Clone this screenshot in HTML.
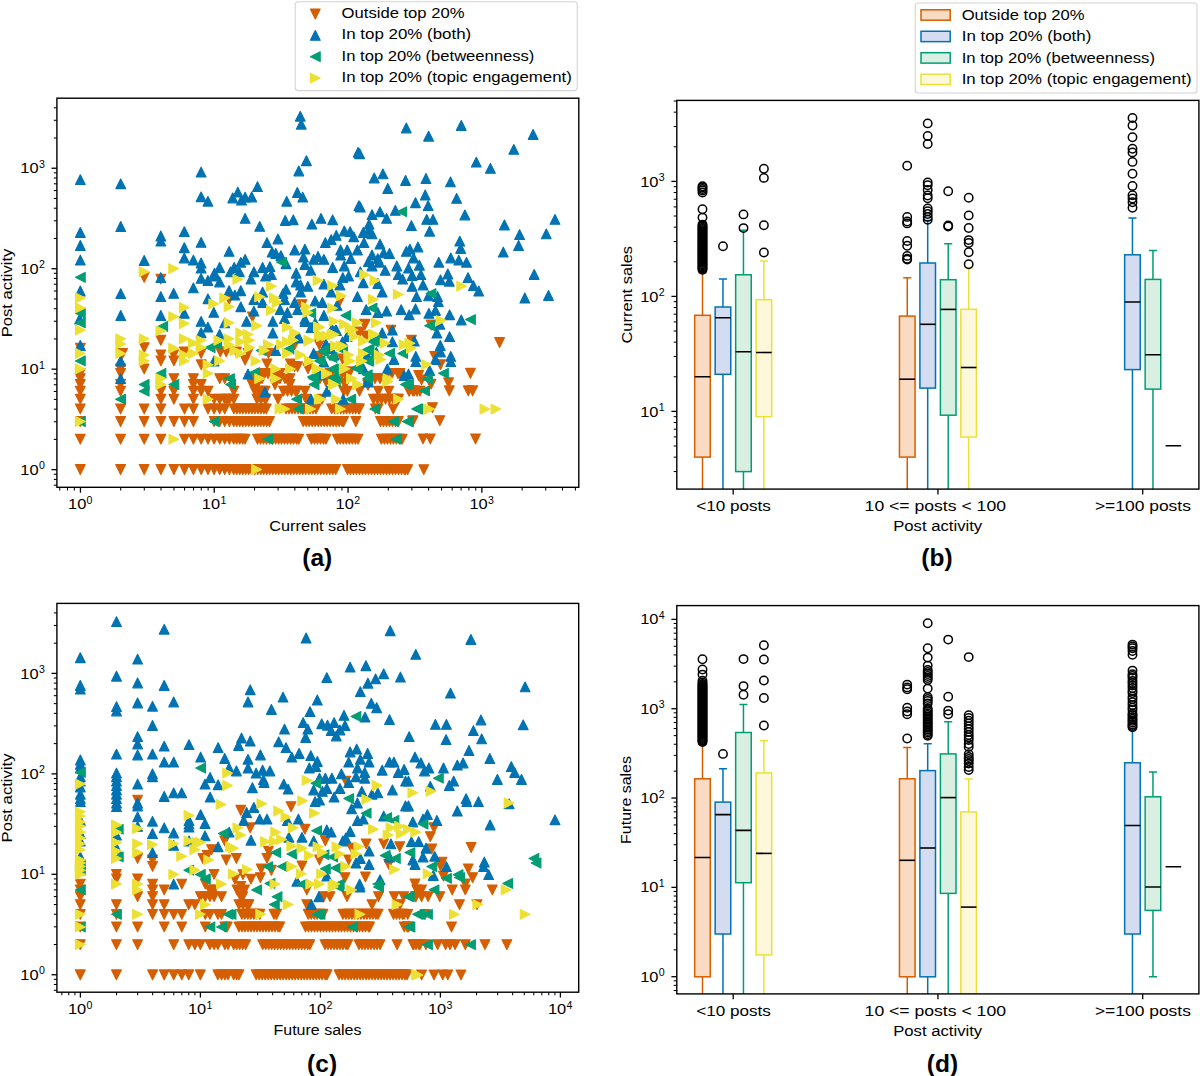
<!DOCTYPE html>
<html><head><meta charset="utf-8"><style>
html,body{margin:0;padding:0;background:#fff;width:1200px;height:1076px;overflow:hidden}
svg{display:block}
.mo{fill:#d55e00;stroke:#d55e00} .mb{fill:#0173b2;stroke:#0173b2} .mg{fill:#029e73;stroke:#029e73} .my{fill:#ece133;stroke:#ece133}
.mo,.mb,.mg,.my{stroke-width:1.15px;stroke-linejoin:round}
.oc{fill:none;stroke:#000;stroke-width:1.5px}
</style></head><body>
<svg width="1200" height="1076" viewBox="0 0 1200 1076">
<rect width="1200" height="1076" fill="#fff"/>
<svg x="56.9" y="98.2" width="521.9" height="389.1" overflow="hidden"><g transform="translate(-56.9,-98.2)">
<path class="mo" d="M75.5 343.4 85.2 343.4 80.3 353.2Z"/>
<path class="mo" d="M117.8 348.5 127.5 348.5 122.6 358.3Z"/>
<path class="mo" d="M139.3 272.4 149.1 272.4 144.2 282.2Z"/>
<path class="mo" d="M139.3 342.7 149.1 342.7 144.2 352.5Z"/>
<path class="mo" d="M156.0 274.2 165.7 274.2 160.8 283.9Z"/>
<path class="mo" d="M156.0 335.4 165.7 335.4 160.8 345.2Z"/>
<path class="mo" d="M156.0 350.0 165.7 350.0 160.8 359.8Z"/>
<path class="mo" d="M168.8 350.0 178.5 350.0 173.7 359.8Z"/>
<path class="mo" d="M179.4 347.1 189.2 347.1 184.3 356.8Z"/>
<path class="mo" d="M196.2 348.5 206.0 348.5 201.1 358.3Z"/>
<path class="mo" d="M215.5 347.1 225.2 347.1 220.3 356.8Z"/>
<path class="mo" d="M221.3 347.1 231.0 347.1 226.2 356.8Z"/>
<path class="mo" d="M224.2 294.6 234.0 294.6 229.1 304.3Z"/>
<path class="mo" d="M297.1 299.7 306.9 299.7 302.0 309.4Z"/>
<path class="mo" d="M335.0 296.0 344.8 296.0 339.9 305.8Z"/>
<path class="mo" d="M247.5 312.1 257.3 312.1 252.4 321.8Z"/>
<path class="mo" d="M359.8 319.4 369.6 319.4 364.7 329.1Z"/>
<path class="mo" d="M386.1 325.2 395.8 325.2 391.0 335.0Z"/>
<path class="mo" d="M354.0 328.1 363.8 328.1 358.9 337.9Z"/>
<path class="mo" d="M361.3 331.0 371.0 331.0 366.2 340.8Z"/>
<path class="mo" d="M289.8 339.8 299.6 339.8 294.7 349.5Z"/>
<path class="mo" d="M314.6 338.3 324.4 338.3 319.5 348.1Z"/>
<path class="mo" d="M231.5 347.1 241.3 347.1 236.4 356.8Z"/>
<path class="mo" d="M243.2 348.5 252.9 348.5 248.0 358.3Z"/>
<path class="mo" d="M263.6 348.5 273.3 348.5 268.5 358.3Z"/>
<path class="mo" d="M314.6 351.5 324.4 351.5 319.5 361.2Z"/>
<path class="mo" d="M426.2 320.1 435.9 320.1 431.1 329.9Z"/>
<path class="mo" d="M494.7 337.6 504.5 337.6 499.6 347.4Z"/>
<path class="mo" d="M406.5 335.4 416.3 335.4 411.4 345.2Z"/>
<path class="mo" d="M429.8 351.5 439.6 351.5 434.7 361.2Z"/>
<path class="mo" d="M75.4 464.6 85.2 464.6 80.3 474.4Z"/>
<path class="mo" d="M115.7 464.6 125.5 464.6 120.6 474.4Z"/>
<path class="mo" d="M139.3 464.6 149.0 464.6 144.2 474.4Z"/>
<path class="mo" d="M156.0 464.6 165.8 464.6 160.9 474.4Z"/>
<path class="mo" d="M169.0 464.6 178.7 464.6 173.9 474.4Z"/>
<path class="mo" d="M179.6 464.6 189.3 464.6 184.5 474.4Z"/>
<path class="mo" d="M188.5 464.6 198.3 464.6 193.4 474.4Z"/>
<path class="mo" d="M196.3 464.6 206.1 464.6 201.2 474.4Z"/>
<path class="mo" d="M203.2 464.6 212.9 464.6 208.0 474.4Z"/>
<path class="mo" d="M209.3 464.6 219.0 464.6 214.1 474.4Z"/>
<path class="mo" d="M214.8 464.6 224.6 464.6 219.7 474.4Z"/>
<path class="mo" d="M219.9 464.6 229.6 464.6 224.7 474.4Z"/>
<path class="mo" d="M224.5 464.6 234.3 464.6 229.4 474.4Z"/>
<path class="mo" d="M75.4 434.3 85.2 434.3 80.3 444.1Z"/>
<path class="mo" d="M115.7 434.3 125.5 434.3 120.6 444.1Z"/>
<path class="mo" d="M139.3 434.3 149.0 434.3 144.2 444.1Z"/>
<path class="mo" d="M156.0 434.3 165.8 434.3 160.9 444.1Z"/>
<path class="mo" d="M179.6 434.3 189.3 434.3 184.5 444.1Z"/>
<path class="mo" d="M188.5 434.3 198.3 434.3 193.4 444.1Z"/>
<path class="mo" d="M196.3 434.3 206.1 434.3 201.2 444.1Z"/>
<path class="mo" d="M203.2 434.3 212.9 434.3 208.0 444.1Z"/>
<path class="mo" d="M209.3 434.3 219.0 434.3 214.1 444.1Z"/>
<path class="mo" d="M214.8 434.3 224.6 434.3 219.7 444.1Z"/>
<path class="mo" d="M219.9 434.3 229.6 434.3 224.7 444.1Z"/>
<path class="mo" d="M224.5 434.3 234.3 434.3 229.4 444.1Z"/>
<path class="mo" d="M75.4 416.6 85.2 416.6 80.3 426.4Z"/>
<path class="mo" d="M115.7 416.6 125.5 416.6 120.6 426.4Z"/>
<path class="mo" d="M139.3 416.6 149.0 416.6 144.2 426.4Z"/>
<path class="mo" d="M156.0 416.6 165.8 416.6 160.9 426.4Z"/>
<path class="mo" d="M169.0 416.6 178.7 416.6 173.9 426.4Z"/>
<path class="mo" d="M179.6 416.6 189.3 416.6 184.5 426.4Z"/>
<path class="mo" d="M188.5 416.6 198.3 416.6 193.4 426.4Z"/>
<path class="mo" d="M209.3 416.6 219.0 416.6 214.1 426.4Z"/>
<path class="mo" d="M214.8 416.6 224.6 416.6 219.7 426.4Z"/>
<path class="mo" d="M219.9 416.6 229.6 416.6 224.7 426.4Z"/>
<path class="mo" d="M224.5 416.6 234.3 416.6 229.4 426.4Z"/>
<path class="mo" d="M75.4 404.1 85.2 404.1 80.3 413.8Z"/>
<path class="mo" d="M115.7 404.1 125.5 404.1 120.6 413.8Z"/>
<path class="mo" d="M139.3 404.1 149.0 404.1 144.2 413.8Z"/>
<path class="mo" d="M156.0 404.1 165.8 404.1 160.9 413.8Z"/>
<path class="mo" d="M179.6 404.1 189.3 404.1 184.5 413.8Z"/>
<path class="mo" d="M188.5 404.1 198.3 404.1 193.4 413.8Z"/>
<path class="mo" d="M203.2 404.1 212.9 404.1 208.0 413.8Z"/>
<path class="mo" d="M209.3 404.1 219.0 404.1 214.1 413.8Z"/>
<path class="mo" d="M214.8 404.1 224.6 404.1 219.7 413.8Z"/>
<path class="mo" d="M219.9 404.1 229.6 404.1 224.7 413.8Z"/>
<path class="mo" d="M75.4 394.3 85.2 394.3 80.3 404.1Z"/>
<path class="mo" d="M156.0 394.3 165.8 394.3 160.9 404.1Z"/>
<path class="mo" d="M169.0 394.3 178.7 394.3 173.9 404.1Z"/>
<path class="mo" d="M188.5 394.3 198.3 394.3 193.4 404.1Z"/>
<path class="mo" d="M209.3 394.3 219.0 394.3 214.1 404.1Z"/>
<path class="mo" d="M214.8 394.3 224.6 394.3 219.7 404.1Z"/>
<path class="mo" d="M219.9 394.3 229.6 394.3 224.7 404.1Z"/>
<path class="mo" d="M224.5 394.3 234.3 394.3 229.4 404.1Z"/>
<path class="mo" d="M75.4 386.3 85.2 386.3 80.3 396.1Z"/>
<path class="mo" d="M115.7 386.3 125.5 386.3 120.6 396.1Z"/>
<path class="mo" d="M156.0 386.3 165.8 386.3 160.9 396.1Z"/>
<path class="mo" d="M169.0 386.3 178.7 386.3 173.9 396.1Z"/>
<path class="mo" d="M188.5 386.3 198.3 386.3 193.4 396.1Z"/>
<path class="mo" d="M196.3 386.3 206.1 386.3 201.2 396.1Z"/>
<path class="mo" d="M203.2 386.3 212.9 386.3 208.0 396.1Z"/>
<path class="mo" d="M75.4 379.6 85.2 379.6 80.3 389.4Z"/>
<path class="mo" d="M115.7 379.6 125.5 379.6 120.6 389.4Z"/>
<path class="mo" d="M196.3 379.6 206.1 379.6 201.2 389.4Z"/>
<path class="mo" d="M188.5 379.6 198.3 379.6 193.4 389.4Z"/>
<path class="mo" d="M75.4 373.8 85.2 373.8 80.3 383.5Z"/>
<path class="mo" d="M169.0 373.8 178.7 373.8 173.9 383.5Z"/>
<path class="mo" d="M188.5 373.8 198.3 373.8 193.4 383.5Z"/>
<path class="mo" d="M214.8 373.8 224.6 373.8 219.7 383.5Z"/>
<path class="mo" d="M219.9 373.8 229.6 373.8 224.7 383.5Z"/>
<path class="mo" d="M75.4 368.6 85.2 368.6 80.3 378.4Z"/>
<path class="mo" d="M115.7 368.6 125.5 368.6 120.6 378.4Z"/>
<path class="mo" d="M115.7 364.0 125.5 364.0 120.6 373.8Z"/>
<path class="mo" d="M139.3 364.0 149.0 364.0 144.2 373.8Z"/>
<path class="mo" d="M196.3 359.9 206.1 359.9 201.2 369.6Z"/>
<path class="mo" d="M156.0 356.1 165.8 356.1 160.9 365.8Z"/>
<path class="mo" d="M169.0 356.1 178.7 356.1 173.9 365.8Z"/>
<path class="mo" d="M228.8 464.6 238.6 464.6 233.7 474.4Z"/>
<path class="mo" d="M231.8 464.6 241.6 464.6 236.7 474.4Z"/>
<path class="mo" d="M234.8 464.6 244.6 464.6 239.7 474.4Z"/>
<path class="mo" d="M237.8 464.6 247.6 464.6 242.7 474.4Z"/>
<path class="mo" d="M240.8 464.6 250.6 464.6 245.7 474.4Z"/>
<path class="mo" d="M243.8 464.6 253.6 464.6 248.7 474.4Z"/>
<path class="mo" d="M246.8 464.6 256.6 464.6 251.7 474.4Z"/>
<path class="mo" d="M249.8 464.6 259.6 464.6 254.7 474.4Z"/>
<path class="mo" d="M252.8 464.6 262.6 464.6 257.7 474.4Z"/>
<path class="mo" d="M255.8 464.6 265.6 464.6 260.7 474.4Z"/>
<path class="mo" d="M258.8 464.6 268.6 464.6 263.7 474.4Z"/>
<path class="mo" d="M261.8 464.6 271.6 464.6 266.7 474.4Z"/>
<path class="mo" d="M264.8 464.6 274.6 464.6 269.7 474.4Z"/>
<path class="mo" d="M267.8 464.6 277.6 464.6 272.7 474.4Z"/>
<path class="mo" d="M270.8 464.6 280.6 464.6 275.7 474.4Z"/>
<path class="mo" d="M273.8 464.6 283.6 464.6 278.7 474.4Z"/>
<path class="mo" d="M276.8 464.6 286.6 464.6 281.7 474.4Z"/>
<path class="mo" d="M279.8 464.6 289.6 464.6 284.7 474.4Z"/>
<path class="mo" d="M282.8 464.6 292.6 464.6 287.7 474.4Z"/>
<path class="mo" d="M285.8 464.6 295.6 464.6 290.7 474.4Z"/>
<path class="mo" d="M288.8 464.6 298.6 464.6 293.7 474.4Z"/>
<path class="mo" d="M291.8 464.6 301.6 464.6 296.7 474.4Z"/>
<path class="mo" d="M294.8 464.6 304.6 464.6 299.7 474.4Z"/>
<path class="mo" d="M297.8 464.6 307.6 464.6 302.7 474.4Z"/>
<path class="mo" d="M300.8 464.6 310.6 464.6 305.7 474.4Z"/>
<path class="mo" d="M303.8 464.6 313.6 464.6 308.7 474.4Z"/>
<path class="mo" d="M306.8 464.6 316.6 464.6 311.7 474.4Z"/>
<path class="mo" d="M309.8 464.6 319.6 464.6 314.7 474.4Z"/>
<path class="mo" d="M312.8 464.6 322.6 464.6 317.7 474.4Z"/>
<path class="mo" d="M315.8 464.6 325.6 464.6 320.7 474.4Z"/>
<path class="mo" d="M318.8 464.6 328.6 464.6 323.7 474.4Z"/>
<path class="mo" d="M321.8 464.6 331.6 464.6 326.7 474.4Z"/>
<path class="mo" d="M324.8 464.6 334.6 464.6 329.7 474.4Z"/>
<path class="mo" d="M327.8 464.6 337.6 464.6 332.7 474.4Z"/>
<path class="mo" d="M330.8 464.6 340.6 464.6 335.7 474.4Z"/>
<path class="mo" d="M342.6 464.6 352.4 464.6 347.5 474.4Z"/>
<path class="mo" d="M345.6 464.6 355.4 464.6 350.5 474.4Z"/>
<path class="mo" d="M348.6 464.6 358.4 464.6 353.5 474.4Z"/>
<path class="mo" d="M351.6 464.6 361.4 464.6 356.5 474.4Z"/>
<path class="mo" d="M354.6 464.6 364.4 464.6 359.5 474.4Z"/>
<path class="mo" d="M357.6 464.6 367.4 464.6 362.5 474.4Z"/>
<path class="mo" d="M360.6 464.6 370.4 464.6 365.5 474.4Z"/>
<path class="mo" d="M363.6 464.6 373.4 464.6 368.5 474.4Z"/>
<path class="mo" d="M366.6 464.6 376.4 464.6 371.5 474.4Z"/>
<path class="mo" d="M369.6 464.6 379.4 464.6 374.5 474.4Z"/>
<path class="mo" d="M372.6 464.6 382.4 464.6 377.5 474.4Z"/>
<path class="mo" d="M375.6 464.6 385.4 464.6 380.5 474.4Z"/>
<path class="mo" d="M378.6 464.6 388.4 464.6 383.5 474.4Z"/>
<path class="mo" d="M381.6 464.6 391.4 464.6 386.5 474.4Z"/>
<path class="mo" d="M384.6 464.6 394.4 464.6 389.5 474.4Z"/>
<path class="mo" d="M387.6 464.6 397.4 464.6 392.5 474.4Z"/>
<path class="mo" d="M390.6 464.6 400.4 464.6 395.5 474.4Z"/>
<path class="mo" d="M393.6 464.6 403.4 464.6 398.5 474.4Z"/>
<path class="mo" d="M396.6 464.6 406.4 464.6 401.5 474.4Z"/>
<path class="mo" d="M399.6 464.6 409.4 464.6 404.5 474.4Z"/>
<path class="mo" d="M400.5 464.6 410.3 464.6 405.4 474.4Z"/>
<path class="mo" d="M228.8 434.3 238.6 434.3 233.7 444.1Z"/>
<path class="mo" d="M231.8 434.3 241.6 434.3 236.7 444.1Z"/>
<path class="mo" d="M234.8 434.3 244.6 434.3 239.7 444.1Z"/>
<path class="mo" d="M237.8 434.3 247.6 434.3 242.7 444.1Z"/>
<path class="mo" d="M240.1 434.3 249.9 434.3 245.0 444.1Z"/>
<path class="mo" d="M252.7 434.3 262.5 434.3 257.6 444.1Z"/>
<path class="mo" d="M255.7 434.3 265.5 434.3 260.6 444.1Z"/>
<path class="mo" d="M258.7 434.3 268.5 434.3 263.6 444.1Z"/>
<path class="mo" d="M261.7 434.3 271.5 434.3 266.6 444.1Z"/>
<path class="mo" d="M264.7 434.3 274.5 434.3 269.6 444.1Z"/>
<path class="mo" d="M267.7 434.3 277.5 434.3 272.6 444.1Z"/>
<path class="mo" d="M270.7 434.3 280.5 434.3 275.6 444.1Z"/>
<path class="mo" d="M273.7 434.3 283.5 434.3 278.6 444.1Z"/>
<path class="mo" d="M276.7 434.3 286.5 434.3 281.6 444.1Z"/>
<path class="mo" d="M279.7 434.3 289.5 434.3 284.6 444.1Z"/>
<path class="mo" d="M282.7 434.3 292.5 434.3 287.6 444.1Z"/>
<path class="mo" d="M285.7 434.3 295.5 434.3 290.6 444.1Z"/>
<path class="mo" d="M288.7 434.3 298.5 434.3 293.6 444.1Z"/>
<path class="mo" d="M291.7 434.3 301.5 434.3 296.6 444.1Z"/>
<path class="mo" d="M293.8 434.3 303.6 434.3 298.7 444.1Z"/>
<path class="mo" d="M306.6 434.3 316.4 434.3 311.5 444.1Z"/>
<path class="mo" d="M309.6 434.3 319.4 434.3 314.5 444.1Z"/>
<path class="mo" d="M312.6 434.3 322.4 434.3 317.5 444.1Z"/>
<path class="mo" d="M315.6 434.3 325.4 434.3 320.5 444.1Z"/>
<path class="mo" d="M318.6 434.3 328.4 434.3 323.5 444.1Z"/>
<path class="mo" d="M321.1 434.3 330.9 434.3 326.0 444.1Z"/>
<path class="mo" d="M332.4 434.3 342.2 434.3 337.3 444.1Z"/>
<path class="mo" d="M335.4 434.3 345.2 434.3 340.3 444.1Z"/>
<path class="mo" d="M338.4 434.3 348.2 434.3 343.3 444.1Z"/>
<path class="mo" d="M341.4 434.3 351.2 434.3 346.3 444.1Z"/>
<path class="mo" d="M344.4 434.3 354.2 434.3 349.3 444.1Z"/>
<path class="mo" d="M347.4 434.3 357.2 434.3 352.3 444.1Z"/>
<path class="mo" d="M350.4 434.3 360.2 434.3 355.3 444.1Z"/>
<path class="mo" d="M353.1 434.3 362.9 434.3 358.0 444.1Z"/>
<path class="mo" d="M376.5 434.3 386.3 434.3 381.4 444.1Z"/>
<path class="mo" d="M379.5 434.3 389.3 434.3 384.4 444.1Z"/>
<path class="mo" d="M382.5 434.3 392.3 434.3 387.4 444.1Z"/>
<path class="mo" d="M385.5 434.3 395.3 434.3 390.4 444.1Z"/>
<path class="mo" d="M388.5 434.3 398.3 434.3 393.4 444.1Z"/>
<path class="mo" d="M391.5 434.3 401.3 434.3 396.4 444.1Z"/>
<path class="mo" d="M394.5 434.3 404.3 434.3 399.4 444.1Z"/>
<path class="mo" d="M397.3 434.3 407.1 434.3 402.2 444.1Z"/>
<path class="mo" d="M228.8 416.6 238.6 416.6 233.7 426.4Z"/>
<path class="mo" d="M231.8 416.6 241.6 416.6 236.7 426.4Z"/>
<path class="mo" d="M234.8 416.6 244.6 416.6 239.7 426.4Z"/>
<path class="mo" d="M237.8 416.6 247.6 416.6 242.7 426.4Z"/>
<path class="mo" d="M240.8 416.6 250.6 416.6 245.7 426.4Z"/>
<path class="mo" d="M243.8 416.6 253.6 416.6 248.7 426.4Z"/>
<path class="mo" d="M246.8 416.6 256.6 416.6 251.7 426.4Z"/>
<path class="mo" d="M249.8 416.6 259.6 416.6 254.7 426.4Z"/>
<path class="mo" d="M252.8 416.6 262.6 416.6 257.7 426.4Z"/>
<path class="mo" d="M255.8 416.6 265.6 416.6 260.7 426.4Z"/>
<path class="mo" d="M258.8 416.6 268.6 416.6 263.7 426.4Z"/>
<path class="mo" d="M261.8 416.6 271.6 416.6 266.7 426.4Z"/>
<path class="mo" d="M264.6 416.6 274.4 416.6 269.5 426.4Z"/>
<path class="mo" d="M298.3 416.6 308.1 416.6 303.2 426.4Z"/>
<path class="mo" d="M301.3 416.6 311.1 416.6 306.2 426.4Z"/>
<path class="mo" d="M304.3 416.6 314.1 416.6 309.2 426.4Z"/>
<path class="mo" d="M307.3 416.6 317.1 416.6 312.2 426.4Z"/>
<path class="mo" d="M310.3 416.6 320.1 416.6 315.2 426.4Z"/>
<path class="mo" d="M313.3 416.6 323.1 416.6 318.2 426.4Z"/>
<path class="mo" d="M316.3 416.6 326.1 416.6 321.2 426.4Z"/>
<path class="mo" d="M319.3 416.6 329.1 416.6 324.2 426.4Z"/>
<path class="mo" d="M322.3 416.6 332.1 416.6 327.2 426.4Z"/>
<path class="mo" d="M325.3 416.6 335.1 416.6 330.2 426.4Z"/>
<path class="mo" d="M328.3 416.6 338.1 416.6 333.2 426.4Z"/>
<path class="mo" d="M331.3 416.6 341.1 416.6 336.2 426.4Z"/>
<path class="mo" d="M334.3 416.6 344.1 416.6 339.2 426.4Z"/>
<path class="mo" d="M337.3 416.6 347.1 416.6 342.2 426.4Z"/>
<path class="mo" d="M338.7 416.6 348.5 416.6 343.6 426.4Z"/>
<path class="mo" d="M350.9 416.6 360.7 416.6 355.8 426.4Z"/>
<path class="mo" d="M375.6 416.6 385.4 416.6 380.5 426.4Z"/>
<path class="mo" d="M378.6 416.6 388.4 416.6 383.5 426.4Z"/>
<path class="mo" d="M381.6 416.6 391.4 416.6 386.5 426.4Z"/>
<path class="mo" d="M384.6 416.6 394.4 416.6 389.5 426.4Z"/>
<path class="mo" d="M387.6 416.6 397.4 416.6 392.5 426.4Z"/>
<path class="mo" d="M390.6 416.6 400.4 416.6 395.5 426.4Z"/>
<path class="mo" d="M393.5 416.6 403.3 416.6 398.4 426.4Z"/>
<path class="mo" d="M407.8 416.6 417.6 416.6 412.7 426.4Z"/>
<path class="mo" d="M229.0 404.0 238.8 404.0 233.9 413.8Z"/>
<path class="mo" d="M232.0 404.0 241.8 404.0 236.9 413.8Z"/>
<path class="mo" d="M235.0 404.0 244.8 404.0 239.9 413.8Z"/>
<path class="mo" d="M238.0 404.0 247.8 404.0 242.9 413.8Z"/>
<path class="mo" d="M241.0 404.0 250.8 404.0 245.9 413.8Z"/>
<path class="mo" d="M244.0 404.0 253.8 404.0 248.9 413.8Z"/>
<path class="mo" d="M247.0 404.0 256.8 404.0 251.9 413.8Z"/>
<path class="mo" d="M250.0 404.0 259.8 404.0 254.9 413.8Z"/>
<path class="mo" d="M253.0 404.0 262.8 404.0 257.9 413.8Z"/>
<path class="mo" d="M256.0 404.0 265.8 404.0 260.9 413.8Z"/>
<path class="mo" d="M259.0 404.0 268.8 404.0 263.9 413.8Z"/>
<path class="mo" d="M261.4 404.0 271.2 404.0 266.3 413.8Z"/>
<path class="mo" d="M281.1 404.0 290.9 404.0 286.0 413.8Z"/>
<path class="mo" d="M284.1 404.0 293.9 404.0 289.0 413.8Z"/>
<path class="mo" d="M287.1 404.0 296.9 404.0 292.0 413.8Z"/>
<path class="mo" d="M290.1 404.0 299.9 404.0 295.0 413.8Z"/>
<path class="mo" d="M293.1 404.0 302.9 404.0 298.0 413.8Z"/>
<path class="mo" d="M296.1 404.0 305.9 404.0 301.0 413.8Z"/>
<path class="mo" d="M299.1 404.0 308.9 404.0 304.0 413.8Z"/>
<path class="mo" d="M302.1 404.0 311.9 404.0 307.0 413.8Z"/>
<path class="mo" d="M305.1 404.0 314.9 404.0 310.0 413.8Z"/>
<path class="mo" d="M308.1 404.0 317.9 404.0 313.0 413.8Z"/>
<path class="mo" d="M311.1 404.0 320.9 404.0 316.0 413.8Z"/>
<path class="mo" d="M326.8 404.0 336.6 404.0 331.7 413.8Z"/>
<path class="mo" d="M329.8 404.0 339.6 404.0 334.7 413.8Z"/>
<path class="mo" d="M332.8 404.0 342.6 404.0 337.7 413.8Z"/>
<path class="mo" d="M335.8 404.0 345.6 404.0 340.7 413.8Z"/>
<path class="mo" d="M338.8 404.0 348.6 404.0 343.7 413.8Z"/>
<path class="mo" d="M341.8 404.0 351.6 404.0 346.7 413.8Z"/>
<path class="mo" d="M344.8 404.0 354.6 404.0 349.7 413.8Z"/>
<path class="mo" d="M347.8 404.0 357.6 404.0 352.7 413.8Z"/>
<path class="mo" d="M350.8 404.0 360.6 404.0 355.7 413.8Z"/>
<path class="mo" d="M353.8 404.0 363.6 404.0 358.7 413.8Z"/>
<path class="mo" d="M354.5 404.0 364.3 404.0 359.4 413.8Z"/>
<path class="mo" d="M370.5 404.0 380.3 404.0 375.4 413.8Z"/>
<path class="mo" d="M373.1 404.0 382.9 404.0 378.0 413.8Z"/>
<path class="mo" d="M388.3 404.0 398.1 404.0 393.2 413.8Z"/>
<path class="mo" d="M222.0 394.3 231.8 394.3 226.9 404.1Z"/>
<path class="mo" d="M228.9 394.3 238.7 394.3 233.8 404.1Z"/>
<path class="mo" d="M252.1 394.3 261.9 394.3 257.0 404.1Z"/>
<path class="mo" d="M256.1 394.3 265.9 394.3 261.0 404.1Z"/>
<path class="mo" d="M260.1 394.3 269.9 394.3 265.0 404.1Z"/>
<path class="mo" d="M261.1 394.3 270.9 394.3 266.0 404.1Z"/>
<path class="mo" d="M273.1 394.3 282.9 394.3 278.0 404.1Z"/>
<path class="mo" d="M301.1 394.3 310.9 394.3 306.0 404.1Z"/>
<path class="mo" d="M317.1 394.3 326.9 394.3 322.0 404.1Z"/>
<path class="mo" d="M368.6 394.3 378.4 394.3 373.5 404.1Z"/>
<path class="mo" d="M372.6 394.3 382.4 394.3 377.5 404.1Z"/>
<path class="mo" d="M376.6 394.3 386.4 394.3 381.5 404.1Z"/>
<path class="mo" d="M380.6 394.3 390.4 394.3 385.5 404.1Z"/>
<path class="mo" d="M384.6 394.3 394.4 394.3 389.5 404.1Z"/>
<path class="mo" d="M388.6 394.3 398.4 394.3 393.5 404.1Z"/>
<path class="mo" d="M392.6 394.3 402.4 394.3 397.5 404.1Z"/>
<path class="mo" d="M393.5 394.3 403.3 394.3 398.4 404.1Z"/>
<path class="mo" d="M228.9 386.3 238.7 386.3 233.8 396.1Z"/>
<path class="mo" d="M250.1 386.3 259.9 386.3 255.0 396.1Z"/>
<path class="mo" d="M254.1 386.3 263.9 386.3 259.0 396.1Z"/>
<path class="mo" d="M258.1 386.3 267.9 386.3 263.0 396.1Z"/>
<path class="mo" d="M260.1 386.3 269.9 386.3 265.0 396.1Z"/>
<path class="mo" d="M278.6 386.3 288.4 386.3 283.5 396.1Z"/>
<path class="mo" d="M282.6 386.3 292.4 386.3 287.5 396.1Z"/>
<path class="mo" d="M286.6 386.3 296.4 386.3 291.5 396.1Z"/>
<path class="mo" d="M290.6 386.3 300.4 386.3 295.5 396.1Z"/>
<path class="mo" d="M292.1 386.3 301.9 386.3 297.0 396.1Z"/>
<path class="mo" d="M300.1 386.3 309.9 386.3 305.0 396.1Z"/>
<path class="mo" d="M338.9 386.3 348.7 386.3 343.8 396.1Z"/>
<path class="mo" d="M342.4 386.3 352.2 386.3 347.3 396.1Z"/>
<path class="mo" d="M354.6 386.3 364.4 386.3 359.5 396.1Z"/>
<path class="mo" d="M373.4 386.3 383.2 386.3 378.3 396.1Z"/>
<path class="mo" d="M383.9 386.3 393.7 386.3 388.8 396.1Z"/>
<path class="mo" d="M404.1 386.3 413.9 386.3 409.0 396.1Z"/>
<path class="mo" d="M408.1 386.3 417.9 386.3 413.0 396.1Z"/>
<path class="mo" d="M412.1 386.3 421.9 386.3 417.0 396.1Z"/>
<path class="mo" d="M415.1 386.3 424.9 386.3 420.0 396.1Z"/>
<path class="mo" d="M247.1 379.6 256.9 379.6 252.0 389.4Z"/>
<path class="mo" d="M251.1 379.6 260.9 379.6 256.0 389.4Z"/>
<path class="mo" d="M252.1 379.6 261.9 379.6 257.0 389.4Z"/>
<path class="mo" d="M270.1 379.6 279.9 379.6 275.0 389.4Z"/>
<path class="mo" d="M285.1 379.6 294.9 379.6 290.0 389.4Z"/>
<path class="mo" d="M340.1 379.6 349.9 379.6 345.0 389.4Z"/>
<path class="mo" d="M363.0 379.6 372.8 379.6 367.9 389.4Z"/>
<path class="mo" d="M245.1 373.7 254.9 373.7 250.0 383.5Z"/>
<path class="mo" d="M250.1 373.7 259.9 373.7 255.0 383.5Z"/>
<path class="mo" d="M255.1 373.7 264.9 373.7 260.0 383.5Z"/>
<path class="mo" d="M257.1 373.7 266.9 373.7 262.0 383.5Z"/>
<path class="mo" d="M270.1 373.7 279.9 373.7 275.0 383.5Z"/>
<path class="mo" d="M275.1 373.7 284.9 373.7 280.0 383.5Z"/>
<path class="mo" d="M280.1 373.7 289.9 373.7 285.0 383.5Z"/>
<path class="mo" d="M285.1 373.7 294.9 373.7 290.0 383.5Z"/>
<path class="mo" d="M315.1 373.7 324.9 373.7 320.0 383.5Z"/>
<path class="mo" d="M320.1 373.7 329.9 373.7 325.0 383.5Z"/>
<path class="mo" d="M325.1 373.7 334.9 373.7 330.0 383.5Z"/>
<path class="mo" d="M365.1 373.7 374.9 373.7 370.0 383.5Z"/>
<path class="mo" d="M370.1 373.7 379.9 373.7 375.0 383.5Z"/>
<path class="mo" d="M375.1 373.7 384.9 373.7 380.0 383.5Z"/>
<path class="mo" d="M380.1 373.7 389.9 373.7 385.0 383.5Z"/>
<path class="mo" d="M257.1 368.6 266.9 368.6 262.0 378.4Z"/>
<path class="mo" d="M263.1 368.6 272.9 368.6 268.0 378.4Z"/>
<path class="mo" d="M269.1 368.6 278.9 368.6 274.0 378.4Z"/>
<path class="mo" d="M275.1 368.6 284.9 368.6 280.0 378.4Z"/>
<path class="mo" d="M325.1 368.6 334.9 368.6 330.0 378.4Z"/>
<path class="mo" d="M331.1 368.6 340.9 368.6 336.0 378.4Z"/>
<path class="mo" d="M337.1 368.6 346.9 368.6 342.0 378.4Z"/>
<path class="mo" d="M340.1 368.6 349.9 368.6 345.0 378.4Z"/>
<path class="mo" d="M387.1 368.6 396.9 368.6 392.0 378.4Z"/>
<path class="mo" d="M393.1 368.6 402.9 368.6 398.0 378.4Z"/>
<path class="mo" d="M395.1 368.6 404.9 368.6 400.0 378.4Z"/>
<path class="mo" d="M240.3 355.3 250.0 355.3 245.1 365.1Z"/>
<path class="mo" d="M285.5 359.0 295.2 359.0 290.3 368.7Z"/>
<path class="mo" d="M292.8 361.9 302.5 361.9 297.6 371.6Z"/>
<path class="mo" d="M262.1 359.0 271.9 359.0 267.0 368.7Z"/>
<path class="mo" d="M435.7 359.7 445.4 359.7 440.5 369.4Z"/>
<path class="mo" d="M465.6 368.4 475.3 368.4 470.4 378.2Z"/>
<path class="mo" d="M413.8 370.6 423.5 370.6 418.7 380.4Z"/>
<path class="mo" d="M416.7 375.0 426.5 375.0 421.6 384.8Z"/>
<path class="mo" d="M426.2 379.4 435.9 379.4 431.1 389.1Z"/>
<path class="mo" d="M443.7 377.9 453.4 377.9 448.6 387.7Z"/>
<path class="mo" d="M404.3 385.9 414.1 385.9 409.2 395.7Z"/>
<path class="mo" d="M409.4 385.9 419.2 385.9 414.3 395.7Z"/>
<path class="mo" d="M444.4 385.9 454.2 385.9 449.3 395.7Z"/>
<path class="mo" d="M463.4 385.9 473.1 385.9 468.3 395.7Z"/>
<path class="mo" d="M467.8 385.9 477.5 385.9 472.6 395.7Z"/>
<path class="mo" d="M427.6 402.7 437.4 402.7 432.5 412.5Z"/>
<path class="mo" d="M408.0 415.8 417.7 415.8 412.8 425.6Z"/>
<path class="mo" d="M434.9 415.8 444.7 415.8 439.8 425.6Z"/>
<path class="mo" d="M418.2 434.1 427.9 434.1 423.0 443.8Z"/>
<path class="mo" d="M425.5 434.1 435.2 434.1 430.3 443.8Z"/>
<path class="mo" d="M470.7 434.1 480.4 434.1 475.5 443.8Z"/>
<path class="mo" d="M402.9 464.7 412.6 464.7 407.7 474.4Z"/>
<path class="mo" d="M418.9 464.7 428.6 464.7 423.8 474.4Z"/>
<path class="mo" d="M314.4 339.9 324.1 339.9 319.3 349.6Z"/>
<path class="mo" d="M337.6 354.1 347.4 354.1 342.5 363.9Z"/>
<path class="mo" d="M360.1 319.6 369.9 319.6 365.0 329.4Z"/>
<path class="mo" d="M354.9 327.1 364.6 327.1 359.8 336.9Z"/>
<path class="mo" d="M360.9 331.6 370.6 331.6 365.8 341.4Z"/>
<path class="mo" d="M289.6 361.6 299.4 361.6 294.5 371.4Z"/>
<path class="mo" d="M303.1 363.9 312.9 363.9 308.0 373.6Z"/>
<path class="mo" d="M345.1 366.9 354.9 366.9 350.0 376.6Z"/>
<path class="mo" d="M321.1 376.6 330.9 376.6 326.0 386.4Z"/>
<path class="mo" d="M340.6 378.1 350.4 378.1 345.5 387.9Z"/>
<path class="mo" d="M363.1 380.4 372.9 380.4 368.0 390.1Z"/>
<path class="mb" d="M75.5 184.5 85.2 184.5 80.3 174.8Z"/>
<path class="mb" d="M115.9 188.6 125.6 188.6 120.7 178.9Z"/>
<path class="mb" d="M196.2 177.0 206.0 177.0 201.1 167.2Z"/>
<path class="mb" d="M196.2 201.6 206.0 201.6 201.1 191.9Z"/>
<path class="mb" d="M203.1 206.1 212.8 206.1 207.9 196.4Z"/>
<path class="mb" d="M115.9 231.4 125.6 231.4 120.7 221.6Z"/>
<path class="mb" d="M295.4 121.1 305.1 121.1 300.3 111.4Z"/>
<path class="mb" d="M296.4 129.1 306.1 129.1 301.3 119.4Z"/>
<path class="mb" d="M353.3 157.1 363.0 157.1 358.1 147.4Z"/>
<path class="mb" d="M354.7 158.6 364.5 158.6 359.6 148.8Z"/>
<path class="mb" d="M301.5 165.6 311.3 165.6 306.4 155.8Z"/>
<path class="mb" d="M293.9 175.8 303.7 175.8 298.8 166.0Z"/>
<path class="mb" d="M369.3 182.8 379.1 182.8 374.2 173.0Z"/>
<path class="mb" d="M378.1 178.7 387.8 178.7 382.9 169.0Z"/>
<path class="mb" d="M382.9 193.3 392.6 193.3 387.8 183.5Z"/>
<path class="mb" d="M401.4 132.8 411.1 132.8 406.3 123.0Z"/>
<path class="mb" d="M400.7 185.3 410.4 185.3 405.5 175.5Z"/>
<path class="mb" d="M252.6 191.5 262.4 191.5 257.5 181.8Z"/>
<path class="mb" d="M233.0 196.9 242.7 196.9 237.8 187.2Z"/>
<path class="mb" d="M227.9 202.8 237.6 202.8 232.7 193.0Z"/>
<path class="mb" d="M240.3 202.0 250.0 202.0 245.1 192.3Z"/>
<path class="mb" d="M236.6 205.0 246.4 205.0 241.5 195.2Z"/>
<path class="mb" d="M246.8 201.8 256.6 201.8 251.7 192.0Z"/>
<path class="mb" d="M292.5 197.4 302.2 197.4 297.3 187.6Z"/>
<path class="mb" d="M297.9 202.0 307.6 202.0 302.7 192.3Z"/>
<path class="mb" d="M281.8 206.1 291.6 206.1 286.7 196.4Z"/>
<path class="mb" d="M354.0 210.5 363.8 210.5 358.9 200.8Z"/>
<path class="mb" d="M355.5 212.0 365.2 212.0 360.3 202.2Z"/>
<path class="mb" d="M240.3 223.2 250.0 223.2 245.1 213.4Z"/>
<path class="mb" d="M280.4 225.4 290.1 225.4 285.2 215.6Z"/>
<path class="mb" d="M288.4 224.6 298.1 224.6 293.3 214.9Z"/>
<path class="mb" d="M316.1 223.2 325.8 223.2 321.0 213.4Z"/>
<path class="mb" d="M327.8 224.6 337.5 224.6 332.6 214.9Z"/>
<path class="mb" d="M367.1 219.5 376.9 219.5 372.0 209.8Z"/>
<path class="mb" d="M375.1 216.6 384.9 216.6 380.0 206.9Z"/>
<path class="mb" d="M381.7 223.2 391.5 223.2 386.6 213.4Z"/>
<path class="mb" d="M390.5 215.2 400.2 215.2 395.3 205.4Z"/>
<path class="mb" d="M307.0 229.0 316.8 229.0 311.9 219.3Z"/>
<path class="mb" d="M364.2 229.0 374.0 229.0 369.1 219.3Z"/>
<path class="mb" d="M254.8 231.2 264.6 231.2 259.7 221.5Z"/>
<path class="mb" d="M423.7 141.1 433.5 141.1 428.6 131.3Z"/>
<path class="mb" d="M456.4 130.3 466.1 130.3 461.3 120.5Z"/>
<path class="mb" d="M528.3 139.3 538.0 139.3 533.1 129.6Z"/>
<path class="mb" d="M508.9 154.2 518.6 154.2 513.8 144.5Z"/>
<path class="mb" d="M471.4 167.0 481.1 167.0 476.3 157.3Z"/>
<path class="mb" d="M485.5 173.2 495.3 173.2 490.4 163.4Z"/>
<path class="mb" d="M421.1 183.4 430.8 183.4 426.0 173.6Z"/>
<path class="mb" d="M445.6 186.7 455.3 186.7 450.5 177.0Z"/>
<path class="mb" d="M420.4 199.9 430.1 199.9 425.2 190.1Z"/>
<path class="mb" d="M410.6 207.6 420.3 207.6 415.5 197.8Z"/>
<path class="mb" d="M423.3 210.5 433.0 210.5 428.1 200.8Z"/>
<path class="mb" d="M451.7 203.2 461.5 203.2 456.6 193.5Z"/>
<path class="mb" d="M460.0 219.8 469.8 219.8 464.9 210.1Z"/>
<path class="mb" d="M421.8 224.2 431.6 224.2 426.7 214.5Z"/>
<path class="mb" d="M428.1 224.2 437.8 224.2 433.0 214.5Z"/>
<path class="mb" d="M550.1 224.2 559.9 224.2 555.0 214.5Z"/>
<path class="mb" d="M499.5 229.8 509.3 229.8 504.4 220.0Z"/>
<path class="mb" d="M406.5 230.5 416.3 230.5 411.4 220.7Z"/>
<path class="mb" d="M75.5 237.3 85.2 237.3 80.3 227.5Z"/>
<path class="mb" d="M75.5 250.4 85.2 250.4 80.3 240.6Z"/>
<path class="mb" d="M75.5 265.0 85.2 265.0 80.3 255.2Z"/>
<path class="mb" d="M75.5 295.9 85.2 295.9 80.3 286.1Z"/>
<path class="mb" d="M74.7 324.0 84.5 324.0 79.6 314.3Z"/>
<path class="mb" d="M75.5 350.3 85.2 350.3 80.3 340.5Z"/>
<path class="mb" d="M115.9 298.5 125.6 298.5 120.7 288.8Z"/>
<path class="mb" d="M115.9 320.4 125.6 320.4 120.7 310.6Z"/>
<path class="mb" d="M139.3 265.3 149.1 265.3 144.2 255.5Z"/>
<path class="mb" d="M156.0 240.9 165.7 240.9 160.8 231.1Z"/>
<path class="mb" d="M156.0 246.0 165.7 246.0 160.8 236.3Z"/>
<path class="mb" d="M156.0 282.5 165.7 282.5 160.8 272.7Z"/>
<path class="mb" d="M156.0 301.4 165.7 301.4 160.8 291.7Z"/>
<path class="mb" d="M156.0 320.4 165.7 320.4 160.8 310.6Z"/>
<path class="mb" d="M168.8 298.2 178.5 298.2 173.7 288.5Z"/>
<path class="mb" d="M179.4 236.5 189.2 236.5 184.3 226.8Z"/>
<path class="mb" d="M179.4 252.6 189.2 252.6 184.3 242.8Z"/>
<path class="mb" d="M179.4 262.8 189.2 262.8 184.3 253.0Z"/>
<path class="mb" d="M179.4 318.2 189.2 318.2 184.3 308.4Z"/>
<path class="mb" d="M188.5 265.0 198.2 265.0 193.4 255.2Z"/>
<path class="mb" d="M188.5 292.7 198.2 292.7 193.4 282.9Z"/>
<path class="mb" d="M196.2 247.2 206.0 247.2 201.1 237.4Z"/>
<path class="mb" d="M196.2 267.9 206.0 267.9 201.1 258.1Z"/>
<path class="mb" d="M196.2 273.0 206.0 273.0 201.1 263.2Z"/>
<path class="mb" d="M196.2 283.2 206.0 283.2 201.1 273.4Z"/>
<path class="mb" d="M196.2 326.2 206.0 326.2 201.1 316.5Z"/>
<path class="mb" d="M196.2 337.6 206.0 337.6 201.1 327.8Z"/>
<path class="mb" d="M203.1 303.6 212.8 303.6 207.9 293.9Z"/>
<path class="mb" d="M203.1 285.4 212.8 285.4 207.9 275.6Z"/>
<path class="mb" d="M203.1 332.0 212.8 332.0 207.9 322.3Z"/>
<path class="mb" d="M209.6 278.1 219.4 278.1 214.5 268.3Z"/>
<path class="mb" d="M209.6 281.0 219.4 281.0 214.5 271.3Z"/>
<path class="mb" d="M214.7 272.3 224.5 272.3 219.6 262.5Z"/>
<path class="mb" d="M214.7 286.8 224.5 286.8 219.6 277.1Z"/>
<path class="mb" d="M208.9 317.2 218.6 317.2 213.8 307.4Z"/>
<path class="mb" d="M214.7 339.3 224.5 339.3 219.6 329.6Z"/>
<path class="mb" d="M224.2 256.2 234.0 256.2 229.1 246.5Z"/>
<path class="mb" d="M225.7 276.6 235.4 276.6 230.5 266.9Z"/>
<path class="mb" d="M224.2 295.6 234.0 295.6 229.1 285.8Z"/>
<path class="mb" d="M219.8 327.7 229.6 327.7 224.7 317.9Z"/>
<path class="mb" d="M339.4 235.8 349.2 235.8 344.3 226.0Z"/>
<path class="mb" d="M345.3 236.5 355.0 236.5 350.1 226.8Z"/>
<path class="mb" d="M348.9 241.6 358.6 241.6 353.8 231.9Z"/>
<path class="mb" d="M358.4 237.3 368.1 237.3 363.3 227.5Z"/>
<path class="mb" d="M367.1 238.7 376.9 238.7 372.0 229.0Z"/>
<path class="mb" d="M364.2 234.3 374.0 234.3 369.1 224.6Z"/>
<path class="mb" d="M273.1 243.8 282.8 243.8 277.9 234.1Z"/>
<path class="mb" d="M262.1 247.5 271.9 247.5 267.0 237.7Z"/>
<path class="mb" d="M320.5 247.5 330.2 247.5 325.3 237.7Z"/>
<path class="mb" d="M326.3 244.5 336.0 244.5 331.2 234.8Z"/>
<path class="mb" d="M331.4 240.2 341.1 240.2 336.3 230.4Z"/>
<path class="mb" d="M359.1 247.5 368.9 247.5 364.0 237.7Z"/>
<path class="mb" d="M375.1 248.9 384.9 248.9 380.0 239.2Z"/>
<path class="mb" d="M289.8 254.8 299.6 254.8 294.7 245.0Z"/>
<path class="mb" d="M300.0 254.0 309.8 254.0 304.9 244.3Z"/>
<path class="mb" d="M267.2 256.9 277.0 256.9 272.1 247.2Z"/>
<path class="mb" d="M270.9 258.4 280.6 258.4 275.8 248.6Z"/>
<path class="mb" d="M276.0 260.6 285.7 260.6 280.9 250.8Z"/>
<path class="mb" d="M335.8 254.8 345.5 254.8 340.6 245.0Z"/>
<path class="mb" d="M342.3 254.8 352.1 254.8 347.2 245.0Z"/>
<path class="mb" d="M352.5 254.8 362.3 254.8 357.4 245.0Z"/>
<path class="mb" d="M367.1 259.9 376.9 259.9 372.0 250.1Z"/>
<path class="mb" d="M373.0 263.5 382.7 263.5 377.8 253.8Z"/>
<path class="mb" d="M378.8 257.7 388.5 257.7 383.7 247.9Z"/>
<path class="mb" d="M384.6 258.4 394.4 258.4 389.5 248.6Z"/>
<path class="mb" d="M401.4 256.2 411.1 256.2 406.3 246.5Z"/>
<path class="mb" d="M240.3 264.2 250.0 264.2 245.1 254.5Z"/>
<path class="mb" d="M235.9 267.1 245.6 267.1 240.8 257.4Z"/>
<path class="mb" d="M298.6 262.0 308.3 262.0 303.5 252.3Z"/>
<path class="mb" d="M313.2 261.3 322.9 261.3 318.0 251.6Z"/>
<path class="mb" d="M308.8 264.2 318.5 264.2 313.7 254.5Z"/>
<path class="mb" d="M319.0 264.2 328.8 264.2 323.9 254.5Z"/>
<path class="mb" d="M335.8 259.9 345.5 259.9 340.6 250.1Z"/>
<path class="mb" d="M346.0 263.5 355.7 263.5 350.9 253.8Z"/>
<path class="mb" d="M281.1 268.6 290.8 268.6 286.0 258.9Z"/>
<path class="mb" d="M300.0 269.3 309.8 269.3 304.9 259.6Z"/>
<path class="mb" d="M327.8 272.3 337.5 272.3 332.6 262.5Z"/>
<path class="mb" d="M339.4 270.8 349.2 270.8 344.3 261.0Z"/>
<path class="mb" d="M363.5 266.4 373.2 266.4 368.4 256.7Z"/>
<path class="mb" d="M367.1 270.8 376.9 270.8 372.0 261.0Z"/>
<path class="mb" d="M374.4 267.1 384.2 267.1 379.3 257.4Z"/>
<path class="mb" d="M380.3 275.2 390.0 275.2 385.1 265.4Z"/>
<path class="mb" d="M391.9 270.8 401.7 270.8 396.8 261.0Z"/>
<path class="mb" d="M229.3 272.3 239.1 272.3 234.2 262.5Z"/>
<path class="mb" d="M234.4 276.6 244.2 276.6 239.3 266.9Z"/>
<path class="mb" d="M249.0 276.6 258.8 276.6 253.9 266.9Z"/>
<path class="mb" d="M257.8 272.3 267.5 272.3 262.6 262.5Z"/>
<path class="mb" d="M265.0 271.5 274.8 271.5 269.9 261.8Z"/>
<path class="mb" d="M260.7 281.0 270.4 281.0 265.5 271.3Z"/>
<path class="mb" d="M266.5 279.5 276.3 279.5 271.4 269.8Z"/>
<path class="mb" d="M291.3 278.1 301.0 278.1 296.2 268.3Z"/>
<path class="mb" d="M305.9 275.2 315.6 275.2 310.8 265.4Z"/>
<path class="mb" d="M343.8 281.0 353.5 281.0 348.7 271.3Z"/>
<path class="mb" d="M338.0 282.5 347.7 282.5 342.8 272.7Z"/>
<path class="mb" d="M355.5 276.6 365.2 276.6 360.3 266.9Z"/>
<path class="mb" d="M393.4 279.5 403.1 279.5 398.3 269.8Z"/>
<path class="mb" d="M397.8 283.9 407.5 283.9 402.6 274.2Z"/>
<path class="mb" d="M246.1 283.9 255.8 283.9 251.0 274.2Z"/>
<path class="mb" d="M291.3 286.8 301.0 286.8 296.2 277.1Z"/>
<path class="mb" d="M295.7 289.8 305.4 289.8 300.5 280.0Z"/>
<path class="mb" d="M303.0 291.2 312.7 291.2 307.8 281.5Z"/>
<path class="mb" d="M319.0 289.0 328.8 289.0 323.9 279.3Z"/>
<path class="mb" d="M335.0 289.8 344.8 289.8 339.9 280.0Z"/>
<path class="mb" d="M358.4 287.6 368.1 287.6 363.3 277.8Z"/>
<path class="mb" d="M373.0 288.3 382.7 288.3 377.8 278.5Z"/>
<path class="mb" d="M235.9 295.6 245.6 295.6 240.8 285.8Z"/>
<path class="mb" d="M230.0 300.0 239.8 300.0 234.9 290.2Z"/>
<path class="mb" d="M257.8 297.0 267.5 297.0 262.6 287.3Z"/>
<path class="mb" d="M281.1 294.1 290.8 294.1 286.0 284.4Z"/>
<path class="mb" d="M278.2 298.5 287.9 298.5 283.0 288.8Z"/>
<path class="mb" d="M295.7 297.0 305.4 297.0 300.5 287.3Z"/>
<path class="mb" d="M326.3 297.0 336.0 297.0 331.2 287.3Z"/>
<path class="mb" d="M352.5 301.4 362.3 301.4 357.4 291.7Z"/>
<path class="mb" d="M377.3 297.0 387.1 297.0 382.2 287.3Z"/>
<path class="mb" d="M249.0 304.3 258.8 304.3 253.9 294.6Z"/>
<path class="mb" d="M257.8 307.3 267.5 307.3 262.6 297.5Z"/>
<path class="mb" d="M279.6 304.3 289.4 304.3 284.5 294.6Z"/>
<path class="mb" d="M289.8 307.3 299.6 307.3 294.7 297.5Z"/>
<path class="mb" d="M310.3 305.8 320.0 305.8 315.1 296.0Z"/>
<path class="mb" d="M317.5 307.3 327.3 307.3 322.4 297.5Z"/>
<path class="mb" d="M332.1 310.2 341.9 310.2 337.0 300.4Z"/>
<path class="mb" d="M235.9 311.6 245.6 311.6 240.8 301.9Z"/>
<path class="mb" d="M249.0 316.0 258.8 316.0 253.9 306.3Z"/>
<path class="mb" d="M275.3 314.5 285.0 314.5 280.1 304.8Z"/>
<path class="mb" d="M282.5 317.5 292.3 317.5 287.4 307.7Z"/>
<path class="mb" d="M292.8 314.5 302.5 314.5 297.6 304.8Z"/>
<path class="mb" d="M319.0 320.4 328.8 320.4 323.9 310.6Z"/>
<path class="mb" d="M361.3 314.5 371.0 314.5 366.2 304.8Z"/>
<path class="mb" d="M373.0 317.5 382.7 317.5 377.8 307.7Z"/>
<path class="mb" d="M381.7 316.0 391.5 316.0 386.6 306.3Z"/>
<path class="mb" d="M396.3 314.5 406.0 314.5 401.2 304.8Z"/>
<path class="mb" d="M241.7 326.2 251.5 326.2 246.6 316.5Z"/>
<path class="mb" d="M268.0 326.2 277.7 326.2 272.8 316.5Z"/>
<path class="mb" d="M279.6 323.3 289.4 323.3 284.5 313.5Z"/>
<path class="mb" d="M300.0 324.0 309.8 324.0 304.9 314.3Z"/>
<path class="mb" d="M310.3 327.7 320.0 327.7 315.1 317.9Z"/>
<path class="mb" d="M387.5 335.0 397.3 335.0 392.4 325.2Z"/>
<path class="mb" d="M268.0 337.9 277.7 337.9 272.8 328.1Z"/>
<path class="mb" d="M292.8 342.3 302.5 342.3 297.6 332.5Z"/>
<path class="mb" d="M330.7 335.0 340.4 335.0 335.5 325.2Z"/>
<path class="mb" d="M377.3 337.9 387.1 337.9 382.2 328.1Z"/>
<path class="mb" d="M387.5 346.6 397.3 346.6 392.4 336.9Z"/>
<path class="mb" d="M270.9 355.4 280.6 355.4 275.8 345.6Z"/>
<path class="mb" d="M308.8 358.3 318.5 358.3 313.7 348.5Z"/>
<path class="mb" d="M329.2 359.8 339.0 359.8 334.1 350.0Z"/>
<path class="mb" d="M424.7 236.1 434.5 236.1 429.6 226.3Z"/>
<path class="mb" d="M514.7 239.4 524.5 239.4 519.6 229.7Z"/>
<path class="mb" d="M541.4 238.7 551.1 238.7 546.3 229.0Z"/>
<path class="mb" d="M454.9 246.0 464.7 246.0 459.8 236.3Z"/>
<path class="mb" d="M455.8 253.3 465.5 253.3 460.7 243.5Z"/>
<path class="mb" d="M413.1 251.8 422.8 251.8 417.9 242.1Z"/>
<path class="mb" d="M405.0 254.0 414.8 254.0 409.9 244.3Z"/>
<path class="mb" d="M513.7 250.4 523.4 250.4 518.6 240.6Z"/>
<path class="mb" d="M498.4 256.9 508.1 256.9 503.3 247.2Z"/>
<path class="mb" d="M408.7 262.8 418.4 262.8 413.6 253.0Z"/>
<path class="mb" d="M445.9 262.8 455.6 262.8 450.8 253.0Z"/>
<path class="mb" d="M433.9 267.1 443.7 267.1 438.8 257.4Z"/>
<path class="mb" d="M453.9 265.0 463.6 265.0 458.8 255.2Z"/>
<path class="mb" d="M461.6 267.1 471.4 267.1 466.5 257.4Z"/>
<path class="mb" d="M414.5 270.1 424.3 270.1 419.4 260.3Z"/>
<path class="mb" d="M403.6 273.0 413.3 273.0 408.5 263.2Z"/>
<path class="mb" d="M407.2 280.3 417.0 280.3 412.1 270.5Z"/>
<path class="mb" d="M416.0 279.5 425.7 279.5 420.9 269.8Z"/>
<path class="mb" d="M443.0 278.8 452.7 278.8 447.8 269.1Z"/>
<path class="mb" d="M435.7 284.6 445.4 284.6 440.5 274.9Z"/>
<path class="mb" d="M444.4 286.1 454.2 286.1 449.3 276.4Z"/>
<path class="mb" d="M463.1 282.5 472.8 282.5 468.0 272.7Z"/>
<path class="mb" d="M468.5 290.5 478.2 290.5 473.4 280.7Z"/>
<path class="mb" d="M473.9 295.9 483.6 295.9 478.8 286.1Z"/>
<path class="mb" d="M529.3 279.3 539.0 279.3 534.2 269.5Z"/>
<path class="mb" d="M407.2 291.2 417.0 291.2 412.1 281.5Z"/>
<path class="mb" d="M418.2 289.8 427.9 289.8 423.0 280.0Z"/>
<path class="mb" d="M432.8 301.4 442.5 301.4 437.6 291.7Z"/>
<path class="mb" d="M411.6 301.4 421.4 301.4 416.5 291.7Z"/>
<path class="mb" d="M423.7 300.7 433.5 300.7 428.6 290.9Z"/>
<path class="mb" d="M433.5 306.5 443.2 306.5 438.4 296.8Z"/>
<path class="mb" d="M520.0 302.9 529.7 302.9 524.8 293.1Z"/>
<path class="mb" d="M543.6 300.3 553.3 300.3 548.5 290.5Z"/>
<path class="mb" d="M410.6 313.8 420.3 313.8 415.5 304.1Z"/>
<path class="mb" d="M404.3 319.6 414.1 319.6 409.2 309.9Z"/>
<path class="mb" d="M424.0 318.2 433.8 318.2 428.9 308.4Z"/>
<path class="mb" d="M430.6 315.3 440.3 315.3 435.4 305.5Z"/>
<path class="mb" d="M444.7 319.6 454.5 319.6 449.6 309.9Z"/>
<path class="mb" d="M456.4 324.8 466.1 324.8 461.3 315.0Z"/>
<path class="mb" d="M434.9 329.1 444.7 329.1 439.8 319.4Z"/>
<path class="mb" d="M432.0 337.9 441.8 337.9 436.9 328.1Z"/>
<path class="mb" d="M444.7 341.5 454.5 341.5 449.6 331.8Z"/>
<path class="mb" d="M409.4 345.9 419.2 345.9 414.3 336.1Z"/>
<path class="mb" d="M435.4 350.3 445.1 350.3 440.3 340.5Z"/>
<path class="mb" d="M435.7 356.8 445.4 356.8 440.5 347.1Z"/>
<path class="mb" d="M445.9 361.2 455.6 361.2 450.8 351.5Z"/>
<path class="mb" d="M410.9 361.2 420.6 361.2 415.8 351.5Z"/>
<path class="mb" d="M115.7 383.5 125.5 383.5 120.6 373.8Z"/>
<path class="mb" d="M115.7 365.8 125.5 365.8 120.6 356.1Z"/>
<path class="mb" d="M209.3 365.8 219.0 365.8 214.1 356.1Z"/>
<path class="mb" d="M260.1 396.9 269.9 396.9 265.0 387.1Z"/>
<path class="mb" d="M306.1 404.1 315.9 404.1 311.0 394.3Z"/>
<path class="mb" d="M338.3 404.1 348.1 404.1 343.2 394.3Z"/>
<path class="mb" d="M322.1 396.1 331.9 396.1 327.0 386.3Z"/>
<path class="mb" d="M363.0 386.9 372.8 386.9 367.9 377.1Z"/>
<path class="mb" d="M243.2 378.9 252.9 378.9 248.0 369.2Z"/>
<path class="mb" d="M399.2 380.4 409.0 380.4 404.1 370.6Z"/>
<path class="mb" d="M382.4 373.8 392.2 373.8 387.3 364.1Z"/>
<path class="mb" d="M389.0 364.3 398.8 364.3 393.9 354.6Z"/>
<path class="mb" d="M410.9 366.5 420.6 366.5 415.8 356.8Z"/>
<path class="mb" d="M430.6 364.3 440.3 364.3 435.4 354.6Z"/>
<path class="mb" d="M445.9 366.5 455.6 366.5 450.8 356.8Z"/>
<path class="mb" d="M424.7 375.3 434.5 375.3 429.6 365.5Z"/>
<path class="mb" d="M403.6 378.9 413.3 378.9 408.5 369.2Z"/>
<path class="mb" d="M300.1 326.4 309.9 326.4 305.0 316.6Z"/>
<path class="mb" d="M306.1 332.4 315.9 332.4 311.0 322.6Z"/>
<path class="mb" d="M294.1 342.9 303.9 342.9 299.0 333.1Z"/>
<path class="mb" d="M327.1 333.9 336.9 333.9 332.0 324.1Z"/>
<path class="mb" d="M331.6 335.4 341.4 335.4 336.5 325.6Z"/>
<path class="mb" d="M321.1 348.9 330.9 348.9 326.0 339.1Z"/>
<path class="mb" d="M324.9 353.4 334.6 353.4 329.8 343.6Z"/>
<path class="mb" d="M342.1 341.4 351.9 341.4 347.0 331.6Z"/>
<path class="mb" d="M337.6 346.6 347.4 346.6 342.5 336.9Z"/>
<path class="mb" d="M371.4 357.1 381.1 357.1 376.3 347.4Z"/>
<path class="mb" d="M362.4 360.1 372.1 360.1 367.3 350.4Z"/>
<path class="mb" d="M318.9 366.9 328.6 366.9 323.8 357.1Z"/>
<path class="mb" d="M358.6 373.6 368.4 373.6 363.5 363.9Z"/>
<path class="mb" d="M315.1 379.6 324.9 379.6 320.0 369.9Z"/>
<path class="mb" d="M363.1 384.9 372.9 384.9 368.0 375.1Z"/>
<path class="mg" d="M406.6 206.9 406.6 216.6 396.9 211.8Z"/>
<path class="mg" d="M85.2 272.4 85.2 282.2 75.5 277.3Z"/>
<path class="mg" d="M85.2 308.4 85.2 318.2 75.5 313.3Z"/>
<path class="mg" d="M85.2 317.9 85.2 327.7 75.5 322.8Z"/>
<path class="mg" d="M167.6 321.6 167.6 331.3 157.9 326.4Z"/>
<path class="mg" d="M215.0 342.7 215.0 352.5 205.3 347.6Z"/>
<path class="mg" d="M221.6 339.8 221.6 349.5 211.8 344.7Z"/>
<path class="mg" d="M286.5 257.4 286.5 267.1 276.7 262.3Z"/>
<path class="mg" d="M315.6 308.4 315.6 318.2 305.9 313.3Z"/>
<path class="mg" d="M350.6 310.6 350.6 320.4 340.9 315.5Z"/>
<path class="mg" d="M376.9 303.3 376.9 313.1 367.1 308.2Z"/>
<path class="mg" d="M293.8 344.2 293.8 353.9 284.0 349.0Z"/>
<path class="mg" d="M328.8 345.6 328.8 355.4 319.0 350.5Z"/>
<path class="mg" d="M374.0 344.2 374.0 353.9 364.2 349.0Z"/>
<path class="mg" d="M379.8 335.4 379.8 345.2 370.0 340.3Z"/>
<path class="mg" d="M266.0 345.6 266.0 355.4 256.3 350.5Z"/>
<path class="mg" d="M394.4 348.5 394.4 358.3 384.6 353.4Z"/>
<path class="mg" d="M407.5 348.5 407.5 358.3 397.8 353.4Z"/>
<path class="mg" d="M435.9 288.8 435.9 298.5 426.2 293.6Z"/>
<path class="mg" d="M475.3 314.7 475.3 324.5 465.6 319.6Z"/>
<path class="mg" d="M434.5 320.8 434.5 330.6 424.7 325.7Z"/>
<path class="mg" d="M85.2 416.6 85.2 426.4 75.4 421.5Z"/>
<path class="mg" d="M219.0 416.6 219.0 426.4 209.3 421.5Z"/>
<path class="mg" d="M125.5 394.3 125.5 404.1 115.7 399.2Z"/>
<path class="mg" d="M149.0 386.3 149.0 396.1 139.3 391.2Z"/>
<path class="mg" d="M149.0 379.6 149.0 389.4 139.3 384.5Z"/>
<path class="mg" d="M178.7 379.6 178.7 389.4 169.0 384.5Z"/>
<path class="mg" d="M234.3 373.8 234.3 383.5 224.5 378.6Z"/>
<path class="mg" d="M165.8 368.6 165.8 378.4 156.0 373.5Z"/>
<path class="mg" d="M85.2 356.1 85.2 365.8 75.4 360.9Z"/>
<path class="mg" d="M303.3 404.0 303.3 413.8 293.5 408.9Z"/>
<path class="mg" d="M379.7 404.0 379.7 413.8 369.9 408.9Z"/>
<path class="mg" d="M421.6 404.0 421.6 413.8 411.8 408.9Z"/>
<path class="mg" d="M301.5 394.3 301.5 404.1 291.7 399.2Z"/>
<path class="mg" d="M355.6 394.3 355.6 404.1 345.8 399.2Z"/>
<path class="mg" d="M235.5 379.6 235.5 389.4 225.7 384.5Z"/>
<path class="mg" d="M318.9 379.6 318.9 389.4 309.1 384.5Z"/>
<path class="mg" d="M340.2 376.6 340.2 386.4 330.4 381.5Z"/>
<path class="mg" d="M410.4 379.6 410.4 389.4 400.6 384.5Z"/>
<path class="mg" d="M401.1 434.3 401.1 444.1 391.3 439.2Z"/>
<path class="mg" d="M398.3 416.6 398.3 426.4 388.5 421.5Z"/>
<path class="mg" d="M412.3 416.6 412.3 426.4 402.5 421.5Z"/>
<path class="mg" d="M318.5 373.7 318.5 383.4 308.8 378.6Z"/>
<path class="mg" d="M339.0 373.7 339.0 383.4 329.2 378.6Z"/>
<path class="mg" d="M372.5 373.7 372.5 383.4 362.8 378.6Z"/>
<path class="mg" d="M259.5 367.7 259.5 377.5 249.7 372.6Z"/>
<path class="mg" d="M337.5 364.1 337.5 373.8 327.8 368.9Z"/>
<path class="mg" d="M362.3 364.1 362.3 373.8 352.5 368.9Z"/>
<path class="mg" d="M324.4 356.0 324.4 365.8 314.6 360.9Z"/>
<path class="mg" d="M372.5 356.0 372.5 365.8 362.8 360.9Z"/>
<path class="mg" d="M448.3 368.4 448.3 378.2 438.6 373.3Z"/>
<path class="mg" d="M432.3 374.3 432.3 384.0 422.5 379.1Z"/>
<path class="mg" d="M413.3 379.4 413.3 389.1 403.6 384.3Z"/>
<path class="mg" d="M429.4 385.9 429.4 395.7 419.6 390.8Z"/>
<path class="mg" d="M422.8 404.2 422.8 413.9 413.1 409.0Z"/>
<path class="mg" d="M413.3 416.6 413.3 426.3 403.6 421.4Z"/>
<path class="mg" d="M272.7 434.3 272.7 444.1 262.9 439.2Z"/>
<path class="mg" d="M327.9 346.6 327.9 356.4 318.1 351.5Z"/>
<path class="mg" d="M336.9 352.6 336.9 362.4 327.1 357.5Z"/>
<path class="mg" d="M324.9 355.6 324.9 365.4 315.1 360.5Z"/>
<path class="mg" d="M339.9 363.9 339.9 373.6 330.1 368.8Z"/>
<path class="mg" d="M347.4 345.1 347.4 354.9 337.6 350.0Z"/>
<path class="mg" d="M378.1 336.9 378.1 346.6 368.4 341.8Z"/>
<path class="mg" d="M372.1 345.1 372.1 354.9 362.4 350.0Z"/>
<path class="mg" d="M373.6 356.4 373.6 366.1 363.9 361.3Z"/>
<path class="mg" d="M360.9 363.1 360.9 372.9 351.1 368.0Z"/>
<path class="mg" d="M372.1 369.9 372.1 379.6 362.4 374.8Z"/>
<path class="mg" d="M317.4 372.1 317.4 381.9 307.6 377.0Z"/>
<path class="mg" d="M338.4 372.9 338.4 382.6 328.6 377.8Z"/>
<path class="my" d="M75.5 293.1 75.5 302.9 85.2 298.0Z"/>
<path class="my" d="M75.5 303.0 75.5 312.8 85.2 307.9Z"/>
<path class="my" d="M75.5 325.2 75.5 335.0 85.2 330.1Z"/>
<path class="my" d="M75.5 348.5 75.5 358.3 85.2 353.4Z"/>
<path class="my" d="M115.9 334.0 115.9 343.7 125.6 338.8Z"/>
<path class="my" d="M115.9 339.1 115.9 348.8 125.6 343.9Z"/>
<path class="my" d="M115.9 348.5 115.9 358.3 125.6 353.4Z"/>
<path class="my" d="M139.3 266.9 139.3 276.6 149.1 271.8Z"/>
<path class="my" d="M139.3 334.0 139.3 343.7 149.1 338.8Z"/>
<path class="my" d="M139.3 350.0 139.3 359.8 149.1 354.9Z"/>
<path class="my" d="M156.0 325.9 156.0 335.7 165.7 330.8Z"/>
<path class="my" d="M168.8 263.7 168.8 273.4 178.5 268.5Z"/>
<path class="my" d="M168.8 311.8 168.8 321.5 178.5 316.7Z"/>
<path class="my" d="M168.8 343.4 168.8 353.2 178.5 348.3Z"/>
<path class="my" d="M179.4 302.6 179.4 312.4 189.2 307.5Z"/>
<path class="my" d="M179.4 318.6 179.4 328.4 189.2 323.5Z"/>
<path class="my" d="M179.4 334.0 179.4 343.7 189.2 338.8Z"/>
<path class="my" d="M179.4 350.0 179.4 359.8 189.2 354.9Z"/>
<path class="my" d="M188.5 338.3 188.5 348.1 198.2 343.2Z"/>
<path class="my" d="M188.5 348.5 188.5 358.3 198.2 353.4Z"/>
<path class="my" d="M196.2 335.4 196.2 345.2 206.0 340.3Z"/>
<path class="my" d="M196.2 342.7 196.2 352.5 206.0 347.6Z"/>
<path class="my" d="M208.9 299.0 208.9 308.7 218.6 303.8Z"/>
<path class="my" d="M214.0 335.4 214.0 345.2 223.8 340.3Z"/>
<path class="my" d="M219.8 293.1 219.8 302.9 229.6 298.0Z"/>
<path class="my" d="M224.2 301.9 224.2 311.6 234.0 306.8Z"/>
<path class="my" d="M224.2 317.9 224.2 327.7 234.0 322.8Z"/>
<path class="my" d="M224.2 334.0 224.2 343.7 234.0 338.8Z"/>
<path class="my" d="M224.2 339.8 224.2 349.5 234.0 344.7Z"/>
<path class="my" d="M233.0 274.5 233.0 284.2 242.7 279.3Z"/>
<path class="my" d="M313.2 275.6 313.2 285.4 322.9 280.5Z"/>
<path class="my" d="M327.8 280.7 327.8 290.5 337.5 285.6Z"/>
<path class="my" d="M359.8 269.8 359.8 279.5 369.6 274.7Z"/>
<path class="my" d="M370.0 275.6 370.0 285.4 379.8 280.5Z"/>
<path class="my" d="M266.5 281.5 266.5 291.2 276.3 286.3Z"/>
<path class="my" d="M336.5 290.9 336.5 300.7 346.3 295.8Z"/>
<path class="my" d="M368.6 294.6 368.6 304.3 378.3 299.5Z"/>
<path class="my" d="M393.4 289.5 393.4 299.2 403.1 294.4Z"/>
<path class="my" d="M254.8 292.0 254.8 301.7 264.6 296.8Z"/>
<path class="my" d="M269.4 293.1 269.4 302.9 279.2 298.0Z"/>
<path class="my" d="M272.3 297.5 272.3 307.3 282.1 302.4Z"/>
<path class="my" d="M301.5 301.9 301.5 311.6 311.3 306.8Z"/>
<path class="my" d="M327.8 303.3 327.8 313.1 337.5 308.2Z"/>
<path class="my" d="M266.5 305.5 266.5 315.3 276.3 310.4Z"/>
<path class="my" d="M303.0 307.7 303.0 317.5 312.7 312.6Z"/>
<path class="my" d="M251.9 320.8 251.9 330.6 261.7 325.7Z"/>
<path class="my" d="M314.6 322.3 314.6 332.0 324.4 327.2Z"/>
<path class="my" d="M329.2 316.5 329.2 326.2 339.0 321.3Z"/>
<path class="my" d="M339.4 319.4 339.4 329.1 349.2 324.3Z"/>
<path class="my" d="M352.5 317.9 352.5 327.7 362.3 322.8Z"/>
<path class="my" d="M371.5 317.9 371.5 327.7 381.3 322.8Z"/>
<path class="my" d="M235.9 328.1 235.9 337.9 245.6 333.0Z"/>
<path class="my" d="M243.2 329.6 243.2 339.3 252.9 334.5Z"/>
<path class="my" d="M282.5 322.3 282.5 332.0 292.3 327.2Z"/>
<path class="my" d="M289.8 328.1 289.8 337.9 299.6 333.0Z"/>
<path class="my" d="M304.4 335.4 304.4 345.2 314.2 340.3Z"/>
<path class="my" d="M314.6 329.6 314.6 339.3 324.4 334.5Z"/>
<path class="my" d="M321.9 331.0 321.9 340.8 331.7 335.9Z"/>
<path class="my" d="M329.2 329.6 329.2 339.3 339.0 334.5Z"/>
<path class="my" d="M348.2 325.2 348.2 335.0 357.9 330.1Z"/>
<path class="my" d="M358.4 335.4 358.4 345.2 368.1 340.3Z"/>
<path class="my" d="M368.6 329.6 368.6 339.3 378.3 334.5Z"/>
<path class="my" d="M235.9 336.9 235.9 346.6 245.6 341.8Z"/>
<path class="my" d="M244.6 335.4 244.6 345.2 254.4 340.3Z"/>
<path class="my" d="M230.0 345.6 230.0 355.4 239.8 350.5Z"/>
<path class="my" d="M244.6 342.7 244.6 352.5 254.4 347.6Z"/>
<path class="my" d="M263.6 339.8 263.6 349.5 273.3 344.7Z"/>
<path class="my" d="M276.7 339.8 276.7 349.5 286.5 344.7Z"/>
<path class="my" d="M282.5 336.9 282.5 346.6 292.3 341.8Z"/>
<path class="my" d="M288.4 335.4 288.4 345.2 298.1 340.3Z"/>
<path class="my" d="M330.7 341.3 330.7 351.0 340.4 346.1Z"/>
<path class="my" d="M338.0 341.3 338.0 351.0 347.7 346.1Z"/>
<path class="my" d="M380.3 338.3 380.3 348.1 390.0 343.2Z"/>
<path class="my" d="M399.2 339.8 399.2 349.5 409.0 344.7Z"/>
<path class="my" d="M235.9 348.5 235.9 358.3 245.6 353.4Z"/>
<path class="my" d="M259.2 345.6 259.2 355.4 269.0 350.5Z"/>
<path class="my" d="M282.5 348.5 282.5 358.3 292.3 353.4Z"/>
<path class="my" d="M295.7 350.0 295.7 359.8 305.4 354.9Z"/>
<path class="my" d="M343.8 350.0 343.8 359.8 353.5 354.9Z"/>
<path class="my" d="M358.4 348.5 358.4 358.3 368.1 353.4Z"/>
<path class="my" d="M374.4 350.0 374.4 359.8 384.2 354.9Z"/>
<path class="my" d="M456.8 281.2 456.8 290.9 466.6 286.0Z"/>
<path class="my" d="M436.4 315.7 436.4 325.5 446.1 320.6Z"/>
<path class="my" d="M405.0 338.3 405.0 348.1 414.8 343.2Z"/>
<path class="my" d="M406.5 343.4 406.5 353.2 416.3 348.3Z"/>
<path class="my" d="M169.0 434.3 169.0 444.1 178.7 439.2Z"/>
<path class="my" d="M75.4 416.6 75.4 426.4 85.2 421.5Z"/>
<path class="my" d="M203.2 394.3 203.2 404.1 212.9 399.2Z"/>
<path class="my" d="M156.0 379.6 156.0 389.4 165.8 384.5Z"/>
<path class="my" d="M156.0 373.8 156.0 383.5 165.8 378.6Z"/>
<path class="my" d="M203.2 368.6 203.2 378.4 212.9 373.5Z"/>
<path class="my" d="M75.4 364.0 75.4 373.8 85.2 368.9Z"/>
<path class="my" d="M203.2 359.9 203.2 369.6 212.9 364.7Z"/>
<path class="my" d="M139.3 356.1 139.3 365.8 149.0 360.9Z"/>
<path class="my" d="M179.6 356.1 179.6 365.8 189.3 360.9Z"/>
<path class="my" d="M214.8 356.1 214.8 365.8 224.6 360.9Z"/>
<path class="my" d="M275.1 404.0 275.1 413.8 284.9 408.9Z"/>
<path class="my" d="M279.6 404.0 279.6 413.8 289.4 408.9Z"/>
<path class="my" d="M335.5 404.0 335.5 413.8 345.3 408.9Z"/>
<path class="my" d="M305.6 404.0 305.6 413.8 315.4 408.9Z"/>
<path class="my" d="M314.4 394.3 314.4 404.1 324.2 399.2Z"/>
<path class="my" d="M331.4 394.3 331.4 404.1 341.2 399.2Z"/>
<path class="my" d="M316.1 394.3 316.1 404.1 325.9 399.2Z"/>
<path class="my" d="M393.6 394.3 393.6 404.1 403.4 399.2Z"/>
<path class="my" d="M329.1 379.6 329.1 389.4 338.9 384.5Z"/>
<path class="my" d="M353.1 379.6 353.1 389.4 362.9 384.5Z"/>
<path class="my" d="M382.9 376.6 382.9 386.4 392.7 381.5Z"/>
<path class="my" d="M254.8 373.7 254.8 383.4 264.6 378.6Z"/>
<path class="my" d="M270.9 373.7 270.9 383.4 280.6 378.6Z"/>
<path class="my" d="M346.7 373.7 346.7 383.4 356.5 378.6Z"/>
<path class="my" d="M383.2 373.7 383.2 383.4 392.9 378.6Z"/>
<path class="my" d="M270.9 364.1 270.9 373.8 280.6 368.9Z"/>
<path class="my" d="M285.5 364.1 285.5 373.8 295.2 368.9Z"/>
<path class="my" d="M313.2 364.1 313.2 373.8 322.9 368.9Z"/>
<path class="my" d="M321.9 368.4 321.9 378.2 331.7 373.3Z"/>
<path class="my" d="M339.4 364.1 339.4 373.8 349.2 368.9Z"/>
<path class="my" d="M251.2 356.3 251.2 366.1 260.9 361.2Z"/>
<path class="my" d="M304.4 356.0 304.4 365.8 314.2 360.9Z"/>
<path class="my" d="M345.3 356.0 345.3 365.8 355.0 360.9Z"/>
<path class="my" d="M356.9 356.0 356.9 365.8 366.7 360.9Z"/>
<path class="my" d="M375.9 354.6 375.9 364.3 385.6 359.5Z"/>
<path class="my" d="M421.8 359.7 421.8 369.4 431.6 364.6Z"/>
<path class="my" d="M424.7 404.2 424.7 413.9 434.5 409.0Z"/>
<path class="my" d="M480.1 404.2 480.1 413.9 489.9 409.0Z"/>
<path class="my" d="M491.1 404.2 491.1 413.9 500.8 409.0Z"/>
<path class="my" d="M251.7 464.6 251.7 474.4 261.5 469.5Z"/>
<path class="my" d="M313.6 321.9 313.6 331.6 323.4 326.8Z"/>
<path class="my" d="M327.1 330.1 327.1 339.9 336.9 335.0Z"/>
<path class="my" d="M316.6 331.6 316.6 341.4 326.4 336.5Z"/>
<path class="my" d="M303.9 336.1 303.9 345.9 313.6 341.0Z"/>
<path class="my" d="M336.1 341.4 336.1 351.1 345.9 346.3Z"/>
<path class="my" d="M345.1 323.4 345.1 333.1 354.9 328.3Z"/>
<path class="my" d="M349.6 331.6 349.6 341.4 359.4 336.5Z"/>
<path class="my" d="M358.6 336.1 358.6 345.9 368.4 341.0Z"/>
<path class="my" d="M369.1 329.4 369.1 339.1 378.9 334.3Z"/>
<path class="my" d="M304.6 356.4 304.6 366.1 314.4 361.3Z"/>
<path class="my" d="M344.4 356.4 344.4 366.1 354.1 361.3Z"/>
<path class="my" d="M356.4 356.4 356.4 366.1 366.1 361.3Z"/>
<path class="my" d="M312.1 363.9 312.1 373.6 321.9 368.8Z"/>
<path class="my" d="M321.9 369.1 321.9 378.9 331.6 374.0Z"/>
<path class="my" d="M339.9 363.9 339.9 373.6 349.6 368.8Z"/>
<path class="my" d="M346.6 373.6 346.6 383.4 356.4 378.5Z"/>
<path class="my" d="M352.6 379.6 352.6 389.4 362.4 384.5Z"/>
<path class="my" d="M328.6 379.6 328.6 389.4 338.4 384.5Z"/>
</g></svg>
<svg x="56.9" y="603.4" width="521.8000000000001" height="388.80000000000007" overflow="hidden"><g transform="translate(-56.9,-603.4)">
<path class="mo" d="M132.8 795.2 142.5 795.2 137.6 805.0Z"/>
<path class="mo" d="M132.8 853.5 142.5 853.5 137.6 863.3Z"/>
<path class="mo" d="M147.6 855.0 157.4 855.0 152.5 864.8Z"/>
<path class="mo" d="M219.8 836.0 229.6 836.0 224.7 845.8Z"/>
<path class="mo" d="M206.7 844.8 216.5 844.8 211.6 854.5Z"/>
<path class="mo" d="M202.3 850.6 212.1 850.6 207.2 860.4Z"/>
<path class="mo" d="M198.0 853.5 207.7 853.5 202.8 863.3Z"/>
<path class="mo" d="M221.3 855.0 231.0 855.0 226.2 864.8Z"/>
<path class="mo" d="M340.9 776.3 350.6 776.3 345.8 786.0Z"/>
<path class="mo" d="M286.2 801.8 295.9 801.8 291.1 811.5Z"/>
<path class="mo" d="M235.9 805.4 245.6 805.4 240.8 815.2Z"/>
<path class="mo" d="M245.4 822.9 255.1 822.9 250.2 832.7Z"/>
<path class="mo" d="M300.0 824.4 309.8 824.4 304.9 834.1Z"/>
<path class="mo" d="M320.5 836.0 330.2 836.0 325.3 845.8Z"/>
<path class="mo" d="M361.3 839.0 371.0 839.0 366.2 848.7Z"/>
<path class="mo" d="M378.8 839.0 388.5 839.0 383.7 848.7Z"/>
<path class="mo" d="M394.8 841.9 404.6 841.9 399.7 851.6Z"/>
<path class="mo" d="M263.6 846.3 273.3 846.3 268.5 856.0Z"/>
<path class="mo" d="M231.5 853.5 241.3 853.5 236.4 863.3Z"/>
<path class="mo" d="M262.1 853.5 271.9 853.5 267.0 863.3Z"/>
<path class="mo" d="M346.7 843.3 356.5 843.3 351.6 853.1Z"/>
<path class="mo" d="M314.6 855.0 324.4 855.0 319.5 864.8Z"/>
<path class="mo" d="M343.8 855.0 353.5 855.0 348.7 864.8Z"/>
<path class="mo" d="M429.1 822.9 438.9 822.9 434.0 832.7Z"/>
<path class="mo" d="M425.5 831.7 435.2 831.7 430.3 841.4Z"/>
<path class="mo" d="M466.3 842.6 476.0 842.6 471.2 852.4Z"/>
<path class="mo" d="M426.9 844.1 436.7 844.1 431.8 853.8Z"/>
<path class="mo" d="M437.1 857.2 446.9 857.2 442.0 866.9Z"/>
<path class="mo" d="M75.4 969.9 85.2 969.9 80.3 979.7Z"/>
<path class="mo" d="M111.6 969.9 121.3 969.9 116.4 979.7Z"/>
<path class="mo" d="M147.7 969.9 157.5 969.9 152.6 979.7Z"/>
<path class="mo" d="M159.4 969.9 169.1 969.9 164.2 979.7Z"/>
<path class="mo" d="M168.9 969.9 178.6 969.9 173.7 979.7Z"/>
<path class="mo" d="M176.9 969.9 186.6 969.9 181.8 979.7Z"/>
<path class="mo" d="M183.9 969.9 193.6 969.9 188.7 979.7Z"/>
<path class="mo" d="M195.5 969.9 205.2 969.9 200.4 979.7Z"/>
<path class="mo" d="M213.0 969.9 222.8 969.9 217.9 979.7Z"/>
<path class="mo" d="M216.6 969.9 226.4 969.9 221.5 979.7Z"/>
<path class="mo" d="M220.0 969.9 229.8 969.9 224.9 979.7Z"/>
<path class="mo" d="M223.2 969.9 232.9 969.9 228.0 979.7Z"/>
<path class="mo" d="M75.4 939.7 85.2 939.7 80.3 949.4Z"/>
<path class="mo" d="M111.6 939.7 121.3 939.7 116.4 949.4Z"/>
<path class="mo" d="M132.7 939.7 142.5 939.7 137.6 949.4Z"/>
<path class="mo" d="M168.9 939.7 178.6 939.7 173.7 949.4Z"/>
<path class="mo" d="M183.9 939.7 193.6 939.7 188.7 949.4Z"/>
<path class="mo" d="M190.0 939.7 199.8 939.7 194.9 949.4Z"/>
<path class="mo" d="M195.5 939.7 205.2 939.7 200.4 949.4Z"/>
<path class="mo" d="M205.0 939.7 214.8 939.7 209.9 949.4Z"/>
<path class="mo" d="M209.2 939.7 218.9 939.7 214.1 949.4Z"/>
<path class="mo" d="M213.0 939.7 222.8 939.7 217.9 949.4Z"/>
<path class="mo" d="M220.0 939.7 229.8 939.7 224.9 949.4Z"/>
<path class="mo" d="M223.2 939.7 232.9 939.7 228.0 949.4Z"/>
<path class="mo" d="M75.4 922.0 85.2 922.0 80.3 931.8Z"/>
<path class="mo" d="M111.6 922.0 121.3 922.0 116.4 931.8Z"/>
<path class="mo" d="M132.7 922.0 142.5 922.0 137.6 931.8Z"/>
<path class="mo" d="M159.4 922.0 169.1 922.0 164.2 931.8Z"/>
<path class="mo" d="M176.9 922.0 186.6 922.0 181.8 931.8Z"/>
<path class="mo" d="M200.5 922.0 210.2 922.0 205.3 931.8Z"/>
<path class="mo" d="M220.0 922.0 229.8 922.0 224.9 931.8Z"/>
<path class="mo" d="M75.4 909.5 85.2 909.5 80.3 919.2Z"/>
<path class="mo" d="M111.6 909.5 121.3 909.5 116.4 919.2Z"/>
<path class="mo" d="M147.7 909.5 157.5 909.5 152.6 919.2Z"/>
<path class="mo" d="M159.4 909.5 169.1 909.5 164.2 919.2Z"/>
<path class="mo" d="M168.9 909.5 178.6 909.5 173.7 919.2Z"/>
<path class="mo" d="M176.9 909.5 186.6 909.5 181.8 919.2Z"/>
<path class="mo" d="M200.5 909.5 210.2 909.5 205.3 919.2Z"/>
<path class="mo" d="M205.0 909.5 214.8 909.5 209.9 919.2Z"/>
<path class="mo" d="M213.0 909.5 222.8 909.5 217.9 919.2Z"/>
<path class="mo" d="M216.6 909.5 226.4 909.5 221.5 919.2Z"/>
<path class="mo" d="M75.4 899.7 85.2 899.7 80.3 909.5Z"/>
<path class="mo" d="M111.6 899.7 121.3 899.7 116.4 909.5Z"/>
<path class="mo" d="M147.7 899.7 157.5 899.7 152.6 909.5Z"/>
<path class="mo" d="M159.4 899.7 169.1 899.7 164.2 909.5Z"/>
<path class="mo" d="M183.9 899.7 193.6 899.7 188.7 909.5Z"/>
<path class="mo" d="M190.0 899.7 199.8 899.7 194.9 909.5Z"/>
<path class="mo" d="M75.4 891.8 85.2 891.8 80.3 901.5Z"/>
<path class="mo" d="M132.7 891.8 142.5 891.8 137.6 901.5Z"/>
<path class="mo" d="M147.7 891.8 157.5 891.8 152.6 901.5Z"/>
<path class="mo" d="M195.5 891.8 205.2 891.8 200.4 901.5Z"/>
<path class="mo" d="M200.5 891.8 210.2 891.8 205.3 901.5Z"/>
<path class="mo" d="M205.0 891.8 214.8 891.8 209.9 901.5Z"/>
<path class="mo" d="M209.2 891.8 218.9 891.8 214.1 901.5Z"/>
<path class="mo" d="M216.6 891.8 226.4 891.8 221.5 901.5Z"/>
<path class="mo" d="M75.4 885.1 85.2 885.1 80.3 894.8Z"/>
<path class="mo" d="M147.7 885.1 157.5 885.1 152.6 894.8Z"/>
<path class="mo" d="M159.4 885.1 169.1 885.1 164.2 894.8Z"/>
<path class="mo" d="M205.0 885.1 214.8 885.1 209.9 894.8Z"/>
<path class="mo" d="M209.2 885.1 218.9 885.1 214.1 894.8Z"/>
<path class="mo" d="M75.4 879.2 85.2 879.2 80.3 889.0Z"/>
<path class="mo" d="M147.7 879.2 157.5 879.2 152.6 889.0Z"/>
<path class="mo" d="M176.9 879.2 186.6 879.2 181.8 889.0Z"/>
<path class="mo" d="M200.5 879.2 210.2 879.2 205.3 889.0Z"/>
<path class="mo" d="M111.6 874.1 121.3 874.1 116.4 883.8Z"/>
<path class="mo" d="M132.7 874.1 142.5 874.1 137.6 883.8Z"/>
<path class="mo" d="M111.6 869.5 121.3 869.5 116.4 879.2Z"/>
<path class="mo" d="M209.2 869.5 218.9 869.5 214.1 879.2Z"/>
<path class="mo" d="M147.7 861.5 157.5 861.5 152.6 871.3Z"/>
<path class="mo" d="M228.8 969.9 238.6 969.9 233.7 979.7Z"/>
<path class="mo" d="M231.8 969.9 241.6 969.9 236.7 979.7Z"/>
<path class="mo" d="M234.0 969.9 243.8 969.9 238.9 979.7Z"/>
<path class="mo" d="M251.3 969.9 261.1 969.9 256.2 979.7Z"/>
<path class="mo" d="M254.3 969.9 264.1 969.9 259.2 979.7Z"/>
<path class="mo" d="M257.3 969.9 267.1 969.9 262.2 979.7Z"/>
<path class="mo" d="M260.3 969.9 270.1 969.9 265.2 979.7Z"/>
<path class="mo" d="M263.3 969.9 273.1 969.9 268.2 979.7Z"/>
<path class="mo" d="M266.3 969.9 276.1 969.9 271.2 979.7Z"/>
<path class="mo" d="M269.3 969.9 279.1 969.9 274.2 979.7Z"/>
<path class="mo" d="M272.3 969.9 282.1 969.9 277.2 979.7Z"/>
<path class="mo" d="M275.3 969.9 285.1 969.9 280.2 979.7Z"/>
<path class="mo" d="M278.3 969.9 288.1 969.9 283.2 979.7Z"/>
<path class="mo" d="M281.3 969.9 291.1 969.9 286.2 979.7Z"/>
<path class="mo" d="M284.3 969.9 294.1 969.9 289.2 979.7Z"/>
<path class="mo" d="M287.3 969.9 297.1 969.9 292.2 979.7Z"/>
<path class="mo" d="M290.3 969.9 300.1 969.9 295.2 979.7Z"/>
<path class="mo" d="M293.3 969.9 303.1 969.9 298.2 979.7Z"/>
<path class="mo" d="M296.3 969.9 306.1 969.9 301.2 979.7Z"/>
<path class="mo" d="M299.3 969.9 309.1 969.9 304.2 979.7Z"/>
<path class="mo" d="M302.3 969.9 312.1 969.9 307.2 979.7Z"/>
<path class="mo" d="M305.3 969.9 315.1 969.9 310.2 979.7Z"/>
<path class="mo" d="M308.3 969.9 318.1 969.9 313.2 979.7Z"/>
<path class="mo" d="M311.3 969.9 321.1 969.9 316.2 979.7Z"/>
<path class="mo" d="M314.3 969.9 324.1 969.9 319.2 979.7Z"/>
<path class="mo" d="M317.3 969.9 327.1 969.9 322.2 979.7Z"/>
<path class="mo" d="M320.3 969.9 330.1 969.9 325.2 979.7Z"/>
<path class="mo" d="M322.1 969.9 331.9 969.9 327.0 979.7Z"/>
<path class="mo" d="M334.2 969.9 344.0 969.9 339.1 979.7Z"/>
<path class="mo" d="M337.2 969.9 347.0 969.9 342.1 979.7Z"/>
<path class="mo" d="M340.2 969.9 350.0 969.9 345.1 979.7Z"/>
<path class="mo" d="M343.2 969.9 353.0 969.9 348.1 979.7Z"/>
<path class="mo" d="M346.2 969.9 356.0 969.9 351.1 979.7Z"/>
<path class="mo" d="M349.2 969.9 359.0 969.9 354.1 979.7Z"/>
<path class="mo" d="M352.2 969.9 362.0 969.9 357.1 979.7Z"/>
<path class="mo" d="M355.2 969.9 365.0 969.9 360.1 979.7Z"/>
<path class="mo" d="M358.2 969.9 368.0 969.9 363.1 979.7Z"/>
<path class="mo" d="M361.2 969.9 371.0 969.9 366.1 979.7Z"/>
<path class="mo" d="M364.2 969.9 374.0 969.9 369.1 979.7Z"/>
<path class="mo" d="M367.2 969.9 377.0 969.9 372.1 979.7Z"/>
<path class="mo" d="M370.2 969.9 380.0 969.9 375.1 979.7Z"/>
<path class="mo" d="M373.2 969.9 383.0 969.9 378.1 979.7Z"/>
<path class="mo" d="M376.2 969.9 386.0 969.9 381.1 979.7Z"/>
<path class="mo" d="M379.2 969.9 389.0 969.9 384.1 979.7Z"/>
<path class="mo" d="M382.2 969.9 392.0 969.9 387.1 979.7Z"/>
<path class="mo" d="M385.2 969.9 395.0 969.9 390.1 979.7Z"/>
<path class="mo" d="M388.2 969.9 398.0 969.9 393.1 979.7Z"/>
<path class="mo" d="M391.2 969.9 401.0 969.9 396.1 979.7Z"/>
<path class="mo" d="M394.2 969.9 404.0 969.9 399.1 979.7Z"/>
<path class="mo" d="M397.2 969.9 407.0 969.9 402.1 979.7Z"/>
<path class="mo" d="M400.1 969.9 409.9 969.9 405.0 979.7Z"/>
<path class="mo" d="M228.8 939.7 238.6 939.7 233.7 949.5Z"/>
<path class="mo" d="M231.8 939.7 241.6 939.7 236.7 949.5Z"/>
<path class="mo" d="M234.8 939.7 244.6 939.7 239.7 949.5Z"/>
<path class="mo" d="M237.8 939.7 247.6 939.7 242.7 949.5Z"/>
<path class="mo" d="M240.8 939.7 250.6 939.7 245.7 949.5Z"/>
<path class="mo" d="M257.8 939.7 267.6 939.7 262.7 949.5Z"/>
<path class="mo" d="M260.8 939.7 270.6 939.7 265.7 949.5Z"/>
<path class="mo" d="M263.8 939.7 273.6 939.7 268.7 949.5Z"/>
<path class="mo" d="M266.8 939.7 276.6 939.7 271.7 949.5Z"/>
<path class="mo" d="M269.8 939.7 279.6 939.7 274.7 949.5Z"/>
<path class="mo" d="M272.8 939.7 282.6 939.7 277.7 949.5Z"/>
<path class="mo" d="M275.8 939.7 285.6 939.7 280.7 949.5Z"/>
<path class="mo" d="M278.8 939.7 288.6 939.7 283.7 949.5Z"/>
<path class="mo" d="M281.8 939.7 291.6 939.7 286.7 949.5Z"/>
<path class="mo" d="M284.8 939.7 294.6 939.7 289.7 949.5Z"/>
<path class="mo" d="M287.8 939.7 297.6 939.7 292.7 949.5Z"/>
<path class="mo" d="M290.8 939.7 300.6 939.7 295.7 949.5Z"/>
<path class="mo" d="M293.8 939.7 303.6 939.7 298.7 949.5Z"/>
<path class="mo" d="M296.8 939.7 306.6 939.7 301.7 949.5Z"/>
<path class="mo" d="M299.8 939.7 309.6 939.7 304.7 949.5Z"/>
<path class="mo" d="M302.8 939.7 312.6 939.7 307.7 949.5Z"/>
<path class="mo" d="M305.0 939.7 314.8 939.7 309.9 949.5Z"/>
<path class="mo" d="M320.1 939.7 329.9 939.7 325.0 949.5Z"/>
<path class="mo" d="M323.1 939.7 332.9 939.7 328.0 949.5Z"/>
<path class="mo" d="M326.1 939.7 335.9 939.7 331.0 949.5Z"/>
<path class="mo" d="M329.1 939.7 338.9 939.7 334.0 949.5Z"/>
<path class="mo" d="M332.1 939.7 341.9 939.7 337.0 949.5Z"/>
<path class="mo" d="M335.1 939.7 344.9 939.7 340.0 949.5Z"/>
<path class="mo" d="M338.1 939.7 347.9 939.7 343.0 949.5Z"/>
<path class="mo" d="M341.1 939.7 350.9 939.7 346.0 949.5Z"/>
<path class="mo" d="M342.9 939.7 352.7 939.7 347.8 949.5Z"/>
<path class="mo" d="M354.1 939.7 363.9 939.7 359.0 949.5Z"/>
<path class="mo" d="M357.1 939.7 366.9 939.7 362.0 949.5Z"/>
<path class="mo" d="M360.1 939.7 369.9 939.7 365.0 949.5Z"/>
<path class="mo" d="M363.1 939.7 372.9 939.7 368.0 949.5Z"/>
<path class="mo" d="M366.1 939.7 375.9 939.7 371.0 949.5Z"/>
<path class="mo" d="M369.1 939.7 378.9 939.7 374.0 949.5Z"/>
<path class="mo" d="M372.1 939.7 381.9 939.7 377.0 949.5Z"/>
<path class="mo" d="M375.1 939.7 384.9 939.7 380.0 949.5Z"/>
<path class="mo" d="M392.2 939.7 402.0 939.7 397.1 949.5Z"/>
<path class="mo" d="M408.1 939.7 417.9 939.7 413.0 949.5Z"/>
<path class="mo" d="M411.1 939.7 420.9 939.7 416.0 949.5Z"/>
<path class="mo" d="M414.1 939.7 423.9 939.7 419.0 949.5Z"/>
<path class="mo" d="M415.1 939.7 424.9 939.7 420.0 949.5Z"/>
<path class="mo" d="M222.3 922.0 232.1 922.0 227.2 931.8Z"/>
<path class="mo" d="M234.1 922.0 243.9 922.0 239.0 931.8Z"/>
<path class="mo" d="M237.1 922.0 246.9 922.0 242.0 931.8Z"/>
<path class="mo" d="M240.1 922.0 249.9 922.0 245.0 931.8Z"/>
<path class="mo" d="M243.1 922.0 252.9 922.0 248.0 931.8Z"/>
<path class="mo" d="M246.1 922.0 255.9 922.0 251.0 931.8Z"/>
<path class="mo" d="M249.1 922.0 258.9 922.0 254.0 931.8Z"/>
<path class="mo" d="M252.1 922.0 261.9 922.0 257.0 931.8Z"/>
<path class="mo" d="M255.1 922.0 264.9 922.0 260.0 931.8Z"/>
<path class="mo" d="M258.1 922.0 267.9 922.0 263.0 931.8Z"/>
<path class="mo" d="M261.1 922.0 270.9 922.0 266.0 931.8Z"/>
<path class="mo" d="M264.1 922.0 273.9 922.0 269.0 931.8Z"/>
<path class="mo" d="M267.1 922.0 276.9 922.0 272.0 931.8Z"/>
<path class="mo" d="M270.1 922.0 279.9 922.0 275.0 931.8Z"/>
<path class="mo" d="M273.1 922.0 282.9 922.0 278.0 931.8Z"/>
<path class="mo" d="M274.9 922.0 284.7 922.0 279.8 931.8Z"/>
<path class="mo" d="M300.6 922.0 310.4 922.0 305.5 931.8Z"/>
<path class="mo" d="M303.6 922.0 313.4 922.0 308.5 931.8Z"/>
<path class="mo" d="M306.6 922.0 316.4 922.0 311.5 931.8Z"/>
<path class="mo" d="M309.6 922.0 319.4 922.0 314.5 931.8Z"/>
<path class="mo" d="M312.6 922.0 322.4 922.0 317.5 931.8Z"/>
<path class="mo" d="M315.6 922.0 325.4 922.0 320.5 931.8Z"/>
<path class="mo" d="M318.6 922.0 328.4 922.0 323.5 931.8Z"/>
<path class="mo" d="M321.6 922.0 331.4 922.0 326.5 931.8Z"/>
<path class="mo" d="M324.6 922.0 334.4 922.0 329.5 931.8Z"/>
<path class="mo" d="M327.6 922.0 337.4 922.0 332.5 931.8Z"/>
<path class="mo" d="M330.6 922.0 340.4 922.0 335.5 931.8Z"/>
<path class="mo" d="M333.6 922.0 343.4 922.0 338.5 931.8Z"/>
<path class="mo" d="M336.6 922.0 346.4 922.0 341.5 931.8Z"/>
<path class="mo" d="M339.6 922.0 349.4 922.0 344.5 931.8Z"/>
<path class="mo" d="M342.6 922.0 352.4 922.0 347.5 931.8Z"/>
<path class="mo" d="M345.6 922.0 355.4 922.0 350.5 931.8Z"/>
<path class="mo" d="M348.6 922.0 358.4 922.0 353.5 931.8Z"/>
<path class="mo" d="M351.6 922.0 361.4 922.0 356.5 931.8Z"/>
<path class="mo" d="M354.6 922.0 364.4 922.0 359.5 931.8Z"/>
<path class="mo" d="M357.6 922.0 367.4 922.0 362.5 931.8Z"/>
<path class="mo" d="M360.6 922.0 370.4 922.0 365.5 931.8Z"/>
<path class="mo" d="M363.6 922.0 373.4 922.0 368.5 931.8Z"/>
<path class="mo" d="M364.7 922.0 374.5 922.0 369.6 931.8Z"/>
<path class="mo" d="M399.3 922.0 409.1 922.0 404.2 931.8Z"/>
<path class="mo" d="M402.3 922.0 412.1 922.0 407.2 931.8Z"/>
<path class="mo" d="M403.8 922.0 413.6 922.0 408.7 931.8Z"/>
<path class="mo" d="M236.9 909.4 246.7 909.4 241.8 919.2Z"/>
<path class="mo" d="M239.9 909.4 249.7 909.4 244.8 919.2Z"/>
<path class="mo" d="M242.9 909.4 252.7 909.4 247.8 919.2Z"/>
<path class="mo" d="M245.9 909.4 255.7 909.4 250.8 919.2Z"/>
<path class="mo" d="M248.9 909.4 258.7 909.4 253.8 919.2Z"/>
<path class="mo" d="M251.9 909.4 261.7 909.4 256.8 919.2Z"/>
<path class="mo" d="M254.9 909.4 264.7 909.4 259.8 919.2Z"/>
<path class="mo" d="M269.1 909.4 278.9 909.4 274.0 919.2Z"/>
<path class="mo" d="M271.6 909.4 281.4 909.4 276.5 919.2Z"/>
<path class="mo" d="M303.4 909.4 313.2 909.4 308.3 919.2Z"/>
<path class="mo" d="M306.4 909.4 316.2 909.4 311.3 919.2Z"/>
<path class="mo" d="M309.4 909.4 319.2 909.4 314.3 919.2Z"/>
<path class="mo" d="M312.4 909.4 322.2 909.4 317.3 919.2Z"/>
<path class="mo" d="M315.4 909.4 325.2 909.4 320.3 919.2Z"/>
<path class="mo" d="M318.1 909.4 327.9 909.4 323.0 919.2Z"/>
<path class="mo" d="M338.0 909.4 347.8 909.4 342.9 919.2Z"/>
<path class="mo" d="M341.0 909.4 350.8 909.4 345.9 919.2Z"/>
<path class="mo" d="M344.0 909.4 353.8 909.4 348.9 919.2Z"/>
<path class="mo" d="M347.0 909.4 356.8 909.4 351.9 919.2Z"/>
<path class="mo" d="M350.0 909.4 359.8 909.4 354.9 919.2Z"/>
<path class="mo" d="M353.0 909.4 362.8 909.4 357.9 919.2Z"/>
<path class="mo" d="M356.0 909.4 365.8 909.4 360.9 919.2Z"/>
<path class="mo" d="M359.0 909.4 368.8 909.4 363.9 919.2Z"/>
<path class="mo" d="M362.0 909.4 371.8 909.4 366.9 919.2Z"/>
<path class="mo" d="M365.0 909.4 374.8 909.4 369.9 919.2Z"/>
<path class="mo" d="M368.0 909.4 377.8 909.4 372.9 919.2Z"/>
<path class="mo" d="M371.0 909.4 380.8 909.4 375.9 919.2Z"/>
<path class="mo" d="M373.1 909.4 382.9 909.4 378.0 919.2Z"/>
<path class="mo" d="M388.6 909.4 398.4 909.4 393.5 919.2Z"/>
<path class="mo" d="M391.6 909.4 401.4 909.4 396.5 919.2Z"/>
<path class="mo" d="M394.6 909.4 404.4 909.4 399.5 919.2Z"/>
<path class="mo" d="M397.6 909.4 407.4 909.4 402.5 919.2Z"/>
<path class="mo" d="M399.1 909.4 408.9 909.4 404.0 919.2Z"/>
<path class="mo" d="M234.1 899.7 243.9 899.7 239.0 909.5Z"/>
<path class="mo" d="M238.1 899.7 247.9 899.7 243.0 909.5Z"/>
<path class="mo" d="M242.1 899.7 251.9 899.7 247.0 909.5Z"/>
<path class="mo" d="M244.1 899.7 253.9 899.7 249.0 909.5Z"/>
<path class="mo" d="M301.9 899.7 311.7 899.7 306.8 909.5Z"/>
<path class="mo" d="M367.1 899.7 376.9 899.7 372.0 909.5Z"/>
<path class="mo" d="M395.1 899.7 404.9 899.7 400.0 909.5Z"/>
<path class="mo" d="M235.9 891.8 245.7 891.8 240.8 901.6Z"/>
<path class="mo" d="M237.8 891.8 247.6 891.8 242.7 901.6Z"/>
<path class="mo" d="M342.1 891.8 351.9 891.8 347.0 901.6Z"/>
<path class="mo" d="M373.6 891.8 383.4 891.8 378.5 901.6Z"/>
<path class="mo" d="M389.4 891.8 399.2 891.8 394.3 901.6Z"/>
<path class="mo" d="M398.7 891.8 408.5 891.8 403.6 901.6Z"/>
<path class="mo" d="M410.8 891.8 420.6 891.8 415.7 901.6Z"/>
<path class="mo" d="M325.1 891.8 334.9 891.8 330.0 901.6Z"/>
<path class="mo" d="M318.8 891.8 328.6 891.8 323.7 901.6Z"/>
<path class="mo" d="M239.6 885.0 249.4 885.0 244.5 894.8Z"/>
<path class="mo" d="M232.1 885.0 241.9 885.0 237.0 894.8Z"/>
<path class="mo" d="M301.9 885.0 311.7 885.0 306.8 894.8Z"/>
<path class="mo" d="M411.8 885.0 421.6 885.0 416.7 894.8Z"/>
<path class="mo" d="M235.9 881.5 245.6 881.5 240.8 891.2Z"/>
<path class="mo" d="M230.0 874.2 239.8 874.2 234.9 883.9Z"/>
<path class="mo" d="M246.1 874.2 255.8 874.2 251.0 883.9Z"/>
<path class="mo" d="M255.6 872.7 265.3 872.7 260.4 882.5Z"/>
<path class="mo" d="M340.1 872.7 349.9 872.7 345.0 882.5Z"/>
<path class="mo" d="M360.6 872.0 370.3 872.0 365.4 881.7Z"/>
<path class="mo" d="M297.1 861.0 306.9 861.0 302.0 870.8Z"/>
<path class="mo" d="M256.3 864.0 266.0 864.0 261.2 873.7Z"/>
<path class="mo" d="M266.5 865.4 276.3 865.4 271.4 875.2Z"/>
<path class="mo" d="M383.9 859.6 393.6 859.6 388.8 869.3Z"/>
<path class="mo" d="M238.1 869.8 247.8 869.8 242.9 879.5Z"/>
<path class="mo" d="M402.1 970.0 411.9 970.0 407.0 979.7Z"/>
<path class="mo" d="M416.7 970.0 426.5 970.0 421.6 979.7Z"/>
<path class="mo" d="M429.1 970.0 438.9 970.0 434.0 979.7Z"/>
<path class="mo" d="M437.9 970.0 447.6 970.0 442.7 979.7Z"/>
<path class="mo" d="M443.0 970.0 452.7 970.0 447.8 979.7Z"/>
<path class="mo" d="M456.1 970.0 465.8 970.0 461.0 979.7Z"/>
<path class="mo" d="M408.7 939.8 418.4 939.8 413.6 949.5Z"/>
<path class="mo" d="M421.1 939.8 430.8 939.8 426.0 949.5Z"/>
<path class="mo" d="M432.8 939.8 442.5 939.8 437.6 949.5Z"/>
<path class="mo" d="M440.8 939.8 450.5 939.8 445.6 949.5Z"/>
<path class="mo" d="M445.1 939.8 454.9 939.8 450.0 949.5Z"/>
<path class="mo" d="M450.3 939.8 460.0 939.8 455.1 949.5Z"/>
<path class="mo" d="M460.5 939.8 470.2 939.8 465.3 949.5Z"/>
<path class="mo" d="M480.1 939.8 489.9 939.8 485.0 949.5Z"/>
<path class="mo" d="M502.0 939.8 511.8 939.8 506.9 949.5Z"/>
<path class="mo" d="M402.9 922.0 412.6 922.0 407.7 931.8Z"/>
<path class="mo" d="M446.6 922.0 456.4 922.0 451.5 931.8Z"/>
<path class="mo" d="M402.9 909.5 412.6 909.5 407.7 919.2Z"/>
<path class="mo" d="M420.4 909.5 430.1 909.5 425.2 919.2Z"/>
<path class="mo" d="M454.6 899.7 464.4 899.7 459.5 909.4Z"/>
<path class="mo" d="M472.1 899.7 481.9 899.7 477.0 909.4Z"/>
<path class="mo" d="M410.9 891.8 420.6 891.8 415.8 901.6Z"/>
<path class="mo" d="M416.7 891.8 426.5 891.8 421.6 901.6Z"/>
<path class="mo" d="M423.3 891.8 433.0 891.8 428.1 901.6Z"/>
<path class="mo" d="M434.9 891.8 444.7 891.8 439.8 901.6Z"/>
<path class="mo" d="M416.7 885.0 426.5 885.0 421.6 894.7Z"/>
<path class="mo" d="M447.3 885.0 457.1 885.0 452.2 894.7Z"/>
<path class="mo" d="M460.5 885.0 470.2 885.0 465.3 894.7Z"/>
<path class="mo" d="M487.4 885.0 497.2 885.0 492.3 894.7Z"/>
<path class="mo" d="M410.1 879.1 419.9 879.1 415.0 888.9Z"/>
<path class="mo" d="M460.5 879.1 470.2 879.1 465.3 888.9Z"/>
<path class="mo" d="M438.6 871.3 448.3 871.3 443.5 881.0Z"/>
<path class="mo" d="M467.8 872.7 477.5 872.7 472.6 882.5Z"/>
<path class="mo" d="M463.4 864.0 473.1 864.0 468.3 873.7Z"/>
<path class="mo" d="M435.7 861.0 445.4 861.0 440.5 870.8Z"/>
<path class="mb" d="M111.6 626.5 121.4 626.5 116.5 616.8Z"/>
<path class="mb" d="M159.3 634.1 169.1 634.1 164.2 624.4Z"/>
<path class="mb" d="M75.5 662.6 85.2 662.6 80.3 652.8Z"/>
<path class="mb" d="M132.8 664.0 142.5 664.0 137.6 654.3Z"/>
<path class="mb" d="M111.6 681.1 121.4 681.1 116.5 671.3Z"/>
<path class="mb" d="M75.5 690.3 85.2 690.3 80.3 680.5Z"/>
<path class="mb" d="M75.5 693.9 85.2 693.9 80.3 684.2Z"/>
<path class="mb" d="M132.8 687.8 142.5 687.8 137.6 678.0Z"/>
<path class="mb" d="M159.3 690.3 169.1 690.3 164.2 680.5Z"/>
<path class="mb" d="M111.6 711.4 121.4 711.4 116.5 701.7Z"/>
<path class="mb" d="M111.6 715.8 121.4 715.8 116.5 706.0Z"/>
<path class="mb" d="M132.8 707.8 142.5 707.8 137.6 698.0Z"/>
<path class="mb" d="M147.6 711.1 157.4 711.1 152.5 701.4Z"/>
<path class="mb" d="M168.8 706.8 178.5 706.8 173.7 697.0Z"/>
<path class="mb" d="M147.6 730.4 157.4 730.4 152.5 720.6Z"/>
<path class="mb" d="M301.2 642.9 311.0 642.9 306.1 633.1Z"/>
<path class="mb" d="M385.4 635.6 395.1 635.6 390.2 625.8Z"/>
<path class="mb" d="M345.3 672.0 355.0 672.0 350.1 662.3Z"/>
<path class="mb" d="M361.0 670.6 370.8 670.6 365.9 660.8Z"/>
<path class="mb" d="M321.9 682.5 331.7 682.5 326.8 672.8Z"/>
<path class="mb" d="M378.8 678.6 388.5 678.6 383.7 668.9Z"/>
<path class="mb" d="M370.8 683.7 380.5 683.7 375.6 674.0Z"/>
<path class="mb" d="M395.6 682.0 405.3 682.0 400.4 672.2Z"/>
<path class="mb" d="M363.0 688.1 372.8 688.1 367.9 678.3Z"/>
<path class="mb" d="M355.5 696.5 365.2 696.5 360.3 686.8Z"/>
<path class="mb" d="M245.4 694.6 255.1 694.6 250.2 684.9Z"/>
<path class="mb" d="M243.2 706.8 252.9 706.8 248.0 697.0Z"/>
<path class="mb" d="M278.2 701.9 287.9 701.9 283.0 692.2Z"/>
<path class="mb" d="M312.4 704.9 322.2 704.9 317.3 695.1Z"/>
<path class="mb" d="M266.5 714.3 276.3 714.3 271.4 704.6Z"/>
<path class="mb" d="M305.1 716.5 314.9 716.5 310.0 706.8Z"/>
<path class="mb" d="M366.4 708.2 376.1 708.2 371.3 698.5Z"/>
<path class="mb" d="M371.8 712.6 381.5 712.6 376.7 702.8Z"/>
<path class="mb" d="M339.1 720.2 348.9 720.2 344.0 710.4Z"/>
<path class="mb" d="M360.1 721.9 369.9 721.9 365.0 712.2Z"/>
<path class="mb" d="M384.6 724.5 394.4 724.5 389.5 714.8Z"/>
<path class="mb" d="M298.3 727.5 308.0 727.5 303.2 717.7Z"/>
<path class="mb" d="M316.8 728.6 326.6 728.6 321.7 718.9Z"/>
<path class="mb" d="M322.6 730.1 332.4 730.1 327.5 720.3Z"/>
<path class="mb" d="M329.2 727.5 339.0 727.5 334.1 717.7Z"/>
<path class="mb" d="M340.1 730.4 349.9 730.4 345.0 720.6Z"/>
<path class="mb" d="M279.6 734.0 289.4 734.0 284.5 724.3Z"/>
<path class="mb" d="M303.0 734.0 312.7 734.0 307.8 724.3Z"/>
<path class="mb" d="M326.3 735.5 336.0 735.5 331.2 725.7Z"/>
<path class="mb" d="M335.0 734.8 344.8 734.8 339.9 725.0Z"/>
<path class="mb" d="M466.0 644.3 475.8 644.3 470.9 634.6Z"/>
<path class="mb" d="M410.9 659.2 420.6 659.2 415.8 649.5Z"/>
<path class="mb" d="M520.3 691.7 530.0 691.7 525.1 682.0Z"/>
<path class="mb" d="M445.6 698.0 455.3 698.0 450.5 688.3Z"/>
<path class="mb" d="M430.6 729.2 440.3 729.2 435.4 719.5Z"/>
<path class="mb" d="M441.5 729.2 451.3 729.2 446.4 719.5Z"/>
<path class="mb" d="M476.1 724.8 485.8 724.8 480.9 715.1Z"/>
<path class="mb" d="M518.4 729.6 528.1 729.6 523.2 719.9Z"/>
<path class="mb" d="M468.5 735.5 478.2 735.5 473.4 725.7Z"/>
<path class="mb" d="M75.5 764.9 85.2 764.9 80.3 755.1Z"/>
<path class="mb" d="M75.5 769.2 85.2 769.2 80.3 759.5Z"/>
<path class="mb" d="M75.5 772.9 85.2 772.9 80.3 763.1Z"/>
<path class="mb" d="M75.5 781.6 85.2 781.6 80.3 771.9Z"/>
<path class="mb" d="M75.5 786.0 85.2 786.0 80.3 776.3Z"/>
<path class="mb" d="M75.5 791.8 85.2 791.8 80.3 782.1Z"/>
<path class="mb" d="M75.5 799.1 85.2 799.1 80.3 789.4Z"/>
<path class="mb" d="M75.5 803.5 85.2 803.5 80.3 793.8Z"/>
<path class="mb" d="M75.5 806.4 85.2 806.4 80.3 796.7Z"/>
<path class="mb" d="M75.5 825.4 85.2 825.4 80.3 815.6Z"/>
<path class="mb" d="M75.5 838.5 85.2 838.5 80.3 828.8Z"/>
<path class="mb" d="M75.5 845.8 85.2 845.8 80.3 836.0Z"/>
<path class="mb" d="M75.5 861.8 85.2 861.8 80.3 852.1Z"/>
<path class="mb" d="M111.6 759.0 121.4 759.0 116.5 749.3Z"/>
<path class="mb" d="M111.6 778.0 121.4 778.0 116.5 768.2Z"/>
<path class="mb" d="M111.6 781.6 121.4 781.6 116.5 771.9Z"/>
<path class="mb" d="M111.6 786.0 121.4 786.0 116.5 776.3Z"/>
<path class="mb" d="M111.6 790.4 121.4 790.4 116.5 780.6Z"/>
<path class="mb" d="M111.6 794.8 121.4 794.8 116.5 785.0Z"/>
<path class="mb" d="M111.6 799.1 121.4 799.1 116.5 789.4Z"/>
<path class="mb" d="M111.6 803.5 121.4 803.5 116.5 793.8Z"/>
<path class="mb" d="M111.6 807.9 121.4 807.9 116.5 798.1Z"/>
<path class="mb" d="M111.6 811.5 121.4 811.5 116.5 801.8Z"/>
<path class="mb" d="M111.6 840.0 121.4 840.0 116.5 830.2Z"/>
<path class="mb" d="M111.6 853.1 121.4 853.1 116.5 843.3Z"/>
<path class="mb" d="M132.8 741.5 142.5 741.5 137.6 731.8Z"/>
<path class="mb" d="M132.8 748.8 142.5 748.8 137.6 739.1Z"/>
<path class="mb" d="M132.8 759.8 142.5 759.8 137.6 750.0Z"/>
<path class="mb" d="M132.8 788.9 142.5 788.9 137.6 779.2Z"/>
<path class="mb" d="M132.8 807.9 142.5 807.9 137.6 798.1Z"/>
<path class="mb" d="M132.8 810.8 142.5 810.8 137.6 801.0Z"/>
<path class="mb" d="M132.8 821.7 142.5 821.7 137.6 812.0Z"/>
<path class="mb" d="M132.8 831.2 142.5 831.2 137.6 821.5Z"/>
<path class="mb" d="M147.6 759.0 157.4 759.0 152.5 749.3Z"/>
<path class="mb" d="M147.6 778.7 157.4 778.7 152.5 769.0Z"/>
<path class="mb" d="M147.6 781.6 157.4 781.6 152.5 771.9Z"/>
<path class="mb" d="M147.6 826.1 157.4 826.1 152.5 816.4Z"/>
<path class="mb" d="M147.6 838.5 157.4 838.5 152.5 828.8Z"/>
<path class="mb" d="M147.6 857.5 157.4 857.5 152.5 847.7Z"/>
<path class="mb" d="M159.3 751.0 169.1 751.0 164.2 741.3Z"/>
<path class="mb" d="M159.3 767.0 169.1 767.0 164.2 757.3Z"/>
<path class="mb" d="M159.3 801.3 169.1 801.3 164.2 791.6Z"/>
<path class="mb" d="M159.3 832.7 169.1 832.7 164.2 822.9Z"/>
<path class="mb" d="M168.8 767.0 178.5 767.0 173.7 757.3Z"/>
<path class="mb" d="M168.8 797.7 178.5 797.7 173.7 787.9Z"/>
<path class="mb" d="M168.8 837.8 178.5 837.8 173.7 828.0Z"/>
<path class="mb" d="M168.8 850.2 178.5 850.2 173.7 840.4Z"/>
<path class="mb" d="M176.8 797.7 186.6 797.7 181.7 787.9Z"/>
<path class="mb" d="M184.1 749.5 193.9 749.5 189.0 739.8Z"/>
<path class="mb" d="M184.1 825.4 193.9 825.4 189.0 815.6Z"/>
<path class="mb" d="M184.1 829.0 193.9 829.0 189.0 819.3Z"/>
<path class="mb" d="M184.1 831.9 193.9 831.9 189.0 822.2Z"/>
<path class="mb" d="M184.1 845.8 193.9 845.8 189.0 836.0Z"/>
<path class="mb" d="M195.8 761.9 205.5 761.9 200.6 752.2Z"/>
<path class="mb" d="M195.8 819.5 205.5 819.5 200.6 809.8Z"/>
<path class="mb" d="M200.1 828.3 209.9 828.3 205.0 818.5Z"/>
<path class="mb" d="M200.1 840.7 209.9 840.7 205.0 830.9Z"/>
<path class="mb" d="M205.3 782.4 215.0 782.4 210.1 772.6Z"/>
<path class="mb" d="M200.1 788.9 209.9 788.9 205.0 779.2Z"/>
<path class="mb" d="M213.3 789.6 223.0 789.6 218.1 779.9Z"/>
<path class="mb" d="M205.3 802.0 215.0 802.0 210.1 792.3Z"/>
<path class="mb" d="M213.3 752.5 223.0 752.5 218.1 742.7Z"/>
<path class="mb" d="M219.8 763.4 229.6 763.4 224.7 753.6Z"/>
<path class="mb" d="M224.2 772.9 234.0 772.9 229.1 763.1Z"/>
<path class="mb" d="M224.2 837.0 234.0 837.0 229.1 827.3Z"/>
<path class="mb" d="M213.3 851.6 223.0 851.6 218.1 841.9Z"/>
<path class="mb" d="M236.6 743.0 246.4 743.0 241.5 733.2Z"/>
<path class="mb" d="M245.4 745.9 255.1 745.9 250.2 736.1Z"/>
<path class="mb" d="M233.7 750.3 243.4 750.3 238.6 740.5Z"/>
<path class="mb" d="M273.8 746.6 283.5 746.6 278.7 736.9Z"/>
<path class="mb" d="M281.1 752.5 290.8 752.5 286.0 742.7Z"/>
<path class="mb" d="M286.9 761.9 296.7 761.9 291.8 752.2Z"/>
<path class="mb" d="M294.2 758.3 304.0 758.3 299.1 748.5Z"/>
<path class="mb" d="M300.8 742.3 310.5 742.3 305.6 732.5Z"/>
<path class="mb" d="M331.4 740.8 341.1 740.8 336.3 731.0Z"/>
<path class="mb" d="M305.9 760.5 315.6 760.5 310.8 750.7Z"/>
<path class="mb" d="M312.4 766.3 322.2 766.3 317.3 756.6Z"/>
<path class="mb" d="M304.4 772.9 314.2 772.9 309.3 763.1Z"/>
<path class="mb" d="M311.0 771.4 320.7 771.4 315.9 761.7Z"/>
<path class="mb" d="M345.3 756.8 355.0 756.8 350.1 747.1Z"/>
<path class="mb" d="M351.8 753.9 361.6 753.9 356.7 744.2Z"/>
<path class="mb" d="M362.8 758.3 372.5 758.3 367.6 748.5Z"/>
<path class="mb" d="M343.8 767.0 353.5 767.0 348.7 757.3Z"/>
<path class="mb" d="M355.5 764.1 365.2 764.1 360.3 754.4Z"/>
<path class="mb" d="M364.2 767.0 374.0 767.0 369.1 757.3Z"/>
<path class="mb" d="M352.5 772.9 362.3 772.9 357.4 763.1Z"/>
<path class="mb" d="M359.8 777.3 369.6 777.3 364.7 767.5Z"/>
<path class="mb" d="M384.6 767.0 394.4 767.0 389.5 757.3Z"/>
<path class="mb" d="M389.0 767.0 398.8 767.0 393.9 757.3Z"/>
<path class="mb" d="M377.3 775.1 387.1 775.1 382.2 765.3Z"/>
<path class="mb" d="M393.4 777.3 403.1 777.3 398.3 767.5Z"/>
<path class="mb" d="M399.2 774.3 409.0 774.3 404.1 764.6Z"/>
<path class="mb" d="M400.7 786.0 410.4 786.0 405.5 776.3Z"/>
<path class="mb" d="M243.2 764.1 252.9 764.1 248.0 754.4Z"/>
<path class="mb" d="M255.6 759.8 265.3 759.8 260.4 750.0Z"/>
<path class="mb" d="M231.5 775.8 241.3 775.8 236.4 766.0Z"/>
<path class="mb" d="M243.2 772.9 252.9 772.9 248.0 763.1Z"/>
<path class="mb" d="M251.2 778.0 260.9 778.0 256.1 768.2Z"/>
<path class="mb" d="M257.8 775.1 267.5 775.1 262.6 765.3Z"/>
<path class="mb" d="M265.0 775.8 274.8 775.8 269.9 766.0Z"/>
<path class="mb" d="M258.5 784.5 268.2 784.5 263.4 774.8Z"/>
<path class="mb" d="M259.2 787.5 269.0 787.5 264.1 777.7Z"/>
<path class="mb" d="M247.5 792.6 257.3 792.6 252.4 782.8Z"/>
<path class="mb" d="M278.9 788.9 288.6 788.9 283.8 779.2Z"/>
<path class="mb" d="M283.3 794.0 293.0 794.0 288.1 784.3Z"/>
<path class="mb" d="M314.6 783.1 324.4 783.1 319.5 773.3Z"/>
<path class="mb" d="M320.5 783.1 330.2 783.1 325.3 773.3Z"/>
<path class="mb" d="M327.0 783.1 336.8 783.1 331.9 773.3Z"/>
<path class="mb" d="M336.5 778.7 346.3 778.7 341.4 769.0Z"/>
<path class="mb" d="M343.8 787.5 353.5 787.5 348.7 777.7Z"/>
<path class="mb" d="M351.1 781.6 360.8 781.6 356.0 771.9Z"/>
<path class="mb" d="M359.8 783.1 369.6 783.1 364.7 773.3Z"/>
<path class="mb" d="M308.8 794.8 318.5 794.8 313.7 785.0Z"/>
<path class="mb" d="M317.5 796.2 327.3 796.2 322.4 786.5Z"/>
<path class="mb" d="M321.9 793.3 331.7 793.3 326.8 783.5Z"/>
<path class="mb" d="M335.0 793.3 344.8 793.3 339.9 783.5Z"/>
<path class="mb" d="M329.2 802.0 339.0 802.0 334.1 792.3Z"/>
<path class="mb" d="M356.9 796.2 366.7 796.2 361.8 786.5Z"/>
<path class="mb" d="M367.1 799.1 376.9 799.1 372.0 789.4Z"/>
<path class="mb" d="M373.0 797.7 382.7 797.7 377.8 787.9Z"/>
<path class="mb" d="M387.5 794.8 397.3 794.8 392.4 785.0Z"/>
<path class="mb" d="M314.6 805.0 324.4 805.0 319.5 795.2Z"/>
<path class="mb" d="M310.3 806.4 320.0 806.4 315.1 796.7Z"/>
<path class="mb" d="M352.5 807.9 362.3 807.9 357.4 798.1Z"/>
<path class="mb" d="M346.7 813.7 356.5 813.7 351.6 804.0Z"/>
<path class="mb" d="M400.7 810.8 410.4 810.8 405.5 801.0Z"/>
<path class="mb" d="M241.7 817.4 251.5 817.4 246.6 807.6Z"/>
<path class="mb" d="M249.0 812.3 258.8 812.3 253.9 802.5Z"/>
<path class="mb" d="M254.8 823.9 264.6 823.9 259.7 814.2Z"/>
<path class="mb" d="M262.1 823.9 271.9 823.9 267.0 814.2Z"/>
<path class="mb" d="M238.8 825.4 248.5 825.4 243.7 815.6Z"/>
<path class="mb" d="M282.5 825.4 292.3 825.4 287.4 815.6Z"/>
<path class="mb" d="M293.5 823.9 303.2 823.9 298.4 814.2Z"/>
<path class="mb" d="M358.4 823.9 368.1 823.9 363.3 814.2Z"/>
<path class="mb" d="M352.5 825.4 362.3 825.4 357.4 815.6Z"/>
<path class="mb" d="M378.8 821.0 388.5 821.0 383.7 811.3Z"/>
<path class="mb" d="M321.9 834.9 331.7 834.9 326.8 825.1Z"/>
<path class="mb" d="M326.3 837.0 336.0 837.0 331.2 827.3Z"/>
<path class="mb" d="M345.3 836.3 355.0 836.3 350.1 826.6Z"/>
<path class="mb" d="M246.1 845.1 255.8 845.1 251.0 835.3Z"/>
<path class="mb" d="M284.0 842.1 293.8 842.1 288.9 832.4Z"/>
<path class="mb" d="M297.1 842.1 306.9 842.1 302.0 832.4Z"/>
<path class="mb" d="M308.8 845.8 318.5 845.8 313.7 836.0Z"/>
<path class="mb" d="M340.9 842.9 350.6 842.9 345.8 833.1Z"/>
<path class="mb" d="M338.0 845.8 347.7 845.8 342.8 836.0Z"/>
<path class="mb" d="M386.1 848.7 395.8 848.7 391.0 839.0Z"/>
<path class="mb" d="M364.2 856.0 374.0 856.0 369.1 846.3Z"/>
<path class="mb" d="M355.5 863.3 365.2 863.3 360.3 853.5Z"/>
<path class="mb" d="M384.6 861.8 394.4 861.8 389.5 852.1Z"/>
<path class="mb" d="M404.3 741.5 414.1 741.5 409.2 731.8Z"/>
<path class="mb" d="M441.2 744.4 451.0 744.4 446.1 734.7Z"/>
<path class="mb" d="M476.8 743.7 486.5 743.7 481.7 734.0Z"/>
<path class="mb" d="M464.1 755.4 473.9 755.4 469.0 745.6Z"/>
<path class="mb" d="M485.0 763.4 494.7 763.4 489.8 753.6Z"/>
<path class="mb" d="M410.1 761.9 419.9 761.9 415.0 752.2Z"/>
<path class="mb" d="M416.0 767.8 425.7 767.8 420.9 758.0Z"/>
<path class="mb" d="M424.0 772.9 433.8 772.9 428.9 763.1Z"/>
<path class="mb" d="M419.6 775.8 429.4 775.8 424.5 766.0Z"/>
<path class="mb" d="M438.6 772.9 448.3 772.9 443.5 763.1Z"/>
<path class="mb" d="M452.4 770.0 462.2 770.0 457.3 760.2Z"/>
<path class="mb" d="M458.3 767.8 468.0 767.8 463.1 758.0Z"/>
<path class="mb" d="M506.4 771.4 516.1 771.4 511.3 761.7Z"/>
<path class="mb" d="M509.8 777.3 519.5 777.3 514.6 767.5Z"/>
<path class="mb" d="M516.6 784.3 526.4 784.3 521.5 774.5Z"/>
<path class="mb" d="M492.5 784.3 502.3 784.3 497.4 774.5Z"/>
<path class="mb" d="M448.8 786.0 458.5 786.0 453.7 776.3Z"/>
<path class="mb" d="M444.4 790.4 454.2 790.4 449.3 780.6Z"/>
<path class="mb" d="M403.6 786.0 413.3 786.0 408.5 776.3Z"/>
<path class="mb" d="M425.5 791.1 435.2 791.1 430.3 781.4Z"/>
<path class="mb" d="M461.2 803.5 470.9 803.5 466.1 793.8Z"/>
<path class="mb" d="M461.9 806.4 471.7 806.4 466.8 796.7Z"/>
<path class="mb" d="M473.6 806.4 483.3 806.4 478.5 796.7Z"/>
<path class="mb" d="M504.2 808.6 514.0 808.6 509.1 798.9Z"/>
<path class="mb" d="M452.4 815.9 462.2 815.9 457.3 806.1Z"/>
<path class="mb" d="M403.6 810.8 413.3 810.8 408.5 801.0Z"/>
<path class="mb" d="M422.5 819.5 432.3 819.5 427.4 809.8Z"/>
<path class="mb" d="M418.2 823.9 427.9 823.9 423.0 814.2Z"/>
<path class="mb" d="M432.0 825.4 441.8 825.4 436.9 815.6Z"/>
<path class="mb" d="M408.0 826.8 417.7 826.8 412.8 817.1Z"/>
<path class="mb" d="M485.3 829.8 495.0 829.8 490.1 820.0Z"/>
<path class="mb" d="M550.1 824.6 559.9 824.6 555.0 814.9Z"/>
<path class="mb" d="M406.5 846.5 416.3 846.5 411.4 836.8Z"/>
<path class="mb" d="M413.8 846.5 423.5 846.5 418.7 836.8Z"/>
<path class="mb" d="M421.1 853.1 430.8 853.1 426.0 843.3Z"/>
<path class="mb" d="M418.2 861.8 427.9 861.8 423.0 852.1Z"/>
<path class="mb" d="M429.8 861.1 439.6 861.1 434.7 851.4Z"/>
<path class="mb" d="M408.0 864.8 417.7 864.8 412.8 855.0Z"/>
<path class="mb" d="M479.4 866.9 489.2 866.9 484.3 857.2Z"/>
<path class="mb" d="M168.9 889.0 178.6 889.0 173.7 879.2Z"/>
<path class="mb" d="M306.5 909.5 316.3 909.5 311.4 899.7Z"/>
<path class="mb" d="M314.0 901.6 323.8 901.6 318.9 891.8Z"/>
<path class="mb" d="M355.1 891.9 364.9 891.9 360.0 882.1Z"/>
<path class="mb" d="M292.0 886.1 301.8 886.1 296.9 876.4Z"/>
<path class="mb" d="M354.7 889.0 364.5 889.0 359.6 879.3Z"/>
<path class="mb" d="M375.1 884.6 384.9 884.6 380.0 874.9Z"/>
<path class="mb" d="M364.2 869.3 374.0 869.3 369.1 859.6Z"/>
<path class="mb" d="M351.1 867.9 360.8 867.9 356.0 858.1Z"/>
<path class="mb" d="M321.9 881.0 331.7 881.0 326.8 871.3Z"/>
<path class="mb" d="M428.4 880.3 438.1 880.3 433.3 870.5Z"/>
<path class="mb" d="M483.8 879.5 493.5 879.5 488.7 869.8Z"/>
<path class="mb" d="M478.7 871.5 488.4 871.5 483.6 861.8Z"/>
<path class="mb" d="M441.5 871.5 451.3 871.5 446.4 861.8Z"/>
<path class="mb" d="M410.1 869.3 419.9 869.3 415.0 859.6Z"/>
<path class="mg" d="M360.8 711.6 360.8 721.3 351.1 716.5Z"/>
<path class="mg" d="M85.2 767.5 85.2 777.3 75.5 772.4Z"/>
<path class="mg" d="M123.1 824.4 123.1 834.1 113.4 829.3Z"/>
<path class="mg" d="M123.1 852.1 123.1 861.8 113.4 857.0Z"/>
<path class="mg" d="M205.5 763.1 205.5 772.9 195.8 768.0Z"/>
<path class="mg" d="M228.1 828.8 228.1 838.5 218.4 833.6Z"/>
<path class="mg" d="M320.7 778.4 320.7 788.2 311.0 783.3Z"/>
<path class="mg" d="M353.5 793.8 353.5 803.5 343.8 798.6Z"/>
<path class="mg" d="M371.0 808.3 371.0 818.1 361.3 813.2Z"/>
<path class="mg" d="M391.5 812.7 391.5 822.5 381.7 817.6Z"/>
<path class="mg" d="M398.8 815.6 398.8 825.4 389.0 820.5Z"/>
<path class="mg" d="M321.5 825.8 321.5 835.6 311.7 830.7Z"/>
<path class="mg" d="M280.6 847.7 280.6 857.5 270.9 852.6Z"/>
<path class="mg" d="M296.7 849.2 296.7 858.9 286.9 854.0Z"/>
<path class="mg" d="M328.8 849.9 328.8 859.6 319.0 854.8Z"/>
<path class="mg" d="M337.5 852.1 337.5 861.8 327.8 857.0Z"/>
<path class="mg" d="M390.0 850.6 390.0 860.4 380.3 855.5Z"/>
<path class="mg" d="M400.2 853.5 400.2 863.3 390.5 858.4Z"/>
<path class="mg" d="M443.2 773.3 443.2 783.1 433.5 778.2Z"/>
<path class="mg" d="M427.9 819.3 427.9 829.0 418.2 824.1Z"/>
<path class="mg" d="M414.8 847.7 414.8 857.5 405.0 852.6Z"/>
<path class="mg" d="M538.8 853.5 538.8 863.3 529.0 858.4Z"/>
<path class="mg" d="M85.2 922.0 85.2 931.8 75.4 926.9Z"/>
<path class="mg" d="M214.8 922.0 214.8 931.8 205.0 926.9Z"/>
<path class="mg" d="M226.4 922.0 226.4 931.8 216.6 926.9Z"/>
<path class="mg" d="M121.3 909.5 121.3 919.2 111.6 914.3Z"/>
<path class="mg" d="M232.9 909.5 232.9 919.2 223.2 914.3Z"/>
<path class="mg" d="M85.2 885.1 85.2 894.8 75.4 889.9Z"/>
<path class="mg" d="M210.2 874.1 210.2 883.8 200.5 879.0Z"/>
<path class="mg" d="M193.6 865.3 193.6 875.1 183.9 870.2Z"/>
<path class="mg" d="M205.2 869.5 205.2 879.2 195.5 874.4Z"/>
<path class="mg" d="M85.2 865.3 85.2 875.1 75.4 870.2Z"/>
<path class="mg" d="M85.2 859.8 85.2 869.5 75.4 864.6Z"/>
<path class="mg" d="M235.9 909.4 235.9 919.2 226.1 914.3Z"/>
<path class="mg" d="M321.9 909.4 321.9 919.2 312.1 914.3Z"/>
<path class="mg" d="M324.9 909.4 324.9 919.2 315.1 914.3Z"/>
<path class="mg" d="M422.5 909.4 422.5 919.2 412.7 914.3Z"/>
<path class="mg" d="M357.4 922.0 357.4 931.8 347.6 926.9Z"/>
<path class="mg" d="M414.1 922.0 414.1 931.8 404.3 926.9Z"/>
<path class="mg" d="M281.9 891.8 281.9 901.6 272.1 896.7Z"/>
<path class="mg" d="M279.2 899.7 279.2 909.5 269.4 904.6Z"/>
<path class="mg" d="M413.2 891.8 413.2 901.6 403.4 896.7Z"/>
<path class="mg" d="M261.5 885.0 261.5 894.8 251.7 889.9Z"/>
<path class="mg" d="M383.4 882.1 383.4 891.9 373.6 887.0Z"/>
<path class="mg" d="M343.5 882.1 343.5 891.9 333.7 887.0Z"/>
<path class="mg" d="M274.8 878.5 274.8 888.3 265.0 883.4Z"/>
<path class="mg" d="M306.9 879.3 306.9 889.0 297.1 884.1Z"/>
<path class="mg" d="M344.1 879.3 344.1 889.0 334.3 884.1Z"/>
<path class="mg" d="M382.7 879.3 382.7 889.0 373.0 884.1Z"/>
<path class="mg" d="M272.6 861.8 272.6 871.5 262.9 866.6Z"/>
<path class="mg" d="M287.2 861.8 287.2 871.5 277.4 866.6Z"/>
<path class="mg" d="M330.2 864.0 330.2 873.7 320.5 868.8Z"/>
<path class="mg" d="M340.4 863.2 340.4 873.0 330.7 868.1Z"/>
<path class="mg" d="M432.3 939.8 432.3 949.5 422.5 944.7Z"/>
<path class="mg" d="M475.3 939.8 475.3 949.5 465.6 944.7Z"/>
<path class="mg" d="M414.8 922.0 414.8 931.8 405.0 926.9Z"/>
<path class="mg" d="M424.3 909.5 424.3 919.2 414.5 914.3Z"/>
<path class="mg" d="M432.3 909.5 432.3 919.2 422.5 914.3Z"/>
<path class="mg" d="M414.1 891.8 414.1 901.6 404.3 896.7Z"/>
<path class="mg" d="M438.9 885.0 438.9 894.7 429.1 889.8Z"/>
<path class="mg" d="M512.5 878.5 512.5 888.3 502.8 883.4Z"/>
<path class="mg" d="M451.3 873.4 451.3 883.2 441.5 878.3Z"/>
<path class="mg" d="M462.9 869.8 462.9 879.5 453.2 874.7Z"/>
<path class="mg" d="M464.4 872.7 464.4 882.5 454.6 877.6Z"/>
<path class="mg" d="M436.7 861.8 436.7 871.5 426.9 866.6Z"/>
<path class="mg" d="M540.9 858.1 540.9 867.9 531.2 863.0Z"/>
<path class="my" d="M75.5 779.2 75.5 788.9 85.2 784.0Z"/>
<path class="my" d="M75.5 806.9 75.5 816.6 85.2 811.8Z"/>
<path class="my" d="M75.5 811.3 75.5 821.0 85.2 816.1Z"/>
<path class="my" d="M75.5 817.1 75.5 826.8 85.2 822.0Z"/>
<path class="my" d="M75.5 821.5 75.5 831.2 85.2 826.3Z"/>
<path class="my" d="M75.5 827.3 75.5 837.0 85.2 832.2Z"/>
<path class="my" d="M75.5 833.1 75.5 842.9 85.2 838.0Z"/>
<path class="my" d="M75.5 839.0 75.5 848.7 85.2 843.8Z"/>
<path class="my" d="M75.5 844.8 75.5 854.5 85.2 849.7Z"/>
<path class="my" d="M75.5 855.0 75.5 864.8 85.2 859.9Z"/>
<path class="my" d="M111.6 820.0 111.6 829.8 121.4 824.9Z"/>
<path class="my" d="M111.6 827.3 111.6 837.0 121.4 832.2Z"/>
<path class="my" d="M111.6 837.5 111.6 847.3 121.4 842.4Z"/>
<path class="my" d="M111.6 846.3 111.6 856.0 121.4 851.1Z"/>
<path class="my" d="M111.6 853.5 111.6 863.3 121.4 858.4Z"/>
<path class="my" d="M132.8 823.6 132.8 833.4 142.5 828.5Z"/>
<path class="my" d="M132.8 839.0 132.8 848.7 142.5 843.8Z"/>
<path class="my" d="M132.8 847.7 132.8 857.5 142.5 852.6Z"/>
<path class="my" d="M147.6 839.7 147.6 849.4 157.4 844.6Z"/>
<path class="my" d="M168.8 839.0 168.8 848.7 178.5 843.8Z"/>
<path class="my" d="M176.8 851.4 176.8 861.1 186.6 856.2Z"/>
<path class="my" d="M184.1 810.5 184.1 820.3 193.9 815.4Z"/>
<path class="my" d="M184.1 836.0 184.1 845.8 193.9 840.9Z"/>
<path class="my" d="M189.9 844.8 189.9 854.5 199.7 849.7Z"/>
<path class="my" d="M192.1 837.5 192.1 847.3 201.9 842.4Z"/>
<path class="my" d="M195.8 837.5 195.8 847.3 205.5 842.4Z"/>
<path class="my" d="M222.8 768.2 222.8 778.0 232.5 773.1Z"/>
<path class="my" d="M222.8 780.6 222.8 790.4 232.5 785.5Z"/>
<path class="my" d="M216.2 799.6 216.2 809.3 225.9 804.5Z"/>
<path class="my" d="M203.8 855.0 203.8 864.8 213.5 859.9Z"/>
<path class="my" d="M225.7 841.9 225.7 851.6 235.4 846.8Z"/>
<path class="my" d="M302.2 775.5 302.2 785.3 312.0 780.4Z"/>
<path class="my" d="M372.2 780.6 372.2 790.4 382.0 785.5Z"/>
<path class="my" d="M362.0 794.5 362.0 804.2 371.8 799.4Z"/>
<path class="my" d="M297.9 795.9 297.9 805.7 307.6 800.8Z"/>
<path class="my" d="M257.0 798.9 257.0 808.6 266.8 803.7Z"/>
<path class="my" d="M309.5 808.3 309.5 818.1 319.3 813.2Z"/>
<path class="my" d="M273.8 806.1 273.8 815.9 283.5 811.0Z"/>
<path class="my" d="M281.1 812.0 281.1 821.7 290.8 816.9Z"/>
<path class="my" d="M368.6 824.4 368.6 834.1 378.3 829.3Z"/>
<path class="my" d="M386.1 822.9 386.1 832.7 395.8 827.8Z"/>
<path class="my" d="M394.8 821.5 394.8 831.2 404.6 826.3Z"/>
<path class="my" d="M396.3 828.8 396.3 838.5 406.0 833.6Z"/>
<path class="my" d="M383.2 830.2 383.2 840.0 392.9 835.1Z"/>
<path class="my" d="M233.0 822.9 233.0 832.7 242.7 827.8Z"/>
<path class="my" d="M235.9 830.2 235.9 840.0 245.6 835.1Z"/>
<path class="my" d="M270.9 827.3 270.9 837.0 280.6 832.2Z"/>
<path class="my" d="M288.4 822.9 288.4 832.7 298.1 827.8Z"/>
<path class="my" d="M260.7 836.8 260.7 846.5 270.4 841.6Z"/>
<path class="my" d="M269.4 836.8 269.4 846.5 279.2 841.6Z"/>
<path class="my" d="M276.7 834.6 276.7 844.3 286.5 839.5Z"/>
<path class="my" d="M286.9 841.1 286.9 850.9 296.7 846.0Z"/>
<path class="my" d="M297.1 843.3 297.1 853.1 306.9 848.2Z"/>
<path class="my" d="M313.2 841.9 313.2 851.6 322.9 846.8Z"/>
<path class="my" d="M332.1 841.9 332.1 851.6 341.9 846.8Z"/>
<path class="my" d="M354.0 841.9 354.0 851.6 363.8 846.8Z"/>
<path class="my" d="M228.6 843.3 228.6 853.1 238.3 848.2Z"/>
<path class="my" d="M304.4 850.6 304.4 860.4 314.2 855.5Z"/>
<path class="my" d="M317.5 847.7 317.5 857.5 327.3 852.6Z"/>
<path class="my" d="M335.0 849.2 335.0 858.9 344.8 854.0Z"/>
<path class="my" d="M351.1 849.2 351.1 858.9 360.8 854.0Z"/>
<path class="my" d="M426.2 786.5 426.2 796.2 435.9 791.3Z"/>
<path class="my" d="M408.0 787.9 408.0 797.7 417.7 792.8Z"/>
<path class="my" d="M504.2 798.1 504.2 807.9 514.0 803.0Z"/>
<path class="my" d="M410.9 827.3 410.9 837.0 420.6 832.2Z"/>
<path class="my" d="M403.6 824.4 403.6 834.1 413.3 829.3Z"/>
<path class="my" d="M75.4 939.7 75.4 949.4 85.2 944.6Z"/>
<path class="my" d="M75.4 922.0 75.4 931.8 85.2 926.9Z"/>
<path class="my" d="M75.4 909.5 75.4 919.2 85.2 914.3Z"/>
<path class="my" d="M132.7 909.5 132.7 919.2 142.5 914.3Z"/>
<path class="my" d="M195.5 909.5 195.5 919.2 205.2 914.3Z"/>
<path class="my" d="M200.5 899.7 200.5 909.5 210.2 904.6Z"/>
<path class="my" d="M132.7 885.1 132.7 894.8 142.5 889.9Z"/>
<path class="my" d="M111.6 879.2 111.6 889.0 121.3 884.1Z"/>
<path class="my" d="M132.7 879.2 132.7 889.0 142.5 884.1Z"/>
<path class="my" d="M216.6 879.2 216.6 889.0 226.4 884.1Z"/>
<path class="my" d="M75.4 869.5 75.4 879.2 85.2 874.4Z"/>
<path class="my" d="M168.9 869.5 168.9 879.2 178.6 874.4Z"/>
<path class="my" d="M190.0 865.3 190.0 875.1 199.8 870.2Z"/>
<path class="my" d="M75.4 861.5 75.4 871.3 85.2 866.4Z"/>
<path class="my" d="M75.4 865.3 75.4 875.1 85.2 870.2Z"/>
<path class="my" d="M75.4 858.1 75.4 867.8 85.2 862.9Z"/>
<path class="my" d="M255.9 909.4 255.9 919.2 265.7 914.3Z"/>
<path class="my" d="M355.1 909.4 355.1 919.2 364.9 914.3Z"/>
<path class="my" d="M411.8 969.9 411.8 979.7 421.6 974.8Z"/>
<path class="my" d="M283.3 899.7 283.3 909.5 293.1 904.6Z"/>
<path class="my" d="M392.1 899.7 392.1 909.5 401.9 904.6Z"/>
<path class="my" d="M346.7 885.0 346.7 894.8 356.5 889.9Z"/>
<path class="my" d="M328.1 882.1 328.1 891.9 337.9 887.0Z"/>
<path class="my" d="M270.1 879.3 270.1 889.0 279.9 884.1Z"/>
<path class="my" d="M305.9 879.3 305.9 889.0 315.6 884.1Z"/>
<path class="my" d="M314.6 879.3 314.6 889.0 324.4 884.1Z"/>
<path class="my" d="M329.9 879.3 329.9 889.0 339.7 884.1Z"/>
<path class="my" d="M242.4 864.7 242.4 874.4 252.2 869.6Z"/>
<path class="my" d="M228.6 869.1 228.6 878.8 238.3 873.9Z"/>
<path class="my" d="M286.9 861.8 286.9 871.5 296.7 866.6Z"/>
<path class="my" d="M296.4 869.1 296.4 878.8 306.1 873.9Z"/>
<path class="my" d="M316.8 869.1 316.8 878.8 326.6 873.9Z"/>
<path class="my" d="M340.9 861.8 340.9 871.5 350.6 866.6Z"/>
<path class="my" d="M389.7 864.7 389.7 874.4 399.5 869.6Z"/>
<path class="my" d="M413.1 970.0 413.1 979.7 422.8 974.9Z"/>
<path class="my" d="M449.5 909.5 449.5 919.2 459.3 914.3Z"/>
<path class="my" d="M520.3 909.5 520.3 919.2 530.0 914.3Z"/>
<path class="my" d="M472.9 899.7 472.9 909.4 482.6 904.6Z"/>
<path class="my" d="M501.3 885.0 501.3 894.7 511.0 889.8Z"/>
<path class="my" d="M423.3 869.1 423.3 878.8 433.0 873.9Z"/>
</g></svg>
<svg x="676.8" y="100.4" width="522.1000000000001" height="388.70000000000005" overflow="hidden"><g transform="translate(-676.8,-100.4)">
<line x1="702.50" y1="457.10" x2="702.50" y2="494.10" stroke="#d55e00" stroke-width="1.5"/>
<line x1="702.50" y1="315.30" x2="702.50" y2="272.70" stroke="#d55e00" stroke-width="1.5"/>
<line x1="698.45" y1="272.70" x2="706.55" y2="272.70" stroke="#d55e00" stroke-width="1.5"/>
<rect x="694.70" y="315.30" width="15.6" height="141.80" fill="#f9dbc4" stroke="#d55e00" stroke-width="1.5"/>
<line x1="694.70" y1="376.80" x2="710.30" y2="376.80" stroke="#000" stroke-width="1.6"/>
<circle class="oc" cx="702.5" cy="186.3" r="4.2"/>
<circle class="oc" cx="702.5" cy="187.5" r="4.2"/>
<circle class="oc" cx="702.5" cy="189.0" r="4.2"/>
<circle class="oc" cx="702.5" cy="190.5" r="4.2"/>
<circle class="oc" cx="702.5" cy="192.5" r="4.2"/>
<circle class="oc" cx="702.5" cy="209.2" r="4.2"/>
<circle class="oc" cx="702.5" cy="217.6" r="4.2"/>
<circle class="oc" cx="702.5" cy="224.6" r="4.2"/>
<circle class="oc" cx="702.5" cy="225.7" r="4.2"/>
<circle class="oc" cx="702.5" cy="226.8" r="4.2"/>
<circle class="oc" cx="702.5" cy="227.9" r="4.2"/>
<circle class="oc" cx="702.5" cy="229.0" r="4.2"/>
<circle class="oc" cx="702.5" cy="230.1" r="4.2"/>
<circle class="oc" cx="702.5" cy="231.2" r="4.2"/>
<circle class="oc" cx="702.5" cy="232.3" r="4.2"/>
<circle class="oc" cx="702.5" cy="233.4" r="4.2"/>
<circle class="oc" cx="702.5" cy="234.5" r="4.2"/>
<circle class="oc" cx="702.5" cy="235.6" r="4.2"/>
<circle class="oc" cx="702.5" cy="236.7" r="4.2"/>
<circle class="oc" cx="702.5" cy="237.8" r="4.2"/>
<circle class="oc" cx="702.5" cy="238.9" r="4.2"/>
<circle class="oc" cx="702.5" cy="240.0" r="4.2"/>
<circle class="oc" cx="702.5" cy="241.1" r="4.2"/>
<circle class="oc" cx="702.5" cy="242.2" r="4.2"/>
<circle class="oc" cx="702.5" cy="243.3" r="4.2"/>
<circle class="oc" cx="702.5" cy="244.4" r="4.2"/>
<circle class="oc" cx="702.5" cy="245.5" r="4.2"/>
<circle class="oc" cx="702.5" cy="246.6" r="4.2"/>
<circle class="oc" cx="702.5" cy="247.7" r="4.2"/>
<circle class="oc" cx="702.5" cy="248.8" r="4.2"/>
<circle class="oc" cx="702.5" cy="249.9" r="4.2"/>
<circle class="oc" cx="702.5" cy="251.0" r="4.2"/>
<circle class="oc" cx="702.5" cy="252.1" r="4.2"/>
<circle class="oc" cx="702.5" cy="253.2" r="4.2"/>
<circle class="oc" cx="702.5" cy="254.3" r="4.2"/>
<circle class="oc" cx="702.5" cy="255.4" r="4.2"/>
<circle class="oc" cx="702.5" cy="256.5" r="4.2"/>
<circle class="oc" cx="702.5" cy="257.6" r="4.2"/>
<circle class="oc" cx="702.5" cy="258.7" r="4.2"/>
<circle class="oc" cx="702.5" cy="259.8" r="4.2"/>
<circle class="oc" cx="702.5" cy="260.9" r="4.2"/>
<circle class="oc" cx="702.5" cy="262.0" r="4.2"/>
<circle class="oc" cx="702.5" cy="263.1" r="4.2"/>
<circle class="oc" cx="702.5" cy="264.2" r="4.2"/>
<circle class="oc" cx="702.5" cy="265.3" r="4.2"/>
<circle class="oc" cx="702.5" cy="266.4" r="4.2"/>
<circle class="oc" cx="702.5" cy="267.5" r="4.2"/>
<circle class="oc" cx="702.5" cy="268.6" r="4.2"/>
<circle class="oc" cx="702.5" cy="269.7" r="4.2"/>
<line x1="722.95" y1="374.30" x2="722.95" y2="494.10" stroke="#0173b2" stroke-width="1.5"/>
<line x1="722.95" y1="307.00" x2="722.95" y2="279.00" stroke="#0173b2" stroke-width="1.5"/>
<line x1="718.90" y1="279.00" x2="727.00" y2="279.00" stroke="#0173b2" stroke-width="1.5"/>
<rect x="715.15" y="307.00" width="15.6" height="67.30" fill="#d3dcf1" stroke="#0173b2" stroke-width="1.5"/>
<line x1="715.15" y1="317.80" x2="730.75" y2="317.80" stroke="#000" stroke-width="1.6"/>
<circle class="oc" cx="723.0" cy="246.2" r="4.2"/>
<line x1="743.45" y1="471.60" x2="743.45" y2="494.10" stroke="#029e73" stroke-width="1.5"/>
<line x1="743.45" y1="274.80" x2="743.45" y2="230.20" stroke="#029e73" stroke-width="1.5"/>
<line x1="739.40" y1="230.20" x2="747.50" y2="230.20" stroke="#029e73" stroke-width="1.5"/>
<rect x="735.65" y="274.80" width="15.6" height="196.80" fill="#d8efe1" stroke="#029e73" stroke-width="1.5"/>
<line x1="735.65" y1="351.70" x2="751.25" y2="351.70" stroke="#000" stroke-width="1.6"/>
<circle class="oc" cx="743.5" cy="214.4" r="4.2"/>
<circle class="oc" cx="743.5" cy="228.1" r="4.2"/>
<line x1="763.90" y1="416.70" x2="763.90" y2="494.10" stroke="#ece133" stroke-width="1.5"/>
<line x1="763.90" y1="299.70" x2="763.90" y2="261.10" stroke="#ece133" stroke-width="1.5"/>
<line x1="759.85" y1="261.10" x2="767.95" y2="261.10" stroke="#ece133" stroke-width="1.5"/>
<rect x="756.10" y="299.70" width="15.6" height="117.00" fill="#fdf8dc" stroke="#ece133" stroke-width="1.5"/>
<line x1="756.10" y1="352.50" x2="771.70" y2="352.50" stroke="#000" stroke-width="1.6"/>
<circle class="oc" cx="763.9" cy="168.8" r="4.2"/>
<circle class="oc" cx="763.9" cy="177.9" r="4.2"/>
<circle class="oc" cx="763.9" cy="225.3" r="4.2"/>
<circle class="oc" cx="763.9" cy="252.5" r="4.2"/>
<line x1="907.25" y1="457.10" x2="907.25" y2="494.10" stroke="#d55e00" stroke-width="1.5"/>
<line x1="907.25" y1="316.10" x2="907.25" y2="277.80" stroke="#d55e00" stroke-width="1.5"/>
<line x1="903.20" y1="277.80" x2="911.30" y2="277.80" stroke="#d55e00" stroke-width="1.5"/>
<rect x="899.45" y="316.10" width="15.6" height="141.00" fill="#f9dbc4" stroke="#d55e00" stroke-width="1.5"/>
<line x1="899.45" y1="379.20" x2="915.05" y2="379.20" stroke="#000" stroke-width="1.6"/>
<circle class="oc" cx="907.2" cy="165.8" r="4.2"/>
<circle class="oc" cx="907.2" cy="216.9" r="4.2"/>
<circle class="oc" cx="907.2" cy="221.5" r="4.2"/>
<circle class="oc" cx="907.2" cy="223.4" r="4.2"/>
<circle class="oc" cx="907.2" cy="241.0" r="4.2"/>
<circle class="oc" cx="907.2" cy="245.7" r="4.2"/>
<circle class="oc" cx="907.2" cy="255.9" r="4.2"/>
<circle class="oc" cx="907.2" cy="258.7" r="4.2"/>
<circle class="oc" cx="907.2" cy="259.6" r="4.2"/>
<line x1="927.70" y1="388.10" x2="927.70" y2="494.10" stroke="#0173b2" stroke-width="1.5"/>
<line x1="927.70" y1="263.00" x2="927.70" y2="220.60" stroke="#0173b2" stroke-width="1.5"/>
<line x1="923.65" y1="220.60" x2="931.75" y2="220.60" stroke="#0173b2" stroke-width="1.5"/>
<rect x="919.90" y="263.00" width="15.6" height="125.10" fill="#d3dcf1" stroke="#0173b2" stroke-width="1.5"/>
<line x1="919.90" y1="324.30" x2="935.50" y2="324.30" stroke="#000" stroke-width="1.6"/>
<circle class="oc" cx="927.7" cy="123.4" r="4.2"/>
<circle class="oc" cx="927.7" cy="136.0" r="4.2"/>
<circle class="oc" cx="927.7" cy="144.0" r="4.2"/>
<circle class="oc" cx="927.7" cy="182.5" r="4.2"/>
<circle class="oc" cx="927.7" cy="185.3" r="4.2"/>
<circle class="oc" cx="927.7" cy="190.0" r="4.2"/>
<circle class="oc" cx="927.7" cy="195.5" r="4.2"/>
<circle class="oc" cx="927.7" cy="198.3" r="4.2"/>
<circle class="oc" cx="927.7" cy="208.5" r="4.2"/>
<circle class="oc" cx="927.7" cy="211.3" r="4.2"/>
<circle class="oc" cx="927.7" cy="214.0" r="4.2"/>
<circle class="oc" cx="927.7" cy="216.9" r="4.2"/>
<circle class="oc" cx="927.7" cy="219.7" r="4.2"/>
<line x1="948.20" y1="415.20" x2="948.20" y2="494.10" stroke="#029e73" stroke-width="1.5"/>
<line x1="948.20" y1="279.70" x2="948.20" y2="243.80" stroke="#029e73" stroke-width="1.5"/>
<line x1="944.15" y1="243.80" x2="952.25" y2="243.80" stroke="#029e73" stroke-width="1.5"/>
<rect x="940.40" y="279.70" width="15.6" height="135.50" fill="#d8efe1" stroke="#029e73" stroke-width="1.5"/>
<line x1="940.40" y1="309.40" x2="956.00" y2="309.40" stroke="#000" stroke-width="1.6"/>
<circle class="oc" cx="948.2" cy="191.2" r="4.2"/>
<circle class="oc" cx="948.2" cy="225.5" r="4.2"/>
<circle class="oc" cx="948.2" cy="226.5" r="4.2"/>
<line x1="968.65" y1="437.10" x2="968.65" y2="494.10" stroke="#ece133" stroke-width="1.5"/>
<line x1="968.65" y1="309.30" x2="968.65" y2="267.60" stroke="#ece133" stroke-width="1.5"/>
<line x1="964.60" y1="267.60" x2="972.70" y2="267.60" stroke="#ece133" stroke-width="1.5"/>
<rect x="960.85" y="309.30" width="15.6" height="127.80" fill="#fdf8dc" stroke="#ece133" stroke-width="1.5"/>
<line x1="960.85" y1="367.50" x2="976.45" y2="367.50" stroke="#000" stroke-width="1.6"/>
<circle class="oc" cx="968.7" cy="197.7" r="4.2"/>
<circle class="oc" cx="968.7" cy="215.4" r="4.2"/>
<circle class="oc" cx="968.7" cy="228.0" r="4.2"/>
<circle class="oc" cx="968.7" cy="240.1" r="4.2"/>
<circle class="oc" cx="968.7" cy="242.9" r="4.2"/>
<circle class="oc" cx="968.7" cy="252.2" r="4.2"/>
<circle class="oc" cx="968.7" cy="264.3" r="4.2"/>
<line x1="1132.45" y1="369.60" x2="1132.45" y2="494.10" stroke="#0173b2" stroke-width="1.5"/>
<line x1="1132.45" y1="254.80" x2="1132.45" y2="218.00" stroke="#0173b2" stroke-width="1.5"/>
<line x1="1128.40" y1="218.00" x2="1136.50" y2="218.00" stroke="#0173b2" stroke-width="1.5"/>
<rect x="1124.65" y="254.80" width="15.6" height="114.80" fill="#d3dcf1" stroke="#0173b2" stroke-width="1.5"/>
<line x1="1124.65" y1="302.00" x2="1140.25" y2="302.00" stroke="#000" stroke-width="1.6"/>
<circle class="oc" cx="1132.5" cy="118.0" r="4.2"/>
<circle class="oc" cx="1132.5" cy="125.5" r="4.2"/>
<circle class="oc" cx="1132.5" cy="137.2" r="4.2"/>
<circle class="oc" cx="1132.5" cy="148.7" r="4.2"/>
<circle class="oc" cx="1132.5" cy="152.4" r="4.2"/>
<circle class="oc" cx="1132.5" cy="161.9" r="4.2"/>
<circle class="oc" cx="1132.5" cy="173.8" r="4.2"/>
<circle class="oc" cx="1132.5" cy="185.9" r="4.2"/>
<circle class="oc" cx="1132.5" cy="195.2" r="4.2"/>
<circle class="oc" cx="1132.5" cy="198.5" r="4.2"/>
<circle class="oc" cx="1132.5" cy="202.2" r="4.2"/>
<circle class="oc" cx="1132.5" cy="207.8" r="4.2"/>
<line x1="1152.95" y1="389.10" x2="1152.95" y2="494.10" stroke="#029e73" stroke-width="1.5"/>
<line x1="1152.95" y1="279.40" x2="1152.95" y2="250.60" stroke="#029e73" stroke-width="1.5"/>
<line x1="1148.90" y1="250.60" x2="1157.00" y2="250.60" stroke="#029e73" stroke-width="1.5"/>
<rect x="1145.15" y="279.40" width="15.6" height="109.70" fill="#d8efe1" stroke="#029e73" stroke-width="1.5"/>
<line x1="1145.15" y1="354.80" x2="1160.75" y2="354.80" stroke="#000" stroke-width="1.6"/>
<line x1="1165.60" y1="445.80" x2="1181.20" y2="445.80" stroke="#000" stroke-width="1.6"/>
</g></svg>
<svg x="676.8" y="605.6" width="522.1000000000001" height="388.29999999999995" overflow="hidden"><g transform="translate(-676.8,-605.6)">
<line x1="702.50" y1="976.80" x2="702.50" y2="1000.00" stroke="#d55e00" stroke-width="1.5"/>
<line x1="702.50" y1="778.80" x2="702.50" y2="744.50" stroke="#d55e00" stroke-width="1.5"/>
<line x1="698.45" y1="744.50" x2="706.55" y2="744.50" stroke="#d55e00" stroke-width="1.5"/>
<rect x="694.70" y="778.80" width="15.6" height="198.00" fill="#f9dbc4" stroke="#d55e00" stroke-width="1.5"/>
<line x1="694.70" y1="857.50" x2="710.30" y2="857.50" stroke="#000" stroke-width="1.6"/>
<circle class="oc" cx="702.5" cy="659.3" r="4.2"/>
<circle class="oc" cx="702.5" cy="669.5" r="4.2"/>
<circle class="oc" cx="702.5" cy="674.6" r="4.2"/>
<circle class="oc" cx="702.5" cy="680.7" r="4.2"/>
<circle class="oc" cx="702.5" cy="682.5" r="4.2"/>
<circle class="oc" cx="702.5" cy="684.0" r="4.2"/>
<circle class="oc" cx="702.5" cy="685.0" r="4.2"/>
<circle class="oc" cx="702.5" cy="686.0" r="4.2"/>
<circle class="oc" cx="702.5" cy="687.0" r="4.2"/>
<circle class="oc" cx="702.5" cy="688.0" r="4.2"/>
<circle class="oc" cx="702.5" cy="689.0" r="4.2"/>
<circle class="oc" cx="702.5" cy="690.0" r="4.2"/>
<circle class="oc" cx="702.5" cy="691.0" r="4.2"/>
<circle class="oc" cx="702.5" cy="692.0" r="4.2"/>
<circle class="oc" cx="702.5" cy="693.0" r="4.2"/>
<circle class="oc" cx="702.5" cy="694.0" r="4.2"/>
<circle class="oc" cx="702.5" cy="695.0" r="4.2"/>
<circle class="oc" cx="702.5" cy="696.0" r="4.2"/>
<circle class="oc" cx="702.5" cy="697.0" r="4.2"/>
<circle class="oc" cx="702.5" cy="698.0" r="4.2"/>
<circle class="oc" cx="702.5" cy="699.0" r="4.2"/>
<circle class="oc" cx="702.5" cy="700.0" r="4.2"/>
<circle class="oc" cx="702.5" cy="701.0" r="4.2"/>
<circle class="oc" cx="702.5" cy="702.0" r="4.2"/>
<circle class="oc" cx="702.5" cy="703.0" r="4.2"/>
<circle class="oc" cx="702.5" cy="704.0" r="4.2"/>
<circle class="oc" cx="702.5" cy="705.0" r="4.2"/>
<circle class="oc" cx="702.5" cy="706.0" r="4.2"/>
<circle class="oc" cx="702.5" cy="707.0" r="4.2"/>
<circle class="oc" cx="702.5" cy="708.0" r="4.2"/>
<circle class="oc" cx="702.5" cy="709.0" r="4.2"/>
<circle class="oc" cx="702.5" cy="710.0" r="4.2"/>
<circle class="oc" cx="702.5" cy="711.0" r="4.2"/>
<circle class="oc" cx="702.5" cy="712.0" r="4.2"/>
<circle class="oc" cx="702.5" cy="713.0" r="4.2"/>
<circle class="oc" cx="702.5" cy="714.0" r="4.2"/>
<circle class="oc" cx="702.5" cy="715.0" r="4.2"/>
<circle class="oc" cx="702.5" cy="716.0" r="4.2"/>
<circle class="oc" cx="702.5" cy="717.0" r="4.2"/>
<circle class="oc" cx="702.5" cy="718.0" r="4.2"/>
<circle class="oc" cx="702.5" cy="719.0" r="4.2"/>
<circle class="oc" cx="702.5" cy="720.0" r="4.2"/>
<circle class="oc" cx="702.5" cy="721.0" r="4.2"/>
<circle class="oc" cx="702.5" cy="722.0" r="4.2"/>
<circle class="oc" cx="702.5" cy="723.0" r="4.2"/>
<circle class="oc" cx="702.5" cy="724.0" r="4.2"/>
<circle class="oc" cx="702.5" cy="725.0" r="4.2"/>
<circle class="oc" cx="702.5" cy="726.0" r="4.2"/>
<circle class="oc" cx="702.5" cy="727.0" r="4.2"/>
<circle class="oc" cx="702.5" cy="728.0" r="4.2"/>
<circle class="oc" cx="702.5" cy="729.0" r="4.2"/>
<circle class="oc" cx="702.5" cy="730.0" r="4.2"/>
<circle class="oc" cx="702.5" cy="731.0" r="4.2"/>
<circle class="oc" cx="702.5" cy="732.0" r="4.2"/>
<circle class="oc" cx="702.5" cy="733.0" r="4.2"/>
<circle class="oc" cx="702.5" cy="734.0" r="4.2"/>
<circle class="oc" cx="702.5" cy="735.0" r="4.2"/>
<circle class="oc" cx="702.5" cy="736.0" r="4.2"/>
<circle class="oc" cx="702.5" cy="737.0" r="4.2"/>
<circle class="oc" cx="702.5" cy="738.0" r="4.2"/>
<circle class="oc" cx="702.5" cy="739.0" r="4.2"/>
<circle class="oc" cx="702.5" cy="740.0" r="4.2"/>
<circle class="oc" cx="702.5" cy="741.0" r="4.2"/>
<circle class="oc" cx="702.5" cy="742.0" r="4.2"/>
<line x1="722.95" y1="934.00" x2="722.95" y2="998.90" stroke="#0173b2" stroke-width="1.5"/>
<line x1="722.95" y1="802.10" x2="722.95" y2="768.80" stroke="#0173b2" stroke-width="1.5"/>
<line x1="718.90" y1="768.80" x2="727.00" y2="768.80" stroke="#0173b2" stroke-width="1.5"/>
<rect x="715.15" y="802.10" width="15.6" height="131.90" fill="#d3dcf1" stroke="#0173b2" stroke-width="1.5"/>
<line x1="715.15" y1="814.60" x2="730.75" y2="814.60" stroke="#000" stroke-width="1.6"/>
<circle class="oc" cx="723.0" cy="753.9" r="4.2"/>
<line x1="743.45" y1="882.70" x2="743.45" y2="998.90" stroke="#029e73" stroke-width="1.5"/>
<line x1="743.45" y1="732.50" x2="743.45" y2="704.50" stroke="#029e73" stroke-width="1.5"/>
<line x1="739.40" y1="704.50" x2="747.50" y2="704.50" stroke="#029e73" stroke-width="1.5"/>
<rect x="735.65" y="732.50" width="15.6" height="150.20" fill="#d8efe1" stroke="#029e73" stroke-width="1.5"/>
<line x1="735.65" y1="830.40" x2="751.25" y2="830.40" stroke="#000" stroke-width="1.6"/>
<circle class="oc" cx="743.5" cy="659.1" r="4.2"/>
<circle class="oc" cx="743.5" cy="686.1" r="4.2"/>
<circle class="oc" cx="743.5" cy="694.8" r="4.2"/>
<line x1="763.90" y1="954.90" x2="763.90" y2="998.90" stroke="#ece133" stroke-width="1.5"/>
<line x1="763.90" y1="772.90" x2="763.90" y2="740.70" stroke="#ece133" stroke-width="1.5"/>
<line x1="759.85" y1="740.70" x2="767.95" y2="740.70" stroke="#ece133" stroke-width="1.5"/>
<rect x="756.10" y="772.90" width="15.6" height="182.00" fill="#fdf8dc" stroke="#ece133" stroke-width="1.5"/>
<line x1="756.10" y1="853.40" x2="771.70" y2="853.40" stroke="#000" stroke-width="1.6"/>
<circle class="oc" cx="763.9" cy="645.2" r="4.2"/>
<circle class="oc" cx="763.9" cy="659.5" r="4.2"/>
<circle class="oc" cx="763.9" cy="680.5" r="4.2"/>
<circle class="oc" cx="763.9" cy="698.0" r="4.2"/>
<circle class="oc" cx="763.9" cy="725.5" r="4.2"/>
<line x1="907.25" y1="976.80" x2="907.25" y2="998.90" stroke="#d55e00" stroke-width="1.5"/>
<line x1="907.25" y1="778.80" x2="907.25" y2="747.40" stroke="#d55e00" stroke-width="1.5"/>
<line x1="903.20" y1="747.40" x2="911.30" y2="747.40" stroke="#d55e00" stroke-width="1.5"/>
<rect x="899.45" y="778.80" width="15.6" height="198.00" fill="#f9dbc4" stroke="#d55e00" stroke-width="1.5"/>
<line x1="899.45" y1="860.30" x2="915.05" y2="860.30" stroke="#000" stroke-width="1.6"/>
<circle class="oc" cx="907.2" cy="684.6" r="4.2"/>
<circle class="oc" cx="907.2" cy="687.4" r="4.2"/>
<circle class="oc" cx="907.2" cy="689.2" r="4.2"/>
<circle class="oc" cx="907.2" cy="707.8" r="4.2"/>
<circle class="oc" cx="907.2" cy="711.5" r="4.2"/>
<circle class="oc" cx="907.2" cy="714.3" r="4.2"/>
<circle class="oc" cx="907.2" cy="738.5" r="4.2"/>
<line x1="927.70" y1="976.80" x2="927.70" y2="998.90" stroke="#0173b2" stroke-width="1.5"/>
<line x1="927.70" y1="770.60" x2="927.70" y2="743.70" stroke="#0173b2" stroke-width="1.5"/>
<line x1="923.65" y1="743.70" x2="931.75" y2="743.70" stroke="#0173b2" stroke-width="1.5"/>
<rect x="919.90" y="770.60" width="15.6" height="206.20" fill="#d3dcf1" stroke="#0173b2" stroke-width="1.5"/>
<line x1="919.90" y1="848.00" x2="935.50" y2="848.00" stroke="#000" stroke-width="1.6"/>
<circle class="oc" cx="927.7" cy="623.2" r="4.2"/>
<circle class="oc" cx="927.7" cy="648.3" r="4.2"/>
<circle class="oc" cx="927.7" cy="657.6" r="4.2"/>
<circle class="oc" cx="927.7" cy="665.6" r="4.2"/>
<circle class="oc" cx="927.7" cy="670.0" r="4.2"/>
<circle class="oc" cx="927.7" cy="672.0" r="4.2"/>
<circle class="oc" cx="927.7" cy="674.0" r="4.2"/>
<circle class="oc" cx="927.7" cy="676.0" r="4.2"/>
<circle class="oc" cx="927.7" cy="678.0" r="4.2"/>
<circle class="oc" cx="927.7" cy="680.0" r="4.2"/>
<circle class="oc" cx="927.7" cy="688.6" r="4.2"/>
<circle class="oc" cx="927.7" cy="697.0" r="4.2"/>
<circle class="oc" cx="927.7" cy="699.0" r="4.2"/>
<circle class="oc" cx="927.7" cy="701.0" r="4.2"/>
<circle class="oc" cx="927.7" cy="703.5" r="4.2"/>
<circle class="oc" cx="927.7" cy="708.6" r="4.2"/>
<circle class="oc" cx="927.7" cy="710.2" r="4.2"/>
<circle class="oc" cx="927.7" cy="711.8" r="4.2"/>
<circle class="oc" cx="927.7" cy="713.4" r="4.2"/>
<circle class="oc" cx="927.7" cy="715.0" r="4.2"/>
<circle class="oc" cx="927.7" cy="716.6" r="4.2"/>
<circle class="oc" cx="927.7" cy="718.2" r="4.2"/>
<circle class="oc" cx="927.7" cy="719.8" r="4.2"/>
<circle class="oc" cx="927.7" cy="721.4" r="4.2"/>
<circle class="oc" cx="927.7" cy="723.0" r="4.2"/>
<circle class="oc" cx="927.7" cy="724.6" r="4.2"/>
<circle class="oc" cx="927.7" cy="726.2" r="4.2"/>
<circle class="oc" cx="927.7" cy="727.8" r="4.2"/>
<circle class="oc" cx="927.7" cy="729.4" r="4.2"/>
<circle class="oc" cx="927.7" cy="731.0" r="4.2"/>
<circle class="oc" cx="927.7" cy="732.6" r="4.2"/>
<circle class="oc" cx="927.7" cy="734.2" r="4.2"/>
<circle class="oc" cx="927.7" cy="735.8" r="4.2"/>
<line x1="948.20" y1="893.40" x2="948.20" y2="998.90" stroke="#029e73" stroke-width="1.5"/>
<line x1="948.20" y1="753.90" x2="948.20" y2="721.70" stroke="#029e73" stroke-width="1.5"/>
<line x1="944.15" y1="721.70" x2="952.25" y2="721.70" stroke="#029e73" stroke-width="1.5"/>
<rect x="940.40" y="753.90" width="15.6" height="139.50" fill="#d8efe1" stroke="#029e73" stroke-width="1.5"/>
<line x1="940.40" y1="797.60" x2="956.00" y2="797.60" stroke="#000" stroke-width="1.6"/>
<circle class="oc" cx="948.2" cy="639.6" r="4.2"/>
<circle class="oc" cx="948.2" cy="696.7" r="4.2"/>
<circle class="oc" cx="948.2" cy="710.6" r="4.2"/>
<circle class="oc" cx="948.2" cy="714.3" r="4.2"/>
<line x1="968.65" y1="1000.00" x2="968.65" y2="998.90" stroke="#ece133" stroke-width="1.5"/>
<line x1="968.65" y1="811.90" x2="968.65" y2="779.00" stroke="#ece133" stroke-width="1.5"/>
<line x1="964.60" y1="779.00" x2="972.70" y2="779.00" stroke="#ece133" stroke-width="1.5"/>
<rect x="960.85" y="811.90" width="15.6" height="188.10" fill="#fdf8dc" stroke="#ece133" stroke-width="1.5"/>
<line x1="960.85" y1="907.10" x2="976.45" y2="907.10" stroke="#000" stroke-width="1.6"/>
<circle class="oc" cx="968.7" cy="657.1" r="4.2"/>
<circle class="oc" cx="968.7" cy="715.2" r="4.2"/>
<circle class="oc" cx="968.7" cy="718.0" r="4.2"/>
<circle class="oc" cx="968.7" cy="720.8" r="4.2"/>
<circle class="oc" cx="968.7" cy="723.5" r="4.2"/>
<circle class="oc" cx="968.7" cy="726.4" r="4.2"/>
<circle class="oc" cx="968.7" cy="729.0" r="4.2"/>
<circle class="oc" cx="968.7" cy="732.0" r="4.2"/>
<circle class="oc" cx="968.7" cy="735.0" r="4.2"/>
<circle class="oc" cx="968.7" cy="737.5" r="4.2"/>
<circle class="oc" cx="968.7" cy="740.0" r="4.2"/>
<circle class="oc" cx="968.7" cy="744.0" r="4.2"/>
<circle class="oc" cx="968.7" cy="747.0" r="4.2"/>
<circle class="oc" cx="968.7" cy="754.3" r="4.2"/>
<circle class="oc" cx="968.7" cy="757.0" r="4.2"/>
<circle class="oc" cx="968.7" cy="759.0" r="4.2"/>
<circle class="oc" cx="968.7" cy="761.0" r="4.2"/>
<circle class="oc" cx="968.7" cy="763.6" r="4.2"/>
<circle class="oc" cx="968.7" cy="767.0" r="4.2"/>
<circle class="oc" cx="968.7" cy="770.1" r="4.2"/>
<line x1="1132.45" y1="934.00" x2="1132.45" y2="998.90" stroke="#0173b2" stroke-width="1.5"/>
<line x1="1132.45" y1="762.80" x2="1132.45" y2="728.30" stroke="#0173b2" stroke-width="1.5"/>
<line x1="1128.40" y1="728.30" x2="1136.50" y2="728.30" stroke="#0173b2" stroke-width="1.5"/>
<rect x="1124.65" y="762.80" width="15.6" height="171.20" fill="#d3dcf1" stroke="#0173b2" stroke-width="1.5"/>
<line x1="1124.65" y1="825.50" x2="1140.25" y2="825.50" stroke="#000" stroke-width="1.6"/>
<circle class="oc" cx="1132.5" cy="644.6" r="4.2"/>
<circle class="oc" cx="1132.5" cy="646.5" r="4.2"/>
<circle class="oc" cx="1132.5" cy="648.3" r="4.2"/>
<circle class="oc" cx="1132.5" cy="651.0" r="4.2"/>
<circle class="oc" cx="1132.5" cy="654.8" r="4.2"/>
<circle class="oc" cx="1132.5" cy="670.6" r="4.2"/>
<circle class="oc" cx="1132.5" cy="674.3" r="4.2"/>
<circle class="oc" cx="1132.5" cy="676.0" r="4.2"/>
<circle class="oc" cx="1132.5" cy="678.0" r="4.2"/>
<circle class="oc" cx="1132.5" cy="681.0" r="4.2"/>
<circle class="oc" cx="1132.5" cy="683.0" r="4.2"/>
<circle class="oc" cx="1132.5" cy="685.5" r="4.2"/>
<circle class="oc" cx="1132.5" cy="688.0" r="4.2"/>
<circle class="oc" cx="1132.5" cy="691.1" r="4.2"/>
<circle class="oc" cx="1132.5" cy="693.0" r="4.2"/>
<circle class="oc" cx="1132.5" cy="696.7" r="4.2"/>
<circle class="oc" cx="1132.5" cy="699.0" r="4.2"/>
<circle class="oc" cx="1132.5" cy="702.2" r="4.2"/>
<circle class="oc" cx="1132.5" cy="705.0" r="4.2"/>
<circle class="oc" cx="1132.5" cy="707.8" r="4.2"/>
<circle class="oc" cx="1132.5" cy="710.0" r="4.2"/>
<circle class="oc" cx="1132.5" cy="713.4" r="4.2"/>
<circle class="oc" cx="1132.5" cy="715.0" r="4.2"/>
<circle class="oc" cx="1132.5" cy="717.1" r="4.2"/>
<circle class="oc" cx="1132.5" cy="719.0" r="4.2"/>
<circle class="oc" cx="1132.5" cy="720.8" r="4.2"/>
<circle class="oc" cx="1132.5" cy="722.5" r="4.2"/>
<circle class="oc" cx="1132.5" cy="724.5" r="4.2"/>
<circle class="oc" cx="1132.5" cy="726.0" r="4.2"/>
<circle class="oc" cx="1132.5" cy="727.3" r="4.2"/>
<line x1="1152.95" y1="910.40" x2="1152.95" y2="976.80" stroke="#029e73" stroke-width="1.5"/>
<line x1="1148.90" y1="976.80" x2="1157.00" y2="976.80" stroke="#029e73" stroke-width="1.5"/>
<line x1="1152.95" y1="796.80" x2="1152.95" y2="771.90" stroke="#029e73" stroke-width="1.5"/>
<line x1="1148.90" y1="771.90" x2="1157.00" y2="771.90" stroke="#029e73" stroke-width="1.5"/>
<rect x="1145.15" y="796.80" width="15.6" height="113.60" fill="#d8efe1" stroke="#029e73" stroke-width="1.5"/>
<line x1="1145.15" y1="887.00" x2="1160.75" y2="887.00" stroke="#000" stroke-width="1.6"/>
<line x1="1165.60" y1="866.70" x2="1181.20" y2="866.70" stroke="#000" stroke-width="1.6"/>
</g></svg>
<rect x="56.9" y="98.2" width="521.90" height="389.10" fill="none" stroke="#000" stroke-width="1.4"/>
<rect x="676.8" y="100.4" width="522.10" height="388.70" fill="none" stroke="#000" stroke-width="1.4"/>
<rect x="56.9" y="603.4" width="521.80" height="388.80" fill="none" stroke="#000" stroke-width="1.4"/>
<rect x="676.8" y="605.6" width="522.10" height="388.30" fill="none" stroke="#000" stroke-width="1.4"/>
<line x1="53.80" y1="485.21" x2="56.90" y2="485.21" stroke="#000" stroke-width="1.05"/>
<line x1="53.80" y1="479.39" x2="56.90" y2="479.39" stroke="#000" stroke-width="1.05"/>
<line x1="53.80" y1="474.25" x2="56.90" y2="474.25" stroke="#000" stroke-width="1.05"/>
<line x1="51.50" y1="469.65" x2="56.90" y2="469.65" stroke="#000" stroke-width="1.3"/>
<line x1="53.80" y1="439.41" x2="56.90" y2="439.41" stroke="#000" stroke-width="1.05"/>
<line x1="53.80" y1="421.71" x2="56.90" y2="421.71" stroke="#000" stroke-width="1.05"/>
<line x1="53.80" y1="409.16" x2="56.90" y2="409.16" stroke="#000" stroke-width="1.05"/>
<line x1="53.80" y1="399.42" x2="56.90" y2="399.42" stroke="#000" stroke-width="1.05"/>
<line x1="53.80" y1="391.47" x2="56.90" y2="391.47" stroke="#000" stroke-width="1.05"/>
<line x1="53.80" y1="384.74" x2="56.90" y2="384.74" stroke="#000" stroke-width="1.05"/>
<line x1="53.80" y1="378.92" x2="56.90" y2="378.92" stroke="#000" stroke-width="1.05"/>
<line x1="53.80" y1="373.78" x2="56.90" y2="373.78" stroke="#000" stroke-width="1.05"/>
<line x1="51.50" y1="369.18" x2="56.90" y2="369.18" stroke="#000" stroke-width="1.3"/>
<line x1="53.80" y1="338.94" x2="56.90" y2="338.94" stroke="#000" stroke-width="1.05"/>
<line x1="53.80" y1="321.24" x2="56.90" y2="321.24" stroke="#000" stroke-width="1.05"/>
<line x1="53.80" y1="308.69" x2="56.90" y2="308.69" stroke="#000" stroke-width="1.05"/>
<line x1="53.80" y1="298.95" x2="56.90" y2="298.95" stroke="#000" stroke-width="1.05"/>
<line x1="53.80" y1="291.00" x2="56.90" y2="291.00" stroke="#000" stroke-width="1.05"/>
<line x1="53.80" y1="284.27" x2="56.90" y2="284.27" stroke="#000" stroke-width="1.05"/>
<line x1="53.80" y1="278.45" x2="56.90" y2="278.45" stroke="#000" stroke-width="1.05"/>
<line x1="53.80" y1="273.31" x2="56.90" y2="273.31" stroke="#000" stroke-width="1.05"/>
<line x1="51.50" y1="268.71" x2="56.90" y2="268.71" stroke="#000" stroke-width="1.3"/>
<line x1="53.80" y1="238.47" x2="56.90" y2="238.47" stroke="#000" stroke-width="1.05"/>
<line x1="53.80" y1="220.77" x2="56.90" y2="220.77" stroke="#000" stroke-width="1.05"/>
<line x1="53.80" y1="208.22" x2="56.90" y2="208.22" stroke="#000" stroke-width="1.05"/>
<line x1="53.80" y1="198.48" x2="56.90" y2="198.48" stroke="#000" stroke-width="1.05"/>
<line x1="53.80" y1="190.53" x2="56.90" y2="190.53" stroke="#000" stroke-width="1.05"/>
<line x1="53.80" y1="183.80" x2="56.90" y2="183.80" stroke="#000" stroke-width="1.05"/>
<line x1="53.80" y1="177.98" x2="56.90" y2="177.98" stroke="#000" stroke-width="1.05"/>
<line x1="53.80" y1="172.84" x2="56.90" y2="172.84" stroke="#000" stroke-width="1.05"/>
<line x1="51.50" y1="168.24" x2="56.90" y2="168.24" stroke="#000" stroke-width="1.3"/>
<line x1="53.80" y1="138.00" x2="56.90" y2="138.00" stroke="#000" stroke-width="1.05"/>
<line x1="53.80" y1="120.30" x2="56.90" y2="120.30" stroke="#000" stroke-width="1.05"/>
<line x1="53.80" y1="107.75" x2="56.90" y2="107.75" stroke="#000" stroke-width="1.05"/>
<text x="20.30" y="474.75" font-size="14.9" textLength="18.3" lengthAdjust="spacingAndGlyphs" font-family="Liberation Sans, sans-serif">10</text>
<text x="38.90" y="469.15" font-size="10.6" font-family="Liberation Sans, sans-serif">0</text>
<text x="20.30" y="374.28" font-size="14.9" textLength="18.3" lengthAdjust="spacingAndGlyphs" font-family="Liberation Sans, sans-serif">10</text>
<text x="38.90" y="368.68" font-size="10.6" font-family="Liberation Sans, sans-serif">1</text>
<text x="20.30" y="273.81" font-size="14.9" textLength="18.3" lengthAdjust="spacingAndGlyphs" font-family="Liberation Sans, sans-serif">10</text>
<text x="38.90" y="268.21" font-size="10.6" font-family="Liberation Sans, sans-serif">2</text>
<text x="20.30" y="173.34" font-size="14.9" textLength="18.3" lengthAdjust="spacingAndGlyphs" font-family="Liberation Sans, sans-serif">10</text>
<text x="38.90" y="167.74" font-size="10.6" font-family="Liberation Sans, sans-serif">3</text>
<line x1="59.72" y1="487.30" x2="59.72" y2="490.40" stroke="#000" stroke-width="1.05"/>
<line x1="67.48" y1="487.30" x2="67.48" y2="490.40" stroke="#000" stroke-width="1.05"/>
<line x1="74.33" y1="487.30" x2="74.33" y2="490.40" stroke="#000" stroke-width="1.05"/>
<line x1="80.45" y1="487.30" x2="80.45" y2="492.70" stroke="#000" stroke-width="1.3"/>
<line x1="120.73" y1="487.30" x2="120.73" y2="490.40" stroke="#000" stroke-width="1.05"/>
<line x1="144.29" y1="487.30" x2="144.29" y2="490.40" stroke="#000" stroke-width="1.05"/>
<line x1="161.01" y1="487.30" x2="161.01" y2="490.40" stroke="#000" stroke-width="1.05"/>
<line x1="173.97" y1="487.30" x2="173.97" y2="490.40" stroke="#000" stroke-width="1.05"/>
<line x1="184.57" y1="487.30" x2="184.57" y2="490.40" stroke="#000" stroke-width="1.05"/>
<line x1="193.52" y1="487.30" x2="193.52" y2="490.40" stroke="#000" stroke-width="1.05"/>
<line x1="201.28" y1="487.30" x2="201.28" y2="490.40" stroke="#000" stroke-width="1.05"/>
<line x1="208.13" y1="487.30" x2="208.13" y2="490.40" stroke="#000" stroke-width="1.05"/>
<line x1="214.25" y1="487.30" x2="214.25" y2="492.70" stroke="#000" stroke-width="1.3"/>
<line x1="254.53" y1="487.30" x2="254.53" y2="490.40" stroke="#000" stroke-width="1.05"/>
<line x1="278.09" y1="487.30" x2="278.09" y2="490.40" stroke="#000" stroke-width="1.05"/>
<line x1="294.81" y1="487.30" x2="294.81" y2="490.40" stroke="#000" stroke-width="1.05"/>
<line x1="307.77" y1="487.30" x2="307.77" y2="490.40" stroke="#000" stroke-width="1.05"/>
<line x1="318.37" y1="487.30" x2="318.37" y2="490.40" stroke="#000" stroke-width="1.05"/>
<line x1="327.32" y1="487.30" x2="327.32" y2="490.40" stroke="#000" stroke-width="1.05"/>
<line x1="335.08" y1="487.30" x2="335.08" y2="490.40" stroke="#000" stroke-width="1.05"/>
<line x1="341.93" y1="487.30" x2="341.93" y2="490.40" stroke="#000" stroke-width="1.05"/>
<line x1="348.05" y1="487.30" x2="348.05" y2="492.70" stroke="#000" stroke-width="1.3"/>
<line x1="388.33" y1="487.30" x2="388.33" y2="490.40" stroke="#000" stroke-width="1.05"/>
<line x1="411.89" y1="487.30" x2="411.89" y2="490.40" stroke="#000" stroke-width="1.05"/>
<line x1="428.61" y1="487.30" x2="428.61" y2="490.40" stroke="#000" stroke-width="1.05"/>
<line x1="441.57" y1="487.30" x2="441.57" y2="490.40" stroke="#000" stroke-width="1.05"/>
<line x1="452.17" y1="487.30" x2="452.17" y2="490.40" stroke="#000" stroke-width="1.05"/>
<line x1="461.12" y1="487.30" x2="461.12" y2="490.40" stroke="#000" stroke-width="1.05"/>
<line x1="468.88" y1="487.30" x2="468.88" y2="490.40" stroke="#000" stroke-width="1.05"/>
<line x1="475.73" y1="487.30" x2="475.73" y2="490.40" stroke="#000" stroke-width="1.05"/>
<line x1="481.85" y1="487.30" x2="481.85" y2="492.70" stroke="#000" stroke-width="1.3"/>
<line x1="522.13" y1="487.30" x2="522.13" y2="490.40" stroke="#000" stroke-width="1.05"/>
<line x1="545.69" y1="487.30" x2="545.69" y2="490.40" stroke="#000" stroke-width="1.05"/>
<line x1="562.41" y1="487.30" x2="562.41" y2="490.40" stroke="#000" stroke-width="1.05"/>
<line x1="575.37" y1="487.30" x2="575.37" y2="490.40" stroke="#000" stroke-width="1.05"/>
<text x="68.00" y="509.40" font-size="14.9" textLength="18.3" lengthAdjust="spacingAndGlyphs" font-family="Liberation Sans, sans-serif">10</text>
<text x="86.60" y="503.80" font-size="10.6" font-family="Liberation Sans, sans-serif">0</text>
<text x="201.80" y="509.40" font-size="14.9" textLength="18.3" lengthAdjust="spacingAndGlyphs" font-family="Liberation Sans, sans-serif">10</text>
<text x="220.40" y="503.80" font-size="10.6" font-family="Liberation Sans, sans-serif">1</text>
<text x="335.60" y="509.40" font-size="14.9" textLength="18.3" lengthAdjust="spacingAndGlyphs" font-family="Liberation Sans, sans-serif">10</text>
<text x="354.20" y="503.80" font-size="10.6" font-family="Liberation Sans, sans-serif">2</text>
<text x="469.40" y="509.40" font-size="14.9" textLength="18.3" lengthAdjust="spacingAndGlyphs" font-family="Liberation Sans, sans-serif">10</text>
<text x="488.00" y="503.80" font-size="10.6" font-family="Liberation Sans, sans-serif">3</text>
<line x1="673.70" y1="471.53" x2="676.80" y2="471.53" stroke="#000" stroke-width="1.05"/>
<line x1="673.70" y1="457.16" x2="676.80" y2="457.16" stroke="#000" stroke-width="1.05"/>
<line x1="673.70" y1="446.02" x2="676.80" y2="446.02" stroke="#000" stroke-width="1.05"/>
<line x1="673.70" y1="436.91" x2="676.80" y2="436.91" stroke="#000" stroke-width="1.05"/>
<line x1="673.70" y1="429.21" x2="676.80" y2="429.21" stroke="#000" stroke-width="1.05"/>
<line x1="673.70" y1="422.54" x2="676.80" y2="422.54" stroke="#000" stroke-width="1.05"/>
<line x1="673.70" y1="416.66" x2="676.80" y2="416.66" stroke="#000" stroke-width="1.05"/>
<line x1="671.40" y1="411.40" x2="676.80" y2="411.40" stroke="#000" stroke-width="1.3"/>
<line x1="673.70" y1="376.78" x2="676.80" y2="376.78" stroke="#000" stroke-width="1.05"/>
<line x1="673.70" y1="356.53" x2="676.80" y2="356.53" stroke="#000" stroke-width="1.05"/>
<line x1="673.70" y1="342.16" x2="676.80" y2="342.16" stroke="#000" stroke-width="1.05"/>
<line x1="673.70" y1="331.02" x2="676.80" y2="331.02" stroke="#000" stroke-width="1.05"/>
<line x1="673.70" y1="321.91" x2="676.80" y2="321.91" stroke="#000" stroke-width="1.05"/>
<line x1="673.70" y1="314.21" x2="676.80" y2="314.21" stroke="#000" stroke-width="1.05"/>
<line x1="673.70" y1="307.54" x2="676.80" y2="307.54" stroke="#000" stroke-width="1.05"/>
<line x1="673.70" y1="301.66" x2="676.80" y2="301.66" stroke="#000" stroke-width="1.05"/>
<line x1="671.40" y1="296.40" x2="676.80" y2="296.40" stroke="#000" stroke-width="1.3"/>
<line x1="673.70" y1="261.78" x2="676.80" y2="261.78" stroke="#000" stroke-width="1.05"/>
<line x1="673.70" y1="241.53" x2="676.80" y2="241.53" stroke="#000" stroke-width="1.05"/>
<line x1="673.70" y1="227.16" x2="676.80" y2="227.16" stroke="#000" stroke-width="1.05"/>
<line x1="673.70" y1="216.02" x2="676.80" y2="216.02" stroke="#000" stroke-width="1.05"/>
<line x1="673.70" y1="206.91" x2="676.80" y2="206.91" stroke="#000" stroke-width="1.05"/>
<line x1="673.70" y1="199.21" x2="676.80" y2="199.21" stroke="#000" stroke-width="1.05"/>
<line x1="673.70" y1="192.54" x2="676.80" y2="192.54" stroke="#000" stroke-width="1.05"/>
<line x1="673.70" y1="186.66" x2="676.80" y2="186.66" stroke="#000" stroke-width="1.05"/>
<line x1="671.40" y1="181.40" x2="676.80" y2="181.40" stroke="#000" stroke-width="1.3"/>
<line x1="673.70" y1="146.78" x2="676.80" y2="146.78" stroke="#000" stroke-width="1.05"/>
<line x1="673.70" y1="126.53" x2="676.80" y2="126.53" stroke="#000" stroke-width="1.05"/>
<line x1="673.70" y1="112.16" x2="676.80" y2="112.16" stroke="#000" stroke-width="1.05"/>
<line x1="673.70" y1="101.02" x2="676.80" y2="101.02" stroke="#000" stroke-width="1.05"/>
<text x="640.20" y="416.50" font-size="14.9" textLength="18.3" lengthAdjust="spacingAndGlyphs" font-family="Liberation Sans, sans-serif">10</text>
<text x="658.80" y="410.90" font-size="10.6" font-family="Liberation Sans, sans-serif">1</text>
<text x="640.20" y="301.50" font-size="14.9" textLength="18.3" lengthAdjust="spacingAndGlyphs" font-family="Liberation Sans, sans-serif">10</text>
<text x="658.80" y="295.90" font-size="10.6" font-family="Liberation Sans, sans-serif">2</text>
<text x="640.20" y="186.50" font-size="14.9" textLength="18.3" lengthAdjust="spacingAndGlyphs" font-family="Liberation Sans, sans-serif">10</text>
<text x="658.80" y="180.90" font-size="10.6" font-family="Liberation Sans, sans-serif">3</text>
<line x1="53.80" y1="990.31" x2="56.90" y2="990.31" stroke="#000" stroke-width="1.05"/>
<line x1="53.80" y1="984.48" x2="56.90" y2="984.48" stroke="#000" stroke-width="1.05"/>
<line x1="53.80" y1="979.35" x2="56.90" y2="979.35" stroke="#000" stroke-width="1.05"/>
<line x1="51.50" y1="974.75" x2="56.90" y2="974.75" stroke="#000" stroke-width="1.3"/>
<line x1="53.80" y1="944.51" x2="56.90" y2="944.51" stroke="#000" stroke-width="1.05"/>
<line x1="53.80" y1="926.82" x2="56.90" y2="926.82" stroke="#000" stroke-width="1.05"/>
<line x1="53.80" y1="914.27" x2="56.90" y2="914.27" stroke="#000" stroke-width="1.05"/>
<line x1="53.80" y1="904.54" x2="56.90" y2="904.54" stroke="#000" stroke-width="1.05"/>
<line x1="53.80" y1="896.58" x2="56.90" y2="896.58" stroke="#000" stroke-width="1.05"/>
<line x1="53.80" y1="889.86" x2="56.90" y2="889.86" stroke="#000" stroke-width="1.05"/>
<line x1="53.80" y1="884.03" x2="56.90" y2="884.03" stroke="#000" stroke-width="1.05"/>
<line x1="53.80" y1="878.90" x2="56.90" y2="878.90" stroke="#000" stroke-width="1.05"/>
<line x1="51.50" y1="874.30" x2="56.90" y2="874.30" stroke="#000" stroke-width="1.3"/>
<line x1="53.80" y1="844.06" x2="56.90" y2="844.06" stroke="#000" stroke-width="1.05"/>
<line x1="53.80" y1="826.37" x2="56.90" y2="826.37" stroke="#000" stroke-width="1.05"/>
<line x1="53.80" y1="813.82" x2="56.90" y2="813.82" stroke="#000" stroke-width="1.05"/>
<line x1="53.80" y1="804.09" x2="56.90" y2="804.09" stroke="#000" stroke-width="1.05"/>
<line x1="53.80" y1="796.13" x2="56.90" y2="796.13" stroke="#000" stroke-width="1.05"/>
<line x1="53.80" y1="789.41" x2="56.90" y2="789.41" stroke="#000" stroke-width="1.05"/>
<line x1="53.80" y1="783.58" x2="56.90" y2="783.58" stroke="#000" stroke-width="1.05"/>
<line x1="53.80" y1="778.45" x2="56.90" y2="778.45" stroke="#000" stroke-width="1.05"/>
<line x1="51.50" y1="773.85" x2="56.90" y2="773.85" stroke="#000" stroke-width="1.3"/>
<line x1="53.80" y1="743.61" x2="56.90" y2="743.61" stroke="#000" stroke-width="1.05"/>
<line x1="53.80" y1="725.92" x2="56.90" y2="725.92" stroke="#000" stroke-width="1.05"/>
<line x1="53.80" y1="713.37" x2="56.90" y2="713.37" stroke="#000" stroke-width="1.05"/>
<line x1="53.80" y1="703.64" x2="56.90" y2="703.64" stroke="#000" stroke-width="1.05"/>
<line x1="53.80" y1="695.68" x2="56.90" y2="695.68" stroke="#000" stroke-width="1.05"/>
<line x1="53.80" y1="688.96" x2="56.90" y2="688.96" stroke="#000" stroke-width="1.05"/>
<line x1="53.80" y1="683.13" x2="56.90" y2="683.13" stroke="#000" stroke-width="1.05"/>
<line x1="53.80" y1="678.00" x2="56.90" y2="678.00" stroke="#000" stroke-width="1.05"/>
<line x1="51.50" y1="673.40" x2="56.90" y2="673.40" stroke="#000" stroke-width="1.3"/>
<line x1="53.80" y1="643.16" x2="56.90" y2="643.16" stroke="#000" stroke-width="1.05"/>
<line x1="53.80" y1="625.47" x2="56.90" y2="625.47" stroke="#000" stroke-width="1.05"/>
<line x1="53.80" y1="612.92" x2="56.90" y2="612.92" stroke="#000" stroke-width="1.05"/>
<text x="20.30" y="979.85" font-size="14.9" textLength="18.3" lengthAdjust="spacingAndGlyphs" font-family="Liberation Sans, sans-serif">10</text>
<text x="38.90" y="974.25" font-size="10.6" font-family="Liberation Sans, sans-serif">0</text>
<text x="20.30" y="879.40" font-size="14.9" textLength="18.3" lengthAdjust="spacingAndGlyphs" font-family="Liberation Sans, sans-serif">10</text>
<text x="38.90" y="873.80" font-size="10.6" font-family="Liberation Sans, sans-serif">1</text>
<text x="20.30" y="778.95" font-size="14.9" textLength="18.3" lengthAdjust="spacingAndGlyphs" font-family="Liberation Sans, sans-serif">10</text>
<text x="38.90" y="773.35" font-size="10.6" font-family="Liberation Sans, sans-serif">2</text>
<text x="20.30" y="678.50" font-size="14.9" textLength="18.3" lengthAdjust="spacingAndGlyphs" font-family="Liberation Sans, sans-serif">10</text>
<text x="38.90" y="672.90" font-size="10.6" font-family="Liberation Sans, sans-serif">3</text>
<line x1="61.81" y1="992.20" x2="61.81" y2="995.30" stroke="#000" stroke-width="1.05"/>
<line x1="68.77" y1="992.20" x2="68.77" y2="995.30" stroke="#000" stroke-width="1.05"/>
<line x1="74.91" y1="992.20" x2="74.91" y2="995.30" stroke="#000" stroke-width="1.05"/>
<line x1="80.40" y1="992.20" x2="80.40" y2="997.60" stroke="#000" stroke-width="1.3"/>
<line x1="116.52" y1="992.20" x2="116.52" y2="995.30" stroke="#000" stroke-width="1.05"/>
<line x1="137.65" y1="992.20" x2="137.65" y2="995.30" stroke="#000" stroke-width="1.05"/>
<line x1="152.65" y1="992.20" x2="152.65" y2="995.30" stroke="#000" stroke-width="1.05"/>
<line x1="164.28" y1="992.20" x2="164.28" y2="995.30" stroke="#000" stroke-width="1.05"/>
<line x1="173.78" y1="992.20" x2="173.78" y2="995.30" stroke="#000" stroke-width="1.05"/>
<line x1="181.81" y1="992.20" x2="181.81" y2="995.30" stroke="#000" stroke-width="1.05"/>
<line x1="188.77" y1="992.20" x2="188.77" y2="995.30" stroke="#000" stroke-width="1.05"/>
<line x1="194.91" y1="992.20" x2="194.91" y2="995.30" stroke="#000" stroke-width="1.05"/>
<line x1="200.40" y1="992.20" x2="200.40" y2="997.60" stroke="#000" stroke-width="1.3"/>
<line x1="236.52" y1="992.20" x2="236.52" y2="995.30" stroke="#000" stroke-width="1.05"/>
<line x1="257.65" y1="992.20" x2="257.65" y2="995.30" stroke="#000" stroke-width="1.05"/>
<line x1="272.65" y1="992.20" x2="272.65" y2="995.30" stroke="#000" stroke-width="1.05"/>
<line x1="284.28" y1="992.20" x2="284.28" y2="995.30" stroke="#000" stroke-width="1.05"/>
<line x1="293.78" y1="992.20" x2="293.78" y2="995.30" stroke="#000" stroke-width="1.05"/>
<line x1="301.81" y1="992.20" x2="301.81" y2="995.30" stroke="#000" stroke-width="1.05"/>
<line x1="308.77" y1="992.20" x2="308.77" y2="995.30" stroke="#000" stroke-width="1.05"/>
<line x1="314.91" y1="992.20" x2="314.91" y2="995.30" stroke="#000" stroke-width="1.05"/>
<line x1="320.40" y1="992.20" x2="320.40" y2="997.60" stroke="#000" stroke-width="1.3"/>
<line x1="356.52" y1="992.20" x2="356.52" y2="995.30" stroke="#000" stroke-width="1.05"/>
<line x1="377.65" y1="992.20" x2="377.65" y2="995.30" stroke="#000" stroke-width="1.05"/>
<line x1="392.65" y1="992.20" x2="392.65" y2="995.30" stroke="#000" stroke-width="1.05"/>
<line x1="404.28" y1="992.20" x2="404.28" y2="995.30" stroke="#000" stroke-width="1.05"/>
<line x1="413.78" y1="992.20" x2="413.78" y2="995.30" stroke="#000" stroke-width="1.05"/>
<line x1="421.81" y1="992.20" x2="421.81" y2="995.30" stroke="#000" stroke-width="1.05"/>
<line x1="428.77" y1="992.20" x2="428.77" y2="995.30" stroke="#000" stroke-width="1.05"/>
<line x1="434.91" y1="992.20" x2="434.91" y2="995.30" stroke="#000" stroke-width="1.05"/>
<line x1="440.40" y1="992.20" x2="440.40" y2="997.60" stroke="#000" stroke-width="1.3"/>
<line x1="476.52" y1="992.20" x2="476.52" y2="995.30" stroke="#000" stroke-width="1.05"/>
<line x1="497.65" y1="992.20" x2="497.65" y2="995.30" stroke="#000" stroke-width="1.05"/>
<line x1="512.65" y1="992.20" x2="512.65" y2="995.30" stroke="#000" stroke-width="1.05"/>
<line x1="524.28" y1="992.20" x2="524.28" y2="995.30" stroke="#000" stroke-width="1.05"/>
<line x1="533.78" y1="992.20" x2="533.78" y2="995.30" stroke="#000" stroke-width="1.05"/>
<line x1="541.81" y1="992.20" x2="541.81" y2="995.30" stroke="#000" stroke-width="1.05"/>
<line x1="548.77" y1="992.20" x2="548.77" y2="995.30" stroke="#000" stroke-width="1.05"/>
<line x1="554.91" y1="992.20" x2="554.91" y2="995.30" stroke="#000" stroke-width="1.05"/>
<line x1="560.40" y1="992.20" x2="560.40" y2="997.60" stroke="#000" stroke-width="1.3"/>
<text x="67.95" y="1014.30" font-size="14.9" textLength="18.3" lengthAdjust="spacingAndGlyphs" font-family="Liberation Sans, sans-serif">10</text>
<text x="86.55" y="1008.70" font-size="10.6" font-family="Liberation Sans, sans-serif">0</text>
<text x="187.95" y="1014.30" font-size="14.9" textLength="18.3" lengthAdjust="spacingAndGlyphs" font-family="Liberation Sans, sans-serif">10</text>
<text x="206.55" y="1008.70" font-size="10.6" font-family="Liberation Sans, sans-serif">1</text>
<text x="307.95" y="1014.30" font-size="14.9" textLength="18.3" lengthAdjust="spacingAndGlyphs" font-family="Liberation Sans, sans-serif">10</text>
<text x="326.55" y="1008.70" font-size="10.6" font-family="Liberation Sans, sans-serif">2</text>
<text x="427.95" y="1014.30" font-size="14.9" textLength="18.3" lengthAdjust="spacingAndGlyphs" font-family="Liberation Sans, sans-serif">10</text>
<text x="446.55" y="1008.70" font-size="10.6" font-family="Liberation Sans, sans-serif">3</text>
<text x="547.95" y="1014.30" font-size="14.9" textLength="18.3" lengthAdjust="spacingAndGlyphs" font-family="Liberation Sans, sans-serif">10</text>
<text x="566.55" y="1008.70" font-size="10.6" font-family="Liberation Sans, sans-serif">4</text>
<line x1="673.70" y1="990.54" x2="676.80" y2="990.54" stroke="#000" stroke-width="1.05"/>
<line x1="673.70" y1="985.36" x2="676.80" y2="985.36" stroke="#000" stroke-width="1.05"/>
<line x1="673.70" y1="980.79" x2="676.80" y2="980.79" stroke="#000" stroke-width="1.05"/>
<line x1="671.40" y1="976.70" x2="676.80" y2="976.70" stroke="#000" stroke-width="1.3"/>
<line x1="673.70" y1="949.81" x2="676.80" y2="949.81" stroke="#000" stroke-width="1.05"/>
<line x1="673.70" y1="934.08" x2="676.80" y2="934.08" stroke="#000" stroke-width="1.05"/>
<line x1="673.70" y1="922.92" x2="676.80" y2="922.92" stroke="#000" stroke-width="1.05"/>
<line x1="673.70" y1="914.26" x2="676.80" y2="914.26" stroke="#000" stroke-width="1.05"/>
<line x1="673.70" y1="907.19" x2="676.80" y2="907.19" stroke="#000" stroke-width="1.05"/>
<line x1="673.70" y1="901.21" x2="676.80" y2="901.21" stroke="#000" stroke-width="1.05"/>
<line x1="673.70" y1="896.03" x2="676.80" y2="896.03" stroke="#000" stroke-width="1.05"/>
<line x1="673.70" y1="891.46" x2="676.80" y2="891.46" stroke="#000" stroke-width="1.05"/>
<line x1="671.40" y1="887.37" x2="676.80" y2="887.37" stroke="#000" stroke-width="1.3"/>
<line x1="673.70" y1="860.48" x2="676.80" y2="860.48" stroke="#000" stroke-width="1.05"/>
<line x1="673.70" y1="844.75" x2="676.80" y2="844.75" stroke="#000" stroke-width="1.05"/>
<line x1="673.70" y1="833.59" x2="676.80" y2="833.59" stroke="#000" stroke-width="1.05"/>
<line x1="673.70" y1="824.93" x2="676.80" y2="824.93" stroke="#000" stroke-width="1.05"/>
<line x1="673.70" y1="817.86" x2="676.80" y2="817.86" stroke="#000" stroke-width="1.05"/>
<line x1="673.70" y1="811.88" x2="676.80" y2="811.88" stroke="#000" stroke-width="1.05"/>
<line x1="673.70" y1="806.70" x2="676.80" y2="806.70" stroke="#000" stroke-width="1.05"/>
<line x1="673.70" y1="802.13" x2="676.80" y2="802.13" stroke="#000" stroke-width="1.05"/>
<line x1="671.40" y1="798.04" x2="676.80" y2="798.04" stroke="#000" stroke-width="1.3"/>
<line x1="673.70" y1="771.15" x2="676.80" y2="771.15" stroke="#000" stroke-width="1.05"/>
<line x1="673.70" y1="755.42" x2="676.80" y2="755.42" stroke="#000" stroke-width="1.05"/>
<line x1="673.70" y1="744.26" x2="676.80" y2="744.26" stroke="#000" stroke-width="1.05"/>
<line x1="673.70" y1="735.60" x2="676.80" y2="735.60" stroke="#000" stroke-width="1.05"/>
<line x1="673.70" y1="728.53" x2="676.80" y2="728.53" stroke="#000" stroke-width="1.05"/>
<line x1="673.70" y1="722.55" x2="676.80" y2="722.55" stroke="#000" stroke-width="1.05"/>
<line x1="673.70" y1="717.37" x2="676.80" y2="717.37" stroke="#000" stroke-width="1.05"/>
<line x1="673.70" y1="712.80" x2="676.80" y2="712.80" stroke="#000" stroke-width="1.05"/>
<line x1="671.40" y1="708.71" x2="676.80" y2="708.71" stroke="#000" stroke-width="1.3"/>
<line x1="673.70" y1="681.82" x2="676.80" y2="681.82" stroke="#000" stroke-width="1.05"/>
<line x1="673.70" y1="666.09" x2="676.80" y2="666.09" stroke="#000" stroke-width="1.05"/>
<line x1="673.70" y1="654.93" x2="676.80" y2="654.93" stroke="#000" stroke-width="1.05"/>
<line x1="673.70" y1="646.27" x2="676.80" y2="646.27" stroke="#000" stroke-width="1.05"/>
<line x1="673.70" y1="639.20" x2="676.80" y2="639.20" stroke="#000" stroke-width="1.05"/>
<line x1="673.70" y1="633.22" x2="676.80" y2="633.22" stroke="#000" stroke-width="1.05"/>
<line x1="673.70" y1="628.04" x2="676.80" y2="628.04" stroke="#000" stroke-width="1.05"/>
<line x1="673.70" y1="623.47" x2="676.80" y2="623.47" stroke="#000" stroke-width="1.05"/>
<line x1="671.40" y1="619.38" x2="676.80" y2="619.38" stroke="#000" stroke-width="1.3"/>
<text x="640.20" y="981.80" font-size="14.9" textLength="18.3" lengthAdjust="spacingAndGlyphs" font-family="Liberation Sans, sans-serif">10</text>
<text x="658.80" y="976.20" font-size="10.6" font-family="Liberation Sans, sans-serif">0</text>
<text x="640.20" y="892.47" font-size="14.9" textLength="18.3" lengthAdjust="spacingAndGlyphs" font-family="Liberation Sans, sans-serif">10</text>
<text x="658.80" y="886.87" font-size="10.6" font-family="Liberation Sans, sans-serif">1</text>
<text x="640.20" y="803.14" font-size="14.9" textLength="18.3" lengthAdjust="spacingAndGlyphs" font-family="Liberation Sans, sans-serif">10</text>
<text x="658.80" y="797.54" font-size="10.6" font-family="Liberation Sans, sans-serif">2</text>
<text x="640.20" y="713.81" font-size="14.9" textLength="18.3" lengthAdjust="spacingAndGlyphs" font-family="Liberation Sans, sans-serif">10</text>
<text x="658.80" y="708.21" font-size="10.6" font-family="Liberation Sans, sans-serif">3</text>
<text x="640.20" y="624.48" font-size="14.9" textLength="18.3" lengthAdjust="spacingAndGlyphs" font-family="Liberation Sans, sans-serif">10</text>
<text x="658.80" y="618.88" font-size="10.6" font-family="Liberation Sans, sans-serif">4</text>
<line x1="733.2" y1="489.1" x2="733.2" y2="494.5" stroke="#000" stroke-width="1.3"/>
<line x1="937.95" y1="489.1" x2="937.95" y2="494.5" stroke="#000" stroke-width="1.3"/>
<line x1="1142.7" y1="489.1" x2="1142.7" y2="494.5" stroke="#000" stroke-width="1.3"/>
<text x="696.20" y="510.70" font-size="15.1" text-anchor="start" textLength="74.6" lengthAdjust="spacingAndGlyphs" font-family="Liberation Sans, sans-serif" >&lt;10 posts</text>
<text x="864.60" y="510.70" font-size="15.1" text-anchor="start" textLength="141.4" lengthAdjust="spacingAndGlyphs" font-family="Liberation Sans, sans-serif" >10 &lt;= posts &lt; 100</text>
<text x="1094.90" y="510.70" font-size="15.1" text-anchor="start" textLength="96.0" lengthAdjust="spacingAndGlyphs" font-family="Liberation Sans, sans-serif" >&gt;=100 posts</text>
<line x1="733.2" y1="993.9" x2="733.2" y2="999.3" stroke="#000" stroke-width="1.3"/>
<line x1="937.95" y1="993.9" x2="937.95" y2="999.3" stroke="#000" stroke-width="1.3"/>
<line x1="1142.7" y1="993.9" x2="1142.7" y2="999.3" stroke="#000" stroke-width="1.3"/>
<text x="696.20" y="1015.60" font-size="15.1" text-anchor="start" textLength="74.6" lengthAdjust="spacingAndGlyphs" font-family="Liberation Sans, sans-serif" >&lt;10 posts</text>
<text x="864.60" y="1015.60" font-size="15.1" text-anchor="start" textLength="141.4" lengthAdjust="spacingAndGlyphs" font-family="Liberation Sans, sans-serif" >10 &lt;= posts &lt; 100</text>
<text x="1094.90" y="1015.60" font-size="15.1" text-anchor="start" textLength="96.0" lengthAdjust="spacingAndGlyphs" font-family="Liberation Sans, sans-serif" >&gt;=100 posts</text>
<text x="269.30" y="530.90" font-size="15.1" text-anchor="start" textLength="96.8" lengthAdjust="spacingAndGlyphs" font-family="Liberation Sans, sans-serif" >Current sales</text>
<text x="893.20" y="530.50" font-size="15.1" text-anchor="start" textLength="89.0" lengthAdjust="spacingAndGlyphs" font-family="Liberation Sans, sans-serif" >Post activity</text>
<text x="273.50" y="1035.30" font-size="15.1" text-anchor="start" textLength="88.0" lengthAdjust="spacingAndGlyphs" font-family="Liberation Sans, sans-serif" >Future sales</text>
<text x="893.20" y="1035.50" font-size="15.1" text-anchor="start" textLength="89.0" lengthAdjust="spacingAndGlyphs" font-family="Liberation Sans, sans-serif" >Post activity</text>
<text transform="translate(11.70,337.30) rotate(-90)" x="0" y="0" font-size="15.1" textLength="88.70" lengthAdjust="spacingAndGlyphs" font-family="Liberation Sans, sans-serif">Post activity</text>
<text transform="translate(11.70,842.40) rotate(-90)" x="0" y="0" font-size="15.1" textLength="89.00" lengthAdjust="spacingAndGlyphs" font-family="Liberation Sans, sans-serif">Post activity</text>
<text transform="translate(632.00,343.50) rotate(-90)" x="0" y="0" font-size="15.1" textLength="97.50" lengthAdjust="spacingAndGlyphs" font-family="Liberation Sans, sans-serif">Current sales</text>
<text transform="translate(631.30,843.90) rotate(-90)" x="0" y="0" font-size="15.1" textLength="87.90" lengthAdjust="spacingAndGlyphs" font-family="Liberation Sans, sans-serif">Future sales</text>
<text x="317.20" y="566.00" font-size="24.5" font-weight="bold" text-anchor="middle" font-family="Liberation Sans, sans-serif">(a)</text>
<text x="937.00" y="566.00" font-size="24.5" font-weight="bold" text-anchor="middle" font-family="Liberation Sans, sans-serif">(b)</text>
<text x="322.10" y="1071.50" font-size="24.5" font-weight="bold" text-anchor="middle" font-family="Liberation Sans, sans-serif">(c)</text>
<text x="942.50" y="1071.50" font-size="24.5" font-weight="bold" text-anchor="middle" font-family="Liberation Sans, sans-serif">(d)</text>
<rect x="295.2" y="1.7" width="282.0" height="88.9" rx="3" ry="3" fill="#fff" fill-opacity="0.8" stroke="#d4d4d4" stroke-width="1.1"/>
<path class="mo" d="M310.4 9.1 320.2 9.1 315.3 18.9Z"/>
<text x="341.60" y="18.10" font-size="15.1" text-anchor="start" textLength="122.9" lengthAdjust="spacingAndGlyphs" font-family="Liberation Sans, sans-serif" >Outside top 20%</text>
<path class="mb" d="M310.4 40.2 320.2 40.2 315.3 30.5Z"/>
<text x="341.60" y="39.45" font-size="15.1" text-anchor="start" textLength="129.6" lengthAdjust="spacingAndGlyphs" font-family="Liberation Sans, sans-serif" >In top 20% (both)</text>
<path class="mg" d="M320.2 51.8 320.2 61.6 310.4 56.7Z"/>
<text x="341.60" y="60.80" font-size="15.1" text-anchor="start" textLength="192.8" lengthAdjust="spacingAndGlyphs" font-family="Liberation Sans, sans-serif" >In top 20% (betweenness)</text>
<path class="my" d="M310.4 73.2 310.4 82.9 320.2 78.1Z"/>
<text x="341.60" y="82.15" font-size="15.1" text-anchor="start" textLength="230.2" lengthAdjust="spacingAndGlyphs" font-family="Liberation Sans, sans-serif" >In top 20% (topic engagement)</text>
<rect x="915.2" y="3.0" width="281.8" height="90" rx="3" ry="3" fill="#fff" fill-opacity="0.8" stroke="#d4d4d4" stroke-width="1.1"/>
<rect x="921.0" y="9.80" width="29.2" height="10.4" fill="#f9dbc4" stroke="#d55e00" stroke-width="1.5"/>
<text x="961.70" y="19.60" font-size="15.1" text-anchor="start" textLength="122.9" lengthAdjust="spacingAndGlyphs" font-family="Liberation Sans, sans-serif" >Outside top 20%</text>
<rect x="921.0" y="31.25" width="29.2" height="10.4" fill="#d3dcf1" stroke="#0173b2" stroke-width="1.5"/>
<text x="961.70" y="41.05" font-size="15.1" text-anchor="start" textLength="129.6" lengthAdjust="spacingAndGlyphs" font-family="Liberation Sans, sans-serif" >In top 20% (both)</text>
<rect x="921.0" y="52.70" width="29.2" height="10.4" fill="#d8efe1" stroke="#029e73" stroke-width="1.5"/>
<text x="961.70" y="62.50" font-size="15.1" text-anchor="start" textLength="193.3" lengthAdjust="spacingAndGlyphs" font-family="Liberation Sans, sans-serif" >In top 20% (betweenness)</text>
<rect x="921.0" y="74.15" width="29.2" height="10.4" fill="#fdf8dc" stroke="#ece133" stroke-width="1.5"/>
<text x="961.70" y="83.95" font-size="15.1" text-anchor="start" textLength="229.8" lengthAdjust="spacingAndGlyphs" font-family="Liberation Sans, sans-serif" >In top 20% (topic engagement)</text>
</svg>
</body></html>
